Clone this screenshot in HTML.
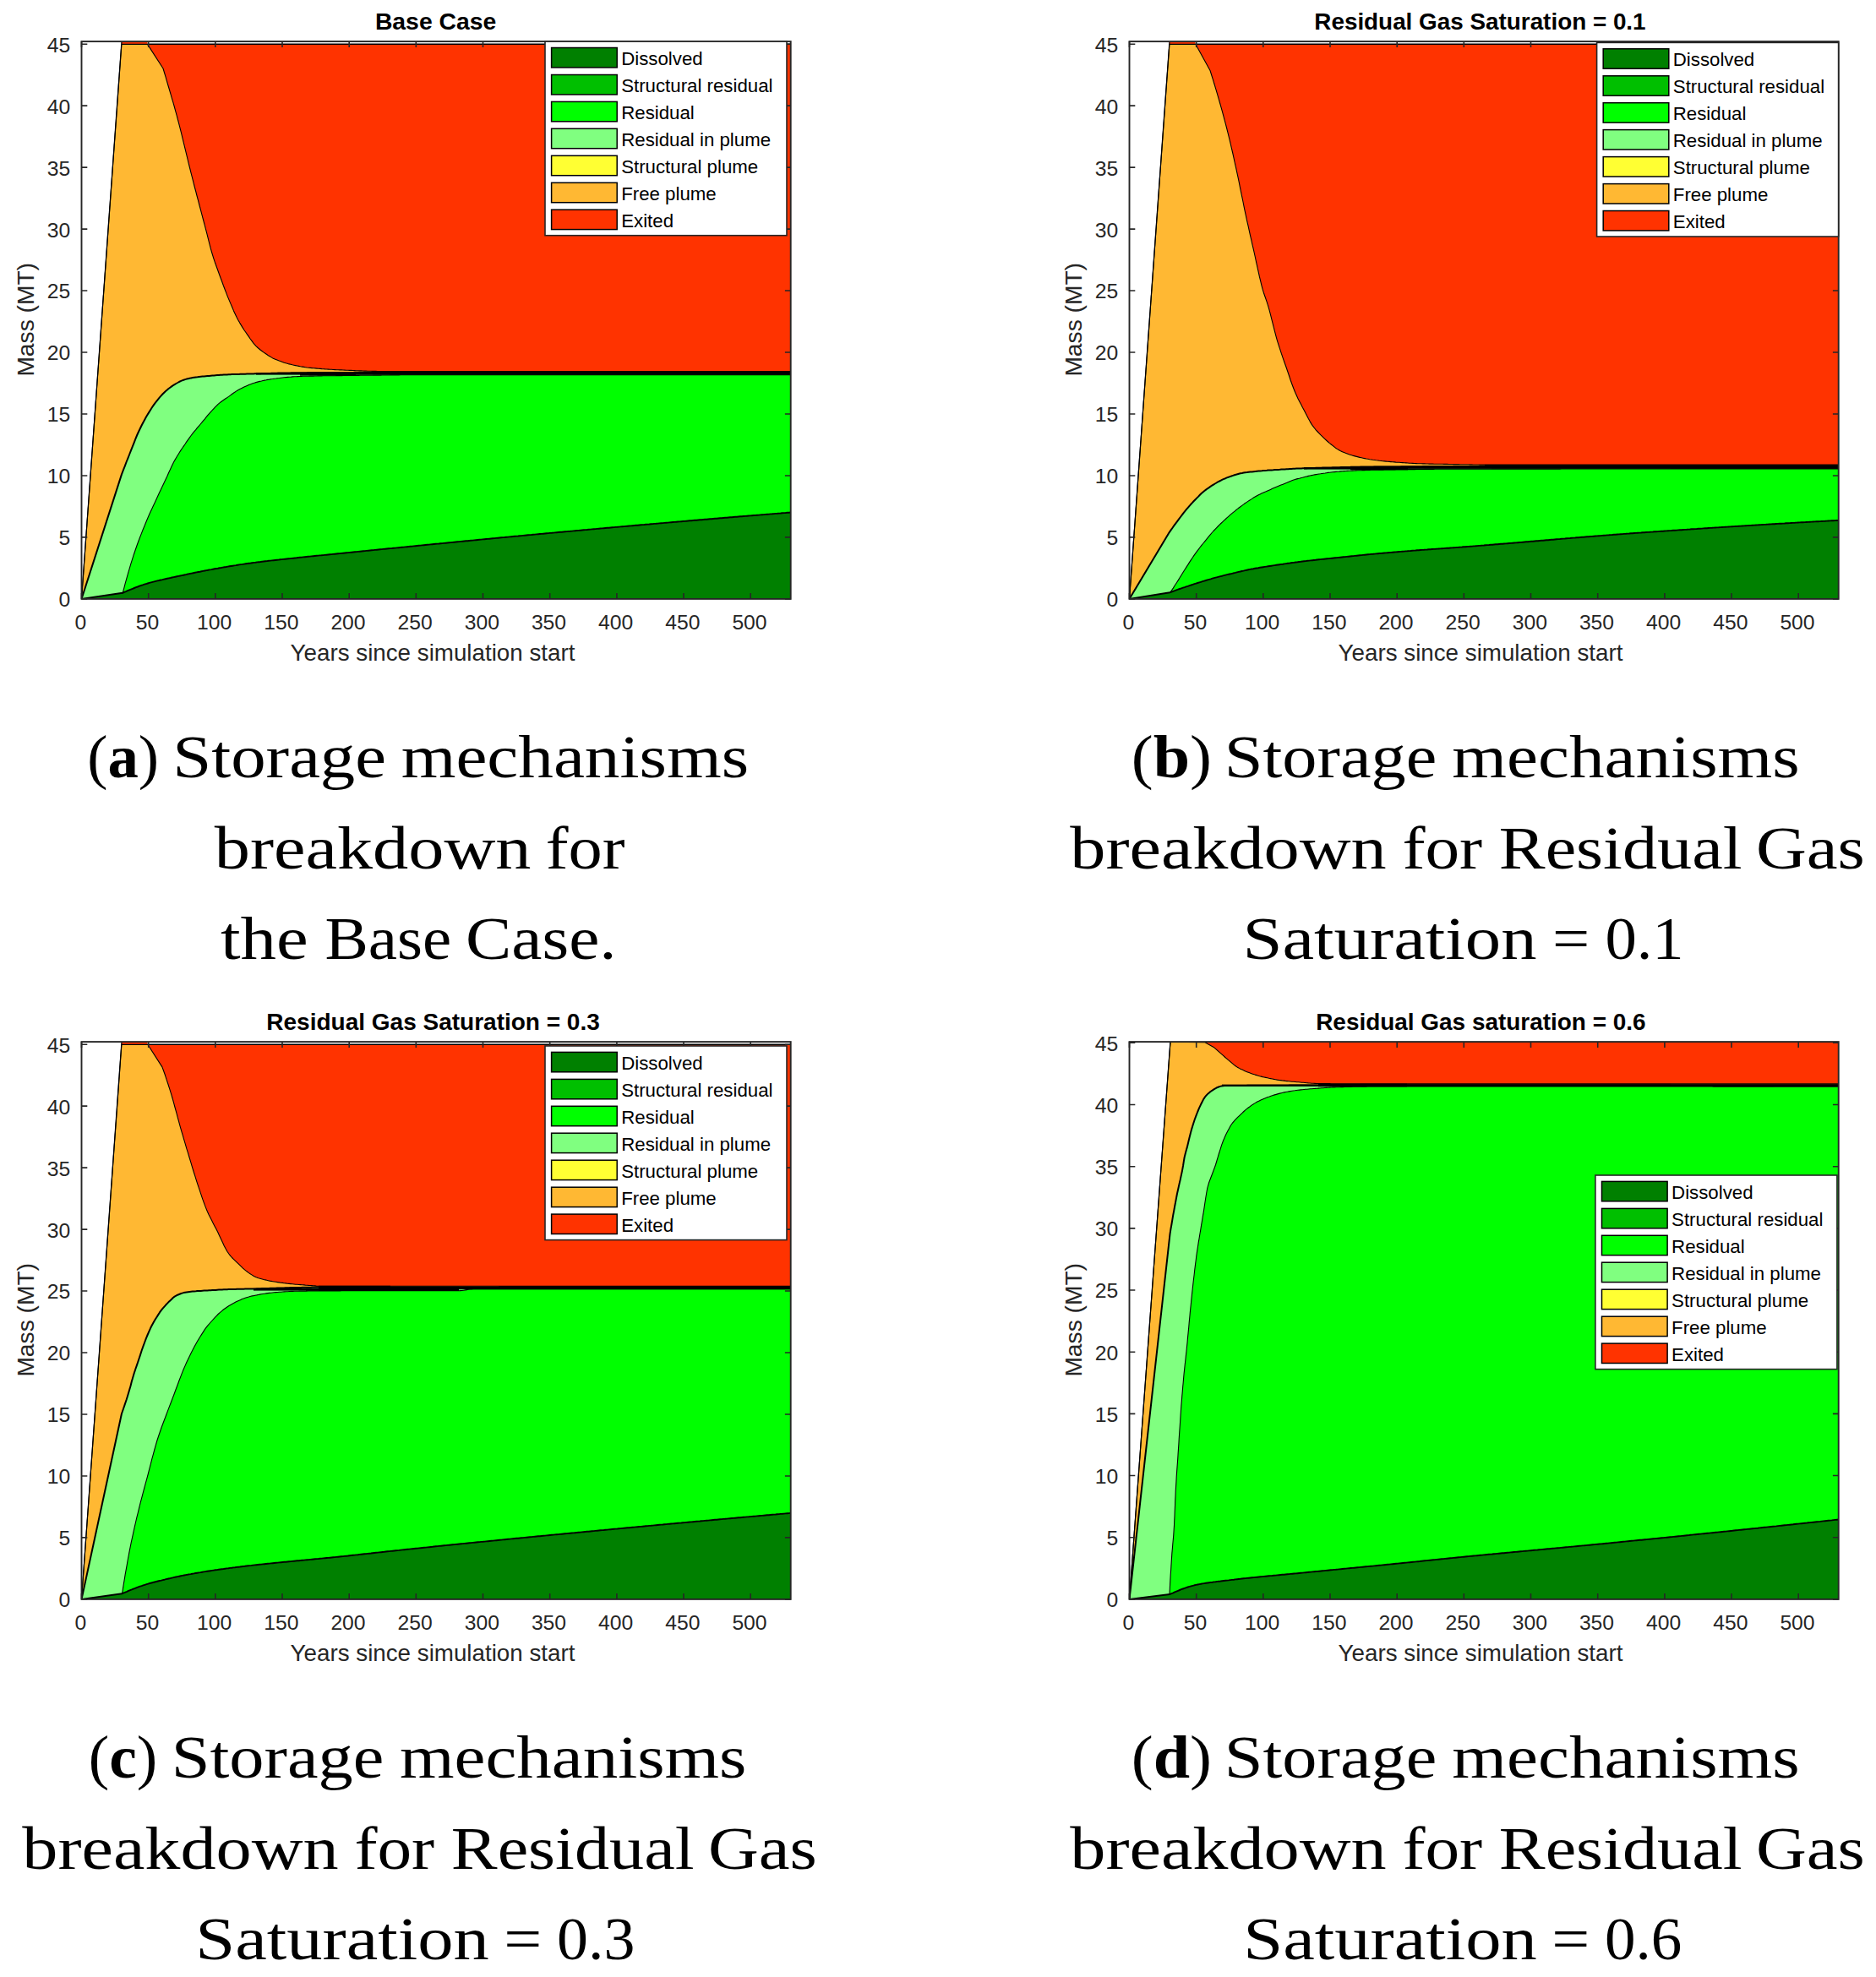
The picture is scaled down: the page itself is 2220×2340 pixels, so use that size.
<!DOCTYPE html>
<html lang="en"><head><meta charset="utf-8"><title>Storage mechanisms breakdown</title>
<style>
html,body{margin:0;padding:0;background:#fff}
body{width:2220px;height:2340px;overflow:hidden}
svg{display:block}
text{font-family:"Liberation Sans",Arial,sans-serif;fill:#262626}
.tk text{font-size:24.7px}
.lb{font-size:27.2px}
.tt{font-size:27.2px;font-weight:bold;fill:#000}
.lg{font-size:22.25px;fill:#000}
.cp{font-family:"Liberation Serif","Times New Roman",serif;font-size:72px;fill:#000}
.cp .b{font-weight:bold}
</style></head><body>
<svg width="2220" height="2340" viewBox="0 0 2220 2340">
<rect width="2220" height="2340" fill="#fff"/>
<g transform="translate(0,0)">
<clipPath id="cpa"><rect x="96.5" y="49.1" width="839.2" height="659.8"/></clipPath>
<g clip-path="url(#cpa)">
<path d="M96.5 708.9 L143.9 50 L174.5 50 L174.5 52.3 L936.7 52.3 L937.7 52.3 L937.7 709.9 L96.5 709.9Z" fill="#ff3300"/>
<path d="M96.5 708.9 L143.9 52.4 L174.5 52.4 L193 81 L194.5 86 L196 90.9 L197.4 95.9 L198.9 101 L200.4 106 L201.9 111.2 L203.4 116.4 L205 121.6 L206.5 127 L207.9 132.1 L209.3 137.2 L210.7 142.5 L212.1 147.9 L213.5 153.3 L214.9 158.8 L216.2 164.4 L217.6 170.1 L219 175.8 L220.4 181.6 L221.8 187.3 L223.1 192.9 L224.5 198.5 L225.9 204.2 L227.4 209.8 L228.8 215.4 L230.2 221 L231.7 226.5 L233.1 232 L234.6 237.5 L236 243 L237.5 248.7 L239 254.3 L240.5 260 L242 265.6 L243.5 271.3 L245 277.1 L246.5 283.1 L248 289.1 L249.5 294.8 L251 300 L252.9 306.1 L254.8 311.8 L256.8 317.2 L258.7 322.5 L260.6 327.7 L262.4 332.5 L264.1 337.3 L265.9 342 L267.7 346.6 L269.4 351.1 L271.2 355.4 L273 359.6 L274.8 363.8 L276.5 367.9 L278.3 371.8 L280.1 375.5 L281.9 378.9 L283.7 382.1 L285.5 385.1 L287.2 387.9 L289 390.7 L290.8 393.3 L292.6 395.9 L294.4 398.4 L296.1 401 L297.9 403.4 L299.7 405.8 L301.4 407.9 L303.2 409.8 L305 411.5 L306.8 413 L308.5 414.5 L310.3 415.8 L312.1 417.1 L313.9 418.3 L315.7 419.5 L317.4 420.7 L319.2 421.8 L321 422.9 L322.7 423.9 L324.5 424.7 L326.4 425.5 L328.4 426.3 L330.3 427.1 L332.3 427.8 L334.2 428.5 L336.2 429.2 L338.1 429.8 L340.1 430.3 L342 430.9 L344 431.3 L345.9 431.8 L347.8 432.2 L349.8 432.6 L351.7 433 L353.6 433.4 L355.6 433.8 L357.5 434.1 L359.5 434.4 L361.4 434.7 L363.3 435 L365.3 435.2 L367.2 435.4 L369.1 435.6 L371.1 435.8 L373 435.9 L374.9 436.1 L376.9 436.3 L378.8 436.4 L380.8 436.6 L382.7 436.7 L384.6 436.9 L386.6 437 L388.5 437.1 L390.4 437.2 L392.4 437.3 L394.3 437.5 L396.2 437.6 L398.2 437.7 L400.1 437.8 L402.1 437.9 L404 437.9 L405.9 438 L407.9 438.1 L409.8 438.2 L411.7 438.3 L413.7 438.4 L415.6 438.4 L417.6 438.5 L419.5 438.6 L421.4 438.7 L423.4 438.8 L425.3 438.9 L427.3 438.9 L429.2 439 L431.1 439.1 L433.1 439.1 L435 439.2 L437 439.3 L438.9 439.3 L440.9 439.4 L442.8 439.4 L444.7 439.4 L446.7 439.5 L448.6 439.5 L450.6 439.5 L452.5 439.5 L454.5 439.5 L456.5 439.5 L458.5 439.5 L460.5 439.5 L462.5 439.5 L464.5 439.5 L466.5 439.5 L468.5 439.5 L470.5 439.5 L472.5 439.5 L474.5 439.5 L476.5 439.5 L478.5 439.5 L480.5 439.5 L482.5 439.5 L484.4 439.5 L486.4 439.5 L488.4 439.5 L490.4 439.5 L492.4 439.5 L494.4 439.5 L496.4 439.5 L498.4 439.5 L500.4 439.5 L502.4 439.5 L504.4 439.5 L506.4 439.5 L508.4 439.5 L510.4 439.5 L512.4 439.5 L514.4 439.5 L516.4 439.5 L518.4 439.5 L520.4 439.5 L522.4 439.5 L524.4 439.5 L526.4 439.5 L528.4 439.5 L530.4 439.5 L532.4 439.5 L534.4 439.5 L536.4 439.5 L538.4 439.5 L540.4 439.5 L542.4 439.5 L544.3 439.5 L546.3 439.5 L548.3 439.5 L550.3 439.5 L552.3 439.5 L554.3 439.5 L556.3 439.5 L558.3 439.5 L560.3 439.5 L562.3 439.5 L564.3 439.5 L566.3 439.5 L568.3 439.5 L570.3 439.5 L572.3 439.5 L574.3 439.5 L576.3 439.5 L578.3 439.5 L580.3 439.5 L582.3 439.5 L584.3 439.5 L586.3 439.5 L588.3 439.5 L590.3 439.5 L592.3 439.5 L594.3 439.5 L596.3 439.5 L598.3 439.5 L600.3 439.5 L602.3 439.5 L604.2 439.5 L606.2 439.5 L608.2 439.5 L610.2 439.5 L612.2 439.5 L614.2 439.5 L616.2 439.5 L618.2 439.5 L620.2 439.5 L622.2 439.5 L624.2 439.5 L626.2 439.5 L628.2 439.5 L630.2 439.5 L632.2 439.5 L634.2 439.5 L636.2 439.5 L638.2 439.5 L640.2 439.5 L642.2 439.5 L644.2 439.5 L646.2 439.5 L648.2 439.5 L650.2 439.5 L652.2 439.5 L654.2 439.5 L656.2 439.5 L658.2 439.5 L660.2 439.5 L662.2 439.5 L664.1 439.5 L666.1 439.5 L668.1 439.5 L670.1 439.5 L672.1 439.5 L674.1 439.5 L676.1 439.5 L678.1 439.5 L680.1 439.5 L682.1 439.5 L684.1 439.5 L686.1 439.5 L688.1 439.5 L690.1 439.5 L692.1 439.5 L694.1 439.5 L696.1 439.5 L698.1 439.5 L700.1 439.5 L702.1 439.5 L704.1 439.5 L706.1 439.5 L708.1 439.5 L710.1 439.5 L712.1 439.5 L714.1 439.5 L716.1 439.5 L718.1 439.5 L720.1 439.5 L722.1 439.5 L724.1 439.5 L726 439.5 L728 439.5 L730 439.5 L732 439.5 L734 439.5 L736 439.5 L738 439.5 L740 439.5 L742 439.5 L744 439.5 L746 439.5 L748 439.5 L750 439.5 L752 439.5 L754 439.5 L756 439.5 L758 439.5 L760 439.5 L762 439.5 L764 439.5 L766 439.5 L768 439.5 L770 439.5 L772 439.5 L774 439.5 L776 439.5 L778 439.5 L780 439.5 L782 439.5 L784 439.5 L785.9 439.5 L787.9 439.5 L789.9 439.5 L791.9 439.5 L793.9 439.5 L795.9 439.5 L797.9 439.5 L799.9 439.5 L801.9 439.5 L803.9 439.5 L805.9 439.5 L807.9 439.5 L809.9 439.5 L811.9 439.5 L813.9 439.5 L815.9 439.5 L817.9 439.5 L819.9 439.5 L821.9 439.5 L823.9 439.5 L825.9 439.5 L827.9 439.5 L829.9 439.5 L831.9 439.5 L833.9 439.5 L835.9 439.5 L837.9 439.5 L839.9 439.5 L841.9 439.5 L843.9 439.5 L845.8 439.5 L847.8 439.5 L849.8 439.5 L851.8 439.5 L853.8 439.5 L855.8 439.5 L857.8 439.5 L859.8 439.5 L861.8 439.5 L863.8 439.5 L865.8 439.5 L867.8 439.5 L869.8 439.5 L871.8 439.5 L873.8 439.5 L875.8 439.5 L877.8 439.5 L879.8 439.5 L881.8 439.5 L883.8 439.5 L885.8 439.5 L887.8 439.5 L889.8 439.5 L891.8 439.5 L893.8 439.5 L895.8 439.5 L897.8 439.5 L899.8 439.5 L901.8 439.5 L903.8 439.5 L905.7 439.5 L907.7 439.5 L909.7 439.5 L911.7 439.5 L913.7 439.5 L915.7 439.5 L917.7 439.5 L919.7 439.5 L921.7 439.5 L923.7 439.5 L925.7 439.5 L927.7 439.5 L929.7 439.5 L931.7 439.5 L933.7 439.5 L935.7 439.5 L936.7 439.5 L936.7 709.9 L96.5 709.9Z" fill="#ffb833"/>
<path d="M96.5 708.9 L143.9 561.6 L145.8 556.7 L147.7 551.9 L149.5 547 L151.4 542.3 L153.3 537.5 L155.1 532.9 L156.9 528.3 L158.7 523.8 L160.4 519.3 L162.2 515 L164 511 L165.8 507.3 L167.5 503.7 L169.3 500.3 L171.1 497 L172.8 493.8 L174.6 490.8 L176.4 487.9 L178.2 485 L179.9 482.3 L181.7 479.6 L183.5 477.1 L185.3 474.8 L187.1 472.6 L188.9 470.4 L190.7 468.4 L192.4 466.5 L194.2 464.7 L196 463 L197.8 461.5 L199.5 460 L201.3 458.7 L203.1 457.4 L204.8 456.2 L206.6 455.1 L208.4 454 L210.2 453 L211.9 452 L213.7 451.1 L215.5 450.4 L217.3 449.7 L219.1 449.1 L220.8 448.6 L222.6 448.2 L224.4 447.8 L226.1 447.4 L227.9 447.1 L229.8 446.8 L231.8 446.5 L233.7 446.3 L235.7 446 L237.6 445.8 L239.6 445.6 L241.5 445.4 L243.5 445.2 L245.4 445 L247.4 444.9 L249.3 444.7 L251.2 444.5 L253.2 444.4 L255.1 444.2 L257 444.1 L259 444 L260.9 443.8 L262.9 443.7 L264.8 443.6 L266.7 443.5 L268.7 443.4 L270.6 443.3 L272.6 443.2 L274.5 443.1 L276.5 443.1 L278.4 443 L280.4 442.9 L282.4 442.9 L284.3 442.8 L286.3 442.8 L288.2 442.7 L290.2 442.7 L292.2 442.6 L294.1 442.5 L296.1 442.5 L298 442.4 L300 442.4 L301.9 442.3 L303.9 442.3 L305.8 442.2 L307.8 442.2 L309.7 442.1 L311.7 442.1 L313.6 442 L315.6 442 L317.5 441.9 L319.5 441.9 L321.4 441.8 L323.4 441.8 L325.3 441.7 L327.3 441.7 L329.2 441.6 L331.2 441.6 L333.1 441.6 L335.1 441.5 L337 441.5 L339 441.4 L340.9 441.4 L342.9 441.4 L344.8 441.3 L346.8 441.3 L348.7 441.3 L350.7 441.3 L352.6 441.2 L354.6 441.2 L356.5 441.2 L358.5 441.2 L360.5 441.2 L362.5 441.2 L364.5 441.1 L366.5 441.1 L368.5 441.1 L370.4 441.1 L372.4 441.1 L374.4 441.1 L376.4 441.1 L378.4 441.1 L380.4 441 L382.4 441 L384.4 441 L386.4 441 L388.4 441 L390.4 441 L392.4 441 L394.4 441 L396.4 441 L398.3 440.9 L400.3 440.9 L402.3 440.9 L404.3 440.9 L406.3 440.9 L408.3 440.9 L410.3 440.9 L412.3 440.9 L414.3 440.9 L416.3 440.9 L418.3 440.9 L420.3 440.8 L422.3 440.8 L424.2 440.8 L426.2 440.8 L428.2 440.8 L430.2 440.8 L432.2 440.8 L434.2 440.8 L436.2 440.8 L438.2 440.8 L440.2 440.8 L442.2 440.8 L444.2 440.8 L446.2 440.8 L448.2 440.8 L450.1 440.7 L452.1 440.7 L454.1 440.7 L456.1 440.7 L458.1 440.7 L460.1 440.7 L462.1 440.7 L464.1 440.7 L466.1 440.7 L468.1 440.7 L470.1 440.7 L472.1 440.7 L474.1 440.7 L476.1 440.7 L478 440.7 L480 440.7 L482 440.7 L484 440.7 L486 440.7 L488 440.7 L490 440.7 L492 440.7 L494 440.7 L496 440.7 L498 440.7 L500 440.7 L502 440.7 L504 440.7 L506 440.7 L508 440.7 L510 440.7 L512 440.7 L514 440.7 L516 440.7 L518 440.7 L520 440.7 L522 440.7 L524 440.7 L526 440.7 L528 440.7 L530 440.7 L532 440.7 L534 440.7 L536 440.7 L538 440.7 L540 440.7 L542 440.7 L544 440.7 L546 440.7 L548 440.7 L550 440.7 L552 440.7 L554 440.7 L556 440.7 L558 440.7 L560 440.7 L562 440.7 L564 440.7 L565.9 440.7 L567.9 440.7 L569.9 440.7 L571.9 440.7 L573.9 440.7 L575.9 440.7 L577.9 440.7 L579.9 440.7 L581.9 440.7 L583.9 440.7 L585.9 440.7 L587.9 440.7 L589.9 440.7 L591.9 440.7 L593.9 440.7 L595.9 440.7 L597.9 440.7 L599.9 440.7 L601.9 440.7 L603.9 440.7 L605.9 440.7 L607.9 440.7 L609.9 440.7 L611.9 440.7 L613.9 440.7 L615.9 440.7 L617.9 440.7 L619.9 440.7 L621.9 440.7 L623.9 440.7 L625.9 440.7 L627.9 440.7 L629.9 440.7 L631.9 440.7 L633.9 440.7 L635.9 440.7 L637.9 440.7 L639.9 440.7 L641.9 440.7 L643.9 440.7 L645.9 440.7 L647.9 440.7 L649.9 440.7 L651.9 440.7 L653.9 440.7 L655.9 440.7 L657.9 440.7 L659.9 440.7 L661.9 440.7 L663.9 440.7 L665.9 440.7 L667.9 440.7 L669.9 440.7 L671.9 440.7 L673.9 440.7 L675.9 440.7 L677.9 440.7 L679.9 440.7 L681.9 440.7 L683.9 440.7 L685.9 440.7 L687.9 440.7 L689.9 440.7 L691.9 440.7 L693.9 440.7 L695.9 440.7 L697.9 440.7 L699.9 440.7 L701.9 440.7 L703.9 440.7 L705.9 440.7 L707.9 440.7 L709.9 440.7 L711.9 440.7 L713.8 440.7 L715.8 440.7 L717.8 440.7 L719.8 440.7 L721.8 440.7 L723.8 440.7 L725.8 440.7 L727.8 440.7 L729.8 440.7 L731.8 440.7 L733.8 440.7 L735.8 440.7 L737.8 440.7 L739.8 440.7 L741.8 440.7 L743.8 440.7 L745.8 440.7 L747.8 440.7 L749.8 440.7 L751.8 440.7 L753.8 440.7 L755.8 440.7 L757.8 440.7 L759.8 440.7 L761.8 440.7 L763.8 440.7 L765.8 440.7 L767.8 440.7 L769.8 440.7 L771.8 440.7 L773.8 440.7 L775.8 440.7 L777.8 440.7 L779.8 440.7 L781.8 440.7 L783.8 440.7 L785.8 440.7 L787.8 440.7 L789.8 440.7 L791.8 440.7 L793.8 440.7 L795.8 440.7 L797.8 440.7 L799.8 440.7 L801.8 440.7 L803.8 440.7 L805.8 440.7 L807.8 440.7 L809.8 440.7 L811.8 440.7 L813.8 440.7 L815.8 440.7 L817.8 440.7 L819.8 440.7 L821.8 440.7 L823.8 440.7 L825.8 440.7 L827.8 440.7 L829.8 440.7 L831.8 440.7 L833.8 440.7 L835.8 440.7 L837.8 440.7 L839.8 440.7 L841.8 440.7 L843.8 440.7 L845.8 440.7 L847.8 440.7 L849.8 440.7 L851.8 440.7 L853.8 440.7 L855.8 440.7 L857.8 440.7 L859.8 440.7 L861.7 440.7 L863.7 440.7 L865.7 440.7 L867.7 440.7 L869.7 440.7 L871.7 440.7 L873.7 440.7 L875.7 440.7 L877.7 440.7 L879.7 440.7 L881.7 440.7 L883.7 440.7 L885.7 440.7 L887.7 440.7 L889.7 440.7 L891.7 440.7 L893.7 440.7 L895.7 440.7 L897.7 440.7 L899.7 440.7 L901.7 440.7 L903.7 440.7 L905.7 440.7 L907.7 440.7 L909.7 440.7 L911.7 440.7 L913.7 440.7 L915.7 440.7 L917.7 440.7 L919.7 440.7 L921.7 440.7 L923.7 440.7 L925.7 440.7 L927.7 440.7 L929.7 440.7 L931.7 440.7 L933.7 440.7 L935.7 440.7 L936.7 440.7 L936.7 709.9 L96.5 709.9Z" fill="#80ff80"/>
<path d="M145 702.6 L146.7 696.3 L148.3 690.2 L150 684.2 L151.6 678.3 L153.3 672.7 L154.9 667.1 L156.6 661.8 L158.2 656.7 L159.9 651.7 L161.8 646.3 L163.6 641.2 L165.5 636.2 L167.4 631.4 L169.2 626.8 L171.1 622.2 L172.9 617.7 L174.8 613.3 L176.5 609.3 L178.2 605.5 L180 601.7 L181.7 598 L183.4 594.4 L185.1 590.7 L186.7 587.2 L188.4 583.6 L190.1 580 L192.1 575.8 L194 571.7 L196 567.5 L197.8 563.7 L199.5 559.8 L201.3 555.9 L203.1 552.1 L204.8 548.5 L206.6 545.1 L208.4 542 L210.2 539 L211.9 536.2 L213.7 533.4 L215.5 530.8 L217.3 528.1 L219.1 525.5 L220.8 522.9 L222.6 520.4 L224.4 517.9 L226.1 515.5 L227.9 513.2 L229.7 510.9 L231.5 508.8 L233.2 506.7 L235 504.6 L236.8 502.5 L238.6 500.4 L240.4 498.2 L242.2 496.1 L243.9 493.9 L245.7 491.7 L247.5 489.6 L249.3 487.6 L251.1 485.7 L252.8 483.8 L254.6 481.9 L256.4 480.1 L258.1 478.4 L259.9 476.9 L261.7 475.5 L263.5 474.2 L265.2 473 L267 471.8 L268.8 470.6 L270.6 469.4 L272.4 468.1 L274.1 466.8 L275.9 465.5 L277.7 464.3 L279.4 463.1 L281.2 462 L283 461 L284.8 460.1 L286.5 459.2 L288.3 458.3 L290.1 457.5 L291.9 456.7 L293.5 456 L295.1 455.3 L296.8 454.7 L298.4 454.1 L300 453.5 L301.9 452.9 L303.8 452.4 L305.6 451.9 L307.5 451.4 L309.4 451 L311.3 450.5 L313.2 450.1 L315.1 449.8 L316.9 449.4 L318.8 449.1 L320.7 448.7 L322.6 448.5 L324.5 448.2 L326.5 448 L328.5 447.7 L330.5 447.5 L332.5 447.2 L334.5 447 L336.5 446.8 L338.5 446.6 L340.5 446.4 L342.5 446.2 L344.5 446.1 L346.5 445.9 L348.5 445.8 L350.5 445.7 L352.5 445.6 L354.5 445.5 L356.5 445.4 L358.5 445.3 L360.5 445.3 L362.5 445.2 L364.5 445.2 L366.5 445.1 L368.5 445.1 L370.5 445.1 L372.5 445 L374.5 445 L376.5 444.9 L378.5 444.9 L380.5 444.9 L382.5 444.8 L384.5 444.8 L386.5 444.8 L388.5 444.8 L390.5 444.7 L392.5 444.7 L394.5 444.7 L396.5 444.7 L398.5 444.6 L400.5 444.6 L402.5 444.6 L404.5 444.6 L406.5 444.5 L408.5 444.5 L410.5 444.5 L412.5 444.5 L414.5 444.5 L416.5 444.4 L418.5 444.4 L420.5 444.4 L422.5 444.4 L424.5 444.4 L426.5 444.3 L428.4 444.3 L430.4 444.3 L432.4 444.3 L434.4 444.2 L436.4 444.2 L438.4 444.2 L440.4 444.2 L442.3 444.1 L444.3 444.1 L446.3 444.1 L448.3 444.1 L450.3 444.1 L452.3 444 L454.3 444 L456.2 444 L458.2 444 L460.2 444 L462.2 443.9 L464.2 443.9 L466.2 443.9 L468.2 443.9 L470.1 443.9 L472.1 443.9 L474.1 443.8 L476.1 443.8 L478.1 443.8 L480.1 443.8 L482.1 443.8 L484 443.8 L486 443.8 L488 443.8 L490 443.8 L492 443.8 L494 443.8 L496 443.8 L498 443.8 L500 443.8 L502 443.8 L504 443.8 L506 443.8 L508 443.8 L510 443.8 L512 443.8 L514 443.8 L516 443.8 L518 443.8 L520 443.8 L522 443.8 L524 443.8 L526 443.8 L528 443.8 L530 443.8 L532 443.8 L534 443.8 L536 443.8 L538 443.8 L540 443.8 L542 443.8 L544 443.8 L546 443.8 L548 443.8 L550 443.8 L552 443.8 L554 443.8 L556 443.8 L558 443.8 L560 443.8 L562 443.8 L564 443.8 L565.9 443.8 L567.9 443.8 L569.9 443.8 L571.9 443.8 L573.9 443.8 L575.9 443.8 L577.9 443.8 L579.9 443.8 L581.9 443.8 L583.9 443.8 L585.9 443.8 L587.9 443.8 L589.9 443.8 L591.9 443.8 L593.9 443.8 L595.9 443.8 L597.9 443.8 L599.9 443.8 L601.9 443.8 L603.9 443.8 L605.9 443.8 L607.9 443.8 L609.9 443.8 L611.9 443.8 L613.9 443.8 L615.9 443.8 L617.9 443.8 L619.9 443.8 L621.9 443.8 L623.9 443.8 L625.9 443.8 L627.9 443.8 L629.9 443.8 L631.9 443.8 L633.9 443.8 L635.9 443.8 L637.9 443.8 L639.9 443.8 L641.9 443.8 L643.9 443.8 L645.9 443.8 L647.9 443.8 L649.9 443.8 L651.9 443.8 L653.9 443.8 L655.9 443.8 L657.9 443.8 L659.9 443.8 L661.9 443.8 L663.9 443.8 L665.9 443.8 L667.9 443.8 L669.9 443.8 L671.9 443.8 L673.9 443.8 L675.9 443.8 L677.9 443.8 L679.9 443.8 L681.9 443.8 L683.9 443.8 L685.9 443.8 L687.9 443.8 L689.9 443.8 L691.9 443.8 L693.9 443.8 L695.9 443.8 L697.9 443.8 L699.9 443.8 L701.9 443.8 L703.9 443.8 L705.9 443.8 L707.9 443.8 L709.9 443.8 L711.9 443.8 L713.8 443.8 L715.8 443.8 L717.8 443.8 L719.8 443.8 L721.8 443.8 L723.8 443.8 L725.8 443.8 L727.8 443.8 L729.8 443.8 L731.8 443.8 L733.8 443.8 L735.8 443.8 L737.8 443.8 L739.8 443.8 L741.8 443.8 L743.8 443.8 L745.8 443.8 L747.8 443.8 L749.8 443.8 L751.8 443.8 L753.8 443.8 L755.8 443.8 L757.8 443.8 L759.8 443.8 L761.8 443.8 L763.8 443.8 L765.8 443.8 L767.8 443.8 L769.8 443.8 L771.8 443.8 L773.8 443.8 L775.8 443.8 L777.8 443.8 L779.8 443.8 L781.8 443.8 L783.8 443.8 L785.8 443.8 L787.8 443.8 L789.8 443.8 L791.8 443.8 L793.8 443.8 L795.8 443.8 L797.8 443.8 L799.8 443.8 L801.8 443.8 L803.8 443.8 L805.8 443.8 L807.8 443.8 L809.8 443.8 L811.8 443.8 L813.8 443.8 L815.8 443.8 L817.8 443.8 L819.8 443.8 L821.8 443.8 L823.8 443.8 L825.8 443.8 L827.8 443.8 L829.8 443.8 L831.8 443.8 L833.8 443.8 L835.8 443.8 L837.8 443.8 L839.8 443.8 L841.8 443.8 L843.8 443.8 L845.8 443.8 L847.8 443.8 L849.8 443.8 L851.8 443.8 L853.8 443.8 L855.8 443.8 L857.8 443.8 L859.8 443.8 L861.7 443.8 L863.7 443.8 L865.7 443.8 L867.7 443.8 L869.7 443.8 L871.7 443.8 L873.7 443.8 L875.7 443.8 L877.7 443.8 L879.7 443.8 L881.7 443.8 L883.7 443.8 L885.7 443.8 L887.7 443.8 L889.7 443.8 L891.7 443.8 L893.7 443.8 L895.7 443.8 L897.7 443.8 L899.7 443.8 L901.7 443.8 L903.7 443.8 L905.7 443.8 L907.7 443.8 L909.7 443.8 L911.7 443.8 L913.7 443.8 L915.7 443.8 L917.7 443.8 L919.7 443.8 L921.7 443.8 L923.7 443.8 L925.7 443.8 L927.7 443.8 L929.7 443.8 L931.7 443.8 L933.7 443.8 L935.7 443.8 L936.7 443.8 L936.7 709.9 L145 709.9Z" fill="#00ff00"/>
<path d="M96.5 708.9 L145 701.8 L147 700.9 L149 700.1 L151 699.2 L152.9 698.4 L154.9 697.6 L156.9 696.8 L158.9 696 L160.9 695.2 L162.9 694.5 L164.9 693.7 L166.9 693 L168.8 692.4 L170.8 691.7 L172.8 691.1 L174.8 690.5 L176.7 689.9 L178.6 689.4 L180.6 688.9 L182.5 688.4 L184.4 687.9 L186.3 687.4 L188.2 687 L190.2 686.5 L192.1 686.1 L194 685.6 L195.9 685.2 L197.8 684.8 L199.8 684.4 L201.7 684 L203.6 683.5 L205.5 683.1 L207.4 682.7 L209.4 682.3 L211.3 681.9 L213.2 681.5 L215.1 681.1 L217.1 680.7 L219 680.3 L221 679.8 L222.9 679.4 L224.8 679 L226.8 678.6 L228.7 678.2 L230.7 677.8 L232.6 677.4 L234.6 677 L236.5 676.7 L238.4 676.3 L240.4 675.9 L242.3 675.5 L244.3 675.1 L246.2 674.8 L248.1 674.4 L250.1 674.1 L252 673.7 L254 673.3 L255.9 673 L257.8 672.7 L259.8 672.3 L261.7 672 L263.6 671.6 L265.6 671.3 L267.5 671 L269.5 670.6 L271.4 670.3 L273.3 670 L275.3 669.7 L277.2 669.4 L279.1 669.1 L281.1 668.7 L283 668.4 L284.9 668.1 L286.9 667.9 L288.8 667.6 L290.8 667.3 L292.7 667 L294.6 666.7 L296.6 666.5 L298.5 666.2 L300.4 665.9 L302.4 665.7 L304.3 665.4 L306.3 665.2 L308.2 665 L310.1 664.7 L312.1 664.5 L314 664.3 L316 664.1 L317.9 663.8 L319.9 663.6 L321.8 663.4 L323.7 663.2 L325.7 663 L327.6 662.8 L329.6 662.6 L331.5 662.3 L333.4 662.1 L335.4 661.9 L337.3 661.7 L339.3 661.5 L341.2 661.3 L343.2 661.1 L345.1 660.9 L347.1 660.7 L349 660.5 L351 660.3 L353 660 L354.9 659.8 L356.9 659.6 L358.8 659.4 L360.8 659.2 L362.8 659 L364.7 658.8 L366.7 658.6 L368.6 658.4 L370.6 658.2 L372.6 658 L374.5 657.8 L376.5 657.6 L378.4 657.4 L380.4 657.3 L382.4 657.1 L384.3 656.9 L386.3 656.7 L388.2 656.5 L390.2 656.3 L392.2 656.1 L394.1 655.9 L396.1 655.7 L398 655.5 L400 655.3 L402 655.1 L404 654.9 L406 654.7 L408 654.5 L410 654.3 L411.9 654.1 L413.9 653.9 L415.9 653.7 L417.9 653.5 L419.9 653.3 L421.9 653.1 L423.9 652.9 L425.9 652.7 L427.9 652.5 L429.9 652.3 L431.8 652.1 L433.8 651.9 L435.8 651.7 L437.8 651.5 L439.8 651.3 L441.8 651.1 L443.8 650.9 L445.8 650.7 L447.8 650.5 L449.8 650.3 L451.7 650.1 L453.7 649.9 L455.7 649.7 L457.7 649.5 L459.7 649.3 L461.7 649.1 L463.7 649 L465.7 648.8 L467.7 648.6 L469.7 648.4 L471.7 648.2 L473.6 648 L475.6 647.8 L477.6 647.6 L479.6 647.4 L481.6 647.2 L483.6 647 L485.6 646.8 L487.6 646.6 L489.6 646.4 L491.6 646.2 L493.5 646 L495.5 645.8 L497.5 645.6 L499.5 645.4 L501.5 645.2 L503.5 645 L505.5 644.8 L507.5 644.6 L509.5 644.4 L511.5 644.2 L513.5 644 L515.4 643.8 L517.4 643.6 L519.4 643.5 L521.4 643.3 L523.4 643.1 L525.4 642.9 L527.4 642.7 L529.4 642.5 L531.4 642.3 L533.4 642.1 L535.3 641.9 L537.3 641.7 L539.3 641.5 L541.3 641.3 L543.3 641.1 L545.3 640.9 L547.3 640.7 L549.3 640.5 L551.3 640.3 L553.3 640.2 L555.2 640 L557.2 639.8 L559.2 639.6 L561.2 639.4 L563.2 639.2 L565.2 639 L567.2 638.8 L569.2 638.6 L571.2 638.4 L573.2 638.2 L575.2 638 L577.1 637.9 L579.1 637.7 L581.1 637.5 L583.1 637.3 L585.1 637.1 L587.1 636.9 L589.1 636.7 L591.1 636.5 L593.1 636.3 L595.1 636.1 L597 636 L599 635.8 L601 635.6 L603 635.4 L605 635.2 L607 635 L609 634.8 L611 634.6 L613 634.5 L615 634.3 L617 634.1 L618.9 633.9 L620.9 633.7 L622.9 633.5 L624.9 633.3 L626.9 633.1 L628.9 633 L630.9 632.8 L632.9 632.6 L634.9 632.4 L636.9 632.2 L638.8 632 L640.8 631.9 L642.8 631.7 L644.8 631.5 L646.8 631.3 L648.8 631.1 L650.8 630.9 L652.8 630.8 L654.8 630.6 L656.8 630.4 L658.7 630.2 L660.7 630 L662.7 629.8 L664.7 629.7 L666.7 629.5 L668.7 629.3 L670.7 629.1 L672.7 628.9 L674.7 628.8 L676.7 628.6 L678.7 628.4 L680.7 628.2 L682.6 628 L684.6 627.9 L686.6 627.7 L688.6 627.5 L690.6 627.3 L692.6 627.1 L694.6 627 L696.6 626.8 L698.6 626.6 L700.6 626.4 L702.6 626.2 L704.6 626.1 L706.6 625.9 L708.6 625.7 L710.5 625.5 L712.5 625.4 L714.5 625.2 L716.5 625 L718.5 624.8 L720.5 624.7 L722.5 624.5 L724.5 624.3 L726.5 624.1 L728.5 623.9 L730.5 623.8 L732.5 623.6 L734.5 623.4 L736.4 623.2 L738.4 623.1 L740.4 622.9 L742.4 622.7 L744.4 622.5 L746.4 622.4 L748.4 622.2 L750.4 622 L752.4 621.8 L754.4 621.7 L756.4 621.5 L758.4 621.3 L760.4 621.1 L762.3 621 L764.3 620.8 L766.3 620.6 L768.3 620.5 L770.3 620.3 L772.3 620.1 L774.3 619.9 L776.3 619.8 L778.3 619.6 L780.3 619.4 L782.3 619.2 L784.3 619.1 L786.3 618.9 L788.3 618.7 L790.2 618.6 L792.2 618.4 L794.2 618.2 L796.2 618 L798.2 617.9 L800.2 617.7 L802.2 617.5 L804.2 617.4 L806.2 617.2 L808.2 617 L810.2 616.9 L812.2 616.7 L814.2 616.5 L816.1 616.3 L818.1 616.2 L820.1 616 L822.1 615.8 L824.1 615.7 L826.1 615.5 L828.1 615.3 L830.1 615.2 L832.1 615 L834.1 614.8 L836.1 614.7 L838.1 614.5 L840.1 614.3 L842.1 614.2 L844 614 L846 613.8 L848 613.7 L850 613.5 L852 613.3 L854 613.2 L856 613 L858 612.8 L860 612.7 L862 612.5 L864 612.3 L866 612.2 L868 612 L869.9 611.8 L871.9 611.7 L873.9 611.5 L875.9 611.3 L877.9 611.2 L879.9 611 L881.9 610.9 L883.9 610.7 L885.9 610.5 L887.9 610.4 L889.9 610.2 L891.9 610 L893.9 609.9 L895.8 609.7 L897.8 609.6 L899.8 609.4 L901.8 609.2 L903.8 609.1 L905.8 608.9 L907.8 608.7 L909.8 608.6 L911.8 608.4 L913.8 608.3 L915.8 608.1 L917.8 607.9 L919.8 607.8 L921.8 607.6 L923.7 607.5 L925.7 607.3 L927.7 607.1 L929.7 607 L931.7 606.8 L933.7 606.7 L935.7 606.5 L936.7 606.5 L936.7 709.9 L96.5 709.9Z" fill="#008000"/>
<path d="M96.5 708.9 L143.9 50" fill="none" stroke="#000" stroke-width="1.2" stroke-linejoin="round"/>
<path d="M174.5 52.3 L936.7 52.3" fill="none" stroke="#000" stroke-width="1.5" stroke-linejoin="round"/>
<path d="M96.5 708.9 L143.9 52.4 L174.5 52.4 L193 81 L194.5 86 L196 90.9 L197.4 95.9 L198.9 101 L200.4 106 L201.9 111.2 L203.4 116.4 L205 121.6 L206.5 127 L207.9 132.1 L209.3 137.2 L210.7 142.5 L212.1 147.9 L213.5 153.3 L214.9 158.8 L216.2 164.4 L217.6 170.1 L219 175.8 L220.4 181.6 L221.8 187.3 L223.1 192.9 L224.5 198.5 L225.9 204.2 L227.4 209.8 L228.8 215.4 L230.2 221 L231.7 226.5 L233.1 232 L234.6 237.5 L236 243 L237.5 248.7 L239 254.3 L240.5 260 L242 265.6 L243.5 271.3 L245 277.1 L246.5 283.1 L248 289.1 L249.5 294.8 L251 300 L252.9 306.1 L254.8 311.8 L256.8 317.2 L258.7 322.5 L260.6 327.7 L262.4 332.5 L264.1 337.3 L265.9 342 L267.7 346.6 L269.4 351.1 L271.2 355.4 L273 359.6 L274.8 363.8 L276.5 367.9 L278.3 371.8 L280.1 375.5 L281.9 378.9 L283.7 382.1 L285.5 385.1 L287.2 387.9 L289 390.7 L290.8 393.3 L292.6 395.9 L294.4 398.4 L296.1 401 L297.9 403.4 L299.7 405.8 L301.4 407.9 L303.2 409.8 L305 411.5 L306.8 413 L308.5 414.5 L310.3 415.8 L312.1 417.1 L313.9 418.3 L315.7 419.5 L317.4 420.7 L319.2 421.8 L321 422.9 L322.7 423.9 L324.5 424.7 L326.4 425.5 L328.4 426.3 L330.3 427.1 L332.3 427.8 L334.2 428.5 L336.2 429.2 L338.1 429.8 L340.1 430.3 L342 430.9 L344 431.3 L345.9 431.8 L347.8 432.2 L349.8 432.6 L351.7 433 L353.6 433.4 L355.6 433.8 L357.5 434.1 L359.5 434.4 L361.4 434.7 L363.3 435 L365.3 435.2 L367.2 435.4 L369.1 435.6 L371.1 435.8 L373 435.9 L374.9 436.1 L376.9 436.3 L378.8 436.4 L380.8 436.6 L382.7 436.7 L384.6 436.9 L386.6 437 L388.5 437.1 L390.4 437.2 L392.4 437.3 L394.3 437.5 L396.2 437.6 L398.2 437.7 L400.1 437.8 L402.1 437.9 L404 437.9 L405.9 438 L407.9 438.1 L409.8 438.2 L411.7 438.3 L413.7 438.4 L415.6 438.4 L417.6 438.5 L419.5 438.6 L421.4 438.7 L423.4 438.8 L425.3 438.9 L427.3 438.9 L429.2 439 L431.1 439.1 L433.1 439.1 L435 439.2 L437 439.3 L438.9 439.3 L440.9 439.4 L442.8 439.4 L444.7 439.4 L446.7 439.5 L448.6 439.5 L450.6 439.5 L452.5 439.5 L454.5 439.5 L456.5 439.5 L458.5 439.5 L460.5 439.5 L462.5 439.5 L464.5 439.5 L466.5 439.5 L468.5 439.5 L470.5 439.5 L472.5 439.5 L474.5 439.5 L476.5 439.5 L478.5 439.5 L480.5 439.5 L482.5 439.5 L484.4 439.5 L486.4 439.5 L488.4 439.5 L490.4 439.5 L492.4 439.5 L494.4 439.5 L496.4 439.5 L498.4 439.5 L500.4 439.5 L502.4 439.5 L504.4 439.5 L506.4 439.5 L508.4 439.5 L510.4 439.5 L512.4 439.5 L514.4 439.5 L516.4 439.5 L518.4 439.5 L520.4 439.5 L522.4 439.5 L524.4 439.5 L526.4 439.5 L528.4 439.5 L530.4 439.5 L532.4 439.5 L534.4 439.5 L536.4 439.5 L538.4 439.5 L540.4 439.5 L542.4 439.5 L544.3 439.5 L546.3 439.5 L548.3 439.5 L550.3 439.5 L552.3 439.5 L554.3 439.5 L556.3 439.5 L558.3 439.5 L560.3 439.5 L562.3 439.5 L564.3 439.5 L566.3 439.5 L568.3 439.5 L570.3 439.5 L572.3 439.5 L574.3 439.5 L576.3 439.5 L578.3 439.5 L580.3 439.5 L582.3 439.5 L584.3 439.5 L586.3 439.5 L588.3 439.5 L590.3 439.5 L592.3 439.5 L594.3 439.5 L596.3 439.5 L598.3 439.5 L600.3 439.5 L602.3 439.5 L604.2 439.5 L606.2 439.5 L608.2 439.5 L610.2 439.5 L612.2 439.5 L614.2 439.5 L616.2 439.5 L618.2 439.5 L620.2 439.5 L622.2 439.5 L624.2 439.5 L626.2 439.5 L628.2 439.5 L630.2 439.5 L632.2 439.5 L634.2 439.5 L636.2 439.5 L638.2 439.5 L640.2 439.5 L642.2 439.5 L644.2 439.5 L646.2 439.5 L648.2 439.5 L650.2 439.5 L652.2 439.5 L654.2 439.5 L656.2 439.5 L658.2 439.5 L660.2 439.5 L662.2 439.5 L664.1 439.5 L666.1 439.5 L668.1 439.5 L670.1 439.5 L672.1 439.5 L674.1 439.5 L676.1 439.5 L678.1 439.5 L680.1 439.5 L682.1 439.5 L684.1 439.5 L686.1 439.5 L688.1 439.5 L690.1 439.5 L692.1 439.5 L694.1 439.5 L696.1 439.5 L698.1 439.5 L700.1 439.5 L702.1 439.5 L704.1 439.5 L706.1 439.5 L708.1 439.5 L710.1 439.5 L712.1 439.5 L714.1 439.5 L716.1 439.5 L718.1 439.5 L720.1 439.5 L722.1 439.5 L724.1 439.5 L726 439.5 L728 439.5 L730 439.5 L732 439.5 L734 439.5 L736 439.5 L738 439.5 L740 439.5 L742 439.5 L744 439.5 L746 439.5 L748 439.5 L750 439.5 L752 439.5 L754 439.5 L756 439.5 L758 439.5 L760 439.5 L762 439.5 L764 439.5 L766 439.5 L768 439.5 L770 439.5 L772 439.5 L774 439.5 L776 439.5 L778 439.5 L780 439.5 L782 439.5 L784 439.5 L785.9 439.5 L787.9 439.5 L789.9 439.5 L791.9 439.5 L793.9 439.5 L795.9 439.5 L797.9 439.5 L799.9 439.5 L801.9 439.5 L803.9 439.5 L805.9 439.5 L807.9 439.5 L809.9 439.5 L811.9 439.5 L813.9 439.5 L815.9 439.5 L817.9 439.5 L819.9 439.5 L821.9 439.5 L823.9 439.5 L825.9 439.5 L827.9 439.5 L829.9 439.5 L831.9 439.5 L833.9 439.5 L835.9 439.5 L837.9 439.5 L839.9 439.5 L841.9 439.5 L843.9 439.5 L845.8 439.5 L847.8 439.5 L849.8 439.5 L851.8 439.5 L853.8 439.5 L855.8 439.5 L857.8 439.5 L859.8 439.5 L861.8 439.5 L863.8 439.5 L865.8 439.5 L867.8 439.5 L869.8 439.5 L871.8 439.5 L873.8 439.5 L875.8 439.5 L877.8 439.5 L879.8 439.5 L881.8 439.5 L883.8 439.5 L885.8 439.5 L887.8 439.5 L889.8 439.5 L891.8 439.5 L893.8 439.5 L895.8 439.5 L897.8 439.5 L899.8 439.5 L901.8 439.5 L903.8 439.5 L905.7 439.5 L907.7 439.5 L909.7 439.5 L911.7 439.5 L913.7 439.5 L915.7 439.5 L917.7 439.5 L919.7 439.5 L921.7 439.5 L923.7 439.5 L925.7 439.5 L927.7 439.5 L929.7 439.5 L931.7 439.5 L933.7 439.5 L935.7 439.5" fill="none" stroke="#000" stroke-width="1.1" stroke-linejoin="round"/>
<path d="M145 702.6 L146.7 696.3 L148.3 690.2 L150 684.2 L151.6 678.3 L153.3 672.7 L154.9 667.1 L156.6 661.8 L158.2 656.7 L159.9 651.7 L161.8 646.3 L163.6 641.2 L165.5 636.2 L167.4 631.4 L169.2 626.8 L171.1 622.2 L172.9 617.7 L174.8 613.3 L176.5 609.3 L178.2 605.5 L180 601.7 L181.7 598 L183.4 594.4 L185.1 590.7 L186.7 587.2 L188.4 583.6 L190.1 580 L192.1 575.8 L194 571.7 L196 567.5 L197.8 563.7 L199.5 559.8 L201.3 555.9 L203.1 552.1 L204.8 548.5 L206.6 545.1 L208.4 542 L210.2 539 L211.9 536.2 L213.7 533.4 L215.5 530.8 L217.3 528.1 L219.1 525.5 L220.8 522.9 L222.6 520.4 L224.4 517.9 L226.1 515.5 L227.9 513.2 L229.7 510.9 L231.5 508.8 L233.2 506.7 L235 504.6 L236.8 502.5 L238.6 500.4 L240.4 498.2 L242.2 496.1 L243.9 493.9 L245.7 491.7 L247.5 489.6 L249.3 487.6 L251.1 485.7 L252.8 483.8 L254.6 481.9 L256.4 480.1 L258.1 478.4 L259.9 476.9 L261.7 475.5 L263.5 474.2 L265.2 473 L267 471.8 L268.8 470.6 L270.6 469.4 L272.4 468.1 L274.1 466.8 L275.9 465.5 L277.7 464.3 L279.4 463.1 L281.2 462 L283 461 L284.8 460.1 L286.5 459.2 L288.3 458.3 L290.1 457.5 L291.9 456.7 L293.5 456 L295.1 455.3 L296.8 454.7 L298.4 454.1 L300 453.5 L301.9 452.9 L303.8 452.4 L305.6 451.9 L307.5 451.4 L309.4 451 L311.3 450.5 L313.2 450.1 L315.1 449.8 L316.9 449.4 L318.8 449.1 L320.7 448.7 L322.6 448.5 L324.5 448.2 L326.5 448 L328.5 447.7 L330.5 447.5 L332.5 447.2 L334.5 447 L336.5 446.8 L338.5 446.6 L340.5 446.4 L342.5 446.2 L344.5 446.1 L346.5 445.9 L348.5 445.8 L350.5 445.7 L352.5 445.6 L354.5 445.5 L356.5 445.4 L358.5 445.3 L360.5 445.3 L362.5 445.2 L364.5 445.2 L366.5 445.1 L368.5 445.1 L370.5 445.1 L372.5 445 L374.5 445 L376.5 444.9 L378.5 444.9 L380.5 444.9 L382.5 444.8 L384.5 444.8 L386.5 444.8 L388.5 444.8 L390.5 444.7 L392.5 444.7 L394.5 444.7 L396.5 444.7 L398.5 444.6 L400.5 444.6 L402.5 444.6 L404.5 444.6 L406.5 444.5 L408.5 444.5 L410.5 444.5 L412.5 444.5 L414.5 444.5 L416.5 444.4 L418.5 444.4 L420.5 444.4 L422.5 444.4 L424.5 444.4 L426.5 444.3 L428.4 444.3 L430.4 444.3 L432.4 444.3 L434.4 444.2 L436.4 444.2 L438.4 444.2 L440.4 444.2 L442.3 444.1 L444.3 444.1 L446.3 444.1 L448.3 444.1 L450.3 444.1 L452.3 444 L454.3 444 L456.2 444 L458.2 444 L460.2 444 L462.2 443.9 L464.2 443.9 L466.2 443.9 L468.2 443.9 L470.1 443.9 L472.1 443.9 L474.1 443.8 L476.1 443.8 L478.1 443.8 L480.1 443.8 L482.1 443.8 L484 443.8 L486 443.8 L488 443.8 L490 443.8 L492 443.8 L494 443.8 L496 443.8 L498 443.8 L500 443.8 L502 443.8 L504 443.8 L506 443.8 L508 443.8 L510 443.8 L512 443.8 L514 443.8 L516 443.8 L518 443.8 L520 443.8 L522 443.8 L524 443.8 L526 443.8 L528 443.8 L530 443.8 L532 443.8 L534 443.8 L536 443.8 L538 443.8 L540 443.8 L542 443.8 L544 443.8 L546 443.8 L548 443.8 L550 443.8 L552 443.8 L554 443.8 L556 443.8 L558 443.8 L560 443.8 L562 443.8 L564 443.8 L565.9 443.8 L567.9 443.8 L569.9 443.8 L571.9 443.8 L573.9 443.8 L575.9 443.8 L577.9 443.8 L579.9 443.8 L581.9 443.8 L583.9 443.8 L585.9 443.8 L587.9 443.8 L589.9 443.8 L591.9 443.8 L593.9 443.8 L595.9 443.8 L597.9 443.8 L599.9 443.8 L601.9 443.8 L603.9 443.8 L605.9 443.8 L607.9 443.8 L609.9 443.8 L611.9 443.8 L613.9 443.8 L615.9 443.8 L617.9 443.8 L619.9 443.8 L621.9 443.8 L623.9 443.8 L625.9 443.8 L627.9 443.8 L629.9 443.8 L631.9 443.8 L633.9 443.8 L635.9 443.8 L637.9 443.8 L639.9 443.8 L641.9 443.8 L643.9 443.8 L645.9 443.8 L647.9 443.8 L649.9 443.8 L651.9 443.8 L653.9 443.8 L655.9 443.8 L657.9 443.8 L659.9 443.8 L661.9 443.8 L663.9 443.8 L665.9 443.8 L667.9 443.8 L669.9 443.8 L671.9 443.8 L673.9 443.8 L675.9 443.8 L677.9 443.8 L679.9 443.8 L681.9 443.8 L683.9 443.8 L685.9 443.8 L687.9 443.8 L689.9 443.8 L691.9 443.8 L693.9 443.8 L695.9 443.8 L697.9 443.8 L699.9 443.8 L701.9 443.8 L703.9 443.8 L705.9 443.8 L707.9 443.8 L709.9 443.8 L711.9 443.8 L713.8 443.8 L715.8 443.8 L717.8 443.8 L719.8 443.8 L721.8 443.8 L723.8 443.8 L725.8 443.8 L727.8 443.8 L729.8 443.8 L731.8 443.8 L733.8 443.8 L735.8 443.8 L737.8 443.8 L739.8 443.8 L741.8 443.8 L743.8 443.8 L745.8 443.8 L747.8 443.8 L749.8 443.8 L751.8 443.8 L753.8 443.8 L755.8 443.8 L757.8 443.8 L759.8 443.8 L761.8 443.8 L763.8 443.8 L765.8 443.8 L767.8 443.8 L769.8 443.8 L771.8 443.8 L773.8 443.8 L775.8 443.8 L777.8 443.8 L779.8 443.8 L781.8 443.8 L783.8 443.8 L785.8 443.8 L787.8 443.8 L789.8 443.8 L791.8 443.8 L793.8 443.8 L795.8 443.8 L797.8 443.8 L799.8 443.8 L801.8 443.8 L803.8 443.8 L805.8 443.8 L807.8 443.8 L809.8 443.8 L811.8 443.8 L813.8 443.8 L815.8 443.8 L817.8 443.8 L819.8 443.8 L821.8 443.8 L823.8 443.8 L825.8 443.8 L827.8 443.8 L829.8 443.8 L831.8 443.8 L833.8 443.8 L835.8 443.8 L837.8 443.8 L839.8 443.8 L841.8 443.8 L843.8 443.8 L845.8 443.8 L847.8 443.8 L849.8 443.8 L851.8 443.8 L853.8 443.8 L855.8 443.8 L857.8 443.8 L859.8 443.8 L861.7 443.8 L863.7 443.8 L865.7 443.8 L867.7 443.8 L869.7 443.8 L871.7 443.8 L873.7 443.8 L875.7 443.8 L877.7 443.8 L879.7 443.8 L881.7 443.8 L883.7 443.8 L885.7 443.8 L887.7 443.8 L889.7 443.8 L891.7 443.8 L893.7 443.8 L895.7 443.8 L897.7 443.8 L899.7 443.8 L901.7 443.8 L903.7 443.8 L905.7 443.8 L907.7 443.8 L909.7 443.8 L911.7 443.8 L913.7 443.8 L915.7 443.8 L917.7 443.8 L919.7 443.8 L921.7 443.8 L923.7 443.8 L925.7 443.8 L927.7 443.8 L929.7 443.8 L931.7 443.8 L933.7 443.8 L935.7 443.8" fill="none" stroke="#000" stroke-width="1.1" stroke-linejoin="round"/>
<path d="M96.5 708.9 L143.9 561.6 L145.8 556.7 L147.7 551.9 L149.5 547 L151.4 542.3 L153.3 537.5 L155.1 532.9 L156.9 528.3 L158.7 523.8 L160.4 519.3 L162.2 515 L164 511 L165.8 507.3 L167.5 503.7 L169.3 500.3 L171.1 497 L172.8 493.8 L174.6 490.8 L176.4 487.9 L178.2 485 L179.9 482.3 L181.7 479.6 L183.5 477.1 L185.3 474.8 L187.1 472.6 L188.9 470.4 L190.7 468.4 L192.4 466.5 L194.2 464.7 L196 463 L197.8 461.5 L199.5 460 L201.3 458.7 L203.1 457.4 L204.8 456.2 L206.6 455.1 L208.4 454 L210.2 453 L211.9 452 L213.7 451.1 L215.5 450.4 L217.3 449.7 L219.1 449.1 L220.8 448.6 L222.6 448.2 L224.4 447.8 L226.1 447.4 L227.9 447.1 L229.8 446.8 L231.8 446.5 L233.7 446.3 L235.7 446 L237.6 445.8 L239.6 445.6 L241.5 445.4 L243.5 445.2 L245.4 445 L247.4 444.9 L249.3 444.7 L251.2 444.5 L253.2 444.4 L255.1 444.2 L257 444.1 L259 444 L260.9 443.8 L262.9 443.7 L264.8 443.6 L266.7 443.5 L268.7 443.4 L270.6 443.3 L272.6 443.2 L274.5 443.1 L276.5 443.1 L278.4 443 L280.4 442.9 L282.4 442.9 L284.3 442.8 L286.3 442.8 L288.2 442.7 L290.2 442.7 L292.2 442.6 L294.1 442.5 L296.1 442.5 L298 442.4 L300 442.4 L301.9 442.3 L303.9 442.3 L305.8 442.2 L307.8 442.2 L309.7 442.1 L311.7 442.1 L313.6 442 L315.6 442 L317.5 441.9 L319.5 441.9 L321.4 441.8 L323.4 441.8 L325.3 441.7 L327.3 441.7 L329.2 441.6 L331.2 441.6 L333.1 441.6 L335.1 441.5 L337 441.5 L339 441.4 L340.9 441.4 L342.9 441.4 L344.8 441.3 L346.8 441.3 L348.7 441.3 L350.7 441.3 L352.6 441.2 L354.6 441.2 L356.5 441.2 L358.5 441.2 L360.5 441.2 L362.5 441.2 L364.5 441.1 L366.5 441.1 L368.5 441.1 L370.4 441.1 L372.4 441.1 L374.4 441.1 L376.4 441.1 L378.4 441.1 L380.4 441 L382.4 441 L384.4 441 L386.4 441 L388.4 441 L390.4 441 L392.4 441 L394.4 441 L396.4 441 L398.3 440.9 L400.3 440.9 L402.3 440.9 L404.3 440.9 L406.3 440.9 L408.3 440.9 L410.3 440.9 L412.3 440.9 L414.3 440.9 L416.3 440.9 L418.3 440.9 L420.3 440.8 L422.3 440.8 L424.2 440.8 L426.2 440.8 L428.2 440.8 L430.2 440.8 L432.2 440.8 L434.2 440.8 L436.2 440.8 L438.2 440.8 L440.2 440.8 L442.2 440.8 L444.2 440.8 L446.2 440.8 L448.2 440.8 L450.1 440.7 L452.1 440.7 L454.1 440.7 L456.1 440.7 L458.1 440.7 L460.1 440.7 L462.1 440.7 L464.1 440.7 L466.1 440.7 L468.1 440.7 L470.1 440.7 L472.1 440.7 L474.1 440.7 L476.1 440.7 L478 440.7 L480 440.7 L482 440.7 L484 440.7 L486 440.7 L488 440.7 L490 440.7 L492 440.7 L494 440.7 L496 440.7 L498 440.7 L500 440.7 L502 440.7 L504 440.7 L506 440.7 L508 440.7 L510 440.7 L512 440.7 L514 440.7 L516 440.7 L518 440.7 L520 440.7 L522 440.7 L524 440.7 L526 440.7 L528 440.7 L530 440.7 L532 440.7 L534 440.7 L536 440.7 L538 440.7 L540 440.7 L542 440.7 L544 440.7 L546 440.7 L548 440.7 L550 440.7 L552 440.7 L554 440.7 L556 440.7 L558 440.7 L560 440.7 L562 440.7 L564 440.7 L565.9 440.7 L567.9 440.7 L569.9 440.7 L571.9 440.7 L573.9 440.7 L575.9 440.7 L577.9 440.7 L579.9 440.7 L581.9 440.7 L583.9 440.7 L585.9 440.7 L587.9 440.7 L589.9 440.7 L591.9 440.7 L593.9 440.7 L595.9 440.7 L597.9 440.7 L599.9 440.7 L601.9 440.7 L603.9 440.7 L605.9 440.7 L607.9 440.7 L609.9 440.7 L611.9 440.7 L613.9 440.7 L615.9 440.7 L617.9 440.7 L619.9 440.7 L621.9 440.7 L623.9 440.7 L625.9 440.7 L627.9 440.7 L629.9 440.7 L631.9 440.7 L633.9 440.7 L635.9 440.7 L637.9 440.7 L639.9 440.7 L641.9 440.7 L643.9 440.7 L645.9 440.7 L647.9 440.7 L649.9 440.7 L651.9 440.7 L653.9 440.7 L655.9 440.7 L657.9 440.7 L659.9 440.7 L661.9 440.7 L663.9 440.7 L665.9 440.7 L667.9 440.7 L669.9 440.7 L671.9 440.7 L673.9 440.7 L675.9 440.7 L677.9 440.7 L679.9 440.7 L681.9 440.7 L683.9 440.7 L685.9 440.7 L687.9 440.7 L689.9 440.7 L691.9 440.7 L693.9 440.7 L695.9 440.7 L697.9 440.7 L699.9 440.7 L701.9 440.7 L703.9 440.7 L705.9 440.7 L707.9 440.7 L709.9 440.7 L711.9 440.7 L713.8 440.7 L715.8 440.7 L717.8 440.7 L719.8 440.7 L721.8 440.7 L723.8 440.7 L725.8 440.7 L727.8 440.7 L729.8 440.7 L731.8 440.7 L733.8 440.7 L735.8 440.7 L737.8 440.7 L739.8 440.7 L741.8 440.7 L743.8 440.7 L745.8 440.7 L747.8 440.7 L749.8 440.7 L751.8 440.7 L753.8 440.7 L755.8 440.7 L757.8 440.7 L759.8 440.7 L761.8 440.7 L763.8 440.7 L765.8 440.7 L767.8 440.7 L769.8 440.7 L771.8 440.7 L773.8 440.7 L775.8 440.7 L777.8 440.7 L779.8 440.7 L781.8 440.7 L783.8 440.7 L785.8 440.7 L787.8 440.7 L789.8 440.7 L791.8 440.7 L793.8 440.7 L795.8 440.7 L797.8 440.7 L799.8 440.7 L801.8 440.7 L803.8 440.7 L805.8 440.7 L807.8 440.7 L809.8 440.7 L811.8 440.7 L813.8 440.7 L815.8 440.7 L817.8 440.7 L819.8 440.7 L821.8 440.7 L823.8 440.7 L825.8 440.7 L827.8 440.7 L829.8 440.7 L831.8 440.7 L833.8 440.7 L835.8 440.7 L837.8 440.7 L839.8 440.7 L841.8 440.7 L843.8 440.7 L845.8 440.7 L847.8 440.7 L849.8 440.7 L851.8 440.7 L853.8 440.7 L855.8 440.7 L857.8 440.7 L859.8 440.7 L861.7 440.7 L863.7 440.7 L865.7 440.7 L867.7 440.7 L869.7 440.7 L871.7 440.7 L873.7 440.7 L875.7 440.7 L877.7 440.7 L879.7 440.7 L881.7 440.7 L883.7 440.7 L885.7 440.7 L887.7 440.7 L889.7 440.7 L891.7 440.7 L893.7 440.7 L895.7 440.7 L897.7 440.7 L899.7 440.7 L901.7 440.7 L903.7 440.7 L905.7 440.7 L907.7 440.7 L909.7 440.7 L911.7 440.7 L913.7 440.7 L915.7 440.7 L917.7 440.7 L919.7 440.7 L921.7 440.7 L923.7 440.7 L925.7 440.7 L927.7 440.7 L929.7 440.7 L931.7 440.7 L933.7 440.7 L935.7 440.7" fill="none" stroke="#000" stroke-width="2.0" stroke-linejoin="round"/>
<path d="M96.5 708.9 L145 701.8 L147 700.9 L149 700.1 L151 699.2 L152.9 698.4 L154.9 697.6 L156.9 696.8 L158.9 696 L160.9 695.2 L162.9 694.5 L164.9 693.7 L166.9 693 L168.8 692.4 L170.8 691.7 L172.8 691.1 L174.8 690.5 L176.7 689.9 L178.6 689.4 L180.6 688.9 L182.5 688.4 L184.4 687.9 L186.3 687.4 L188.2 687 L190.2 686.5 L192.1 686.1 L194 685.6 L195.9 685.2 L197.8 684.8 L199.8 684.4 L201.7 684 L203.6 683.5 L205.5 683.1 L207.4 682.7 L209.4 682.3 L211.3 681.9 L213.2 681.5 L215.1 681.1 L217.1 680.7 L219 680.3 L221 679.8 L222.9 679.4 L224.8 679 L226.8 678.6 L228.7 678.2 L230.7 677.8 L232.6 677.4 L234.6 677 L236.5 676.7 L238.4 676.3 L240.4 675.9 L242.3 675.5 L244.3 675.1 L246.2 674.8 L248.1 674.4 L250.1 674.1 L252 673.7 L254 673.3 L255.9 673 L257.8 672.7 L259.8 672.3 L261.7 672 L263.6 671.6 L265.6 671.3 L267.5 671 L269.5 670.6 L271.4 670.3 L273.3 670 L275.3 669.7 L277.2 669.4 L279.1 669.1 L281.1 668.7 L283 668.4 L284.9 668.1 L286.9 667.9 L288.8 667.6 L290.8 667.3 L292.7 667 L294.6 666.7 L296.6 666.5 L298.5 666.2 L300.4 665.9 L302.4 665.7 L304.3 665.4 L306.3 665.2 L308.2 665 L310.1 664.7 L312.1 664.5 L314 664.3 L316 664.1 L317.9 663.8 L319.9 663.6 L321.8 663.4 L323.7 663.2 L325.7 663 L327.6 662.8 L329.6 662.6 L331.5 662.3 L333.4 662.1 L335.4 661.9 L337.3 661.7 L339.3 661.5 L341.2 661.3 L343.2 661.1 L345.1 660.9 L347.1 660.7 L349 660.5 L351 660.3 L353 660 L354.9 659.8 L356.9 659.6 L358.8 659.4 L360.8 659.2 L362.8 659 L364.7 658.8 L366.7 658.6 L368.6 658.4 L370.6 658.2 L372.6 658 L374.5 657.8 L376.5 657.6 L378.4 657.4 L380.4 657.3 L382.4 657.1 L384.3 656.9 L386.3 656.7 L388.2 656.5 L390.2 656.3 L392.2 656.1 L394.1 655.9 L396.1 655.7 L398 655.5 L400 655.3 L402 655.1 L404 654.9 L406 654.7 L408 654.5 L410 654.3 L411.9 654.1 L413.9 653.9 L415.9 653.7 L417.9 653.5 L419.9 653.3 L421.9 653.1 L423.9 652.9 L425.9 652.7 L427.9 652.5 L429.9 652.3 L431.8 652.1 L433.8 651.9 L435.8 651.7 L437.8 651.5 L439.8 651.3 L441.8 651.1 L443.8 650.9 L445.8 650.7 L447.8 650.5 L449.8 650.3 L451.7 650.1 L453.7 649.9 L455.7 649.7 L457.7 649.5 L459.7 649.3 L461.7 649.1 L463.7 649 L465.7 648.8 L467.7 648.6 L469.7 648.4 L471.7 648.2 L473.6 648 L475.6 647.8 L477.6 647.6 L479.6 647.4 L481.6 647.2 L483.6 647 L485.6 646.8 L487.6 646.6 L489.6 646.4 L491.6 646.2 L493.5 646 L495.5 645.8 L497.5 645.6 L499.5 645.4 L501.5 645.2 L503.5 645 L505.5 644.8 L507.5 644.6 L509.5 644.4 L511.5 644.2 L513.5 644 L515.4 643.8 L517.4 643.6 L519.4 643.5 L521.4 643.3 L523.4 643.1 L525.4 642.9 L527.4 642.7 L529.4 642.5 L531.4 642.3 L533.4 642.1 L535.3 641.9 L537.3 641.7 L539.3 641.5 L541.3 641.3 L543.3 641.1 L545.3 640.9 L547.3 640.7 L549.3 640.5 L551.3 640.3 L553.3 640.2 L555.2 640 L557.2 639.8 L559.2 639.6 L561.2 639.4 L563.2 639.2 L565.2 639 L567.2 638.8 L569.2 638.6 L571.2 638.4 L573.2 638.2 L575.2 638 L577.1 637.9 L579.1 637.7 L581.1 637.5 L583.1 637.3 L585.1 637.1 L587.1 636.9 L589.1 636.7 L591.1 636.5 L593.1 636.3 L595.1 636.1 L597 636 L599 635.8 L601 635.6 L603 635.4 L605 635.2 L607 635 L609 634.8 L611 634.6 L613 634.5 L615 634.3 L617 634.1 L618.9 633.9 L620.9 633.7 L622.9 633.5 L624.9 633.3 L626.9 633.1 L628.9 633 L630.9 632.8 L632.9 632.6 L634.9 632.4 L636.9 632.2 L638.8 632 L640.8 631.9 L642.8 631.7 L644.8 631.5 L646.8 631.3 L648.8 631.1 L650.8 630.9 L652.8 630.8 L654.8 630.6 L656.8 630.4 L658.7 630.2 L660.7 630 L662.7 629.8 L664.7 629.7 L666.7 629.5 L668.7 629.3 L670.7 629.1 L672.7 628.9 L674.7 628.8 L676.7 628.6 L678.7 628.4 L680.7 628.2 L682.6 628 L684.6 627.9 L686.6 627.7 L688.6 627.5 L690.6 627.3 L692.6 627.1 L694.6 627 L696.6 626.8 L698.6 626.6 L700.6 626.4 L702.6 626.2 L704.6 626.1 L706.6 625.9 L708.6 625.7 L710.5 625.5 L712.5 625.4 L714.5 625.2 L716.5 625 L718.5 624.8 L720.5 624.7 L722.5 624.5 L724.5 624.3 L726.5 624.1 L728.5 623.9 L730.5 623.8 L732.5 623.6 L734.5 623.4 L736.4 623.2 L738.4 623.1 L740.4 622.9 L742.4 622.7 L744.4 622.5 L746.4 622.4 L748.4 622.2 L750.4 622 L752.4 621.8 L754.4 621.7 L756.4 621.5 L758.4 621.3 L760.4 621.1 L762.3 621 L764.3 620.8 L766.3 620.6 L768.3 620.5 L770.3 620.3 L772.3 620.1 L774.3 619.9 L776.3 619.8 L778.3 619.6 L780.3 619.4 L782.3 619.2 L784.3 619.1 L786.3 618.9 L788.3 618.7 L790.2 618.6 L792.2 618.4 L794.2 618.2 L796.2 618 L798.2 617.9 L800.2 617.7 L802.2 617.5 L804.2 617.4 L806.2 617.2 L808.2 617 L810.2 616.9 L812.2 616.7 L814.2 616.5 L816.1 616.3 L818.1 616.2 L820.1 616 L822.1 615.8 L824.1 615.7 L826.1 615.5 L828.1 615.3 L830.1 615.2 L832.1 615 L834.1 614.8 L836.1 614.7 L838.1 614.5 L840.1 614.3 L842.1 614.2 L844 614 L846 613.8 L848 613.7 L850 613.5 L852 613.3 L854 613.2 L856 613 L858 612.8 L860 612.7 L862 612.5 L864 612.3 L866 612.2 L868 612 L869.9 611.8 L871.9 611.7 L873.9 611.5 L875.9 611.3 L877.9 611.2 L879.9 611 L881.9 610.9 L883.9 610.7 L885.9 610.5 L887.9 610.4 L889.9 610.2 L891.9 610 L893.9 609.9 L895.8 609.7 L897.8 609.6 L899.8 609.4 L901.8 609.2 L903.8 609.1 L905.8 608.9 L907.8 608.7 L909.8 608.6 L911.8 608.4 L913.8 608.3 L915.8 608.1 L917.8 607.9 L919.8 607.8 L921.8 607.6 L923.7 607.5 L925.7 607.3 L927.7 607.1 L929.7 607 L931.7 606.8 L933.7 606.7 L935.7 606.5" fill="none" stroke="#000" stroke-width="1.9" stroke-linejoin="round"/>
<rect x="303" y="441.2" width="52" height="2.4" fill="#000"/>
<rect x="355" y="440.8" width="66" height="3.8" fill="#000"/>
<rect x="421" y="440.6" width="36" height="3.2" fill="#000"/>
<rect x="457" y="439.1" width="479.7" height="4.7" fill="#000"/>
</g>
<path d="M96.5 708.9 v-6.8 M96.5 49.1 v6.8 M175.7 708.9 v-6.8 M175.7 49.1 v6.8 M254.8 708.9 v-6.8 M254.8 49.1 v6.8 M334 708.9 v-6.8 M334 49.1 v6.8 M413.2 708.9 v-6.8 M413.2 49.1 v6.8 M492.3 708.9 v-6.8 M492.3 49.1 v6.8 M571.5 708.9 v-6.8 M571.5 49.1 v6.8 M650.7 708.9 v-6.8 M650.7 49.1 v6.8 M729.9 708.9 v-6.8 M729.9 49.1 v6.8 M809 708.9 v-6.8 M809 49.1 v6.8 M888.2 708.9 v-6.8 M888.2 49.1 v6.8 M96.5 708.9 h6.8 M935.7 708.9 h-6.8 M96.5 635.9 h6.8 M935.7 635.9 h-6.8 M96.5 563 h6.8 M935.7 563 h-6.8 M96.5 490 h6.8 M935.7 490 h-6.8 M96.5 417 h6.8 M935.7 417 h-6.8 M96.5 344 h6.8 M935.7 344 h-6.8 M96.5 271.1 h6.8 M935.7 271.1 h-6.8 M96.5 198.1 h6.8 M935.7 198.1 h-6.8 M96.5 125.1 h6.8 M935.7 125.1 h-6.8 M96.5 52.2 h6.8 M935.7 52.2 h-6.8" stroke="#262626" stroke-width="1.6" fill="none"/>
<rect x="96.5" y="49.1" width="839.2" height="659.8" fill="none" stroke="#262626" stroke-width="1.9"/>
<g class="tk">
<text x="95.3" y="744.9" text-anchor="middle">0</text>
<text x="174.5" y="744.9" text-anchor="middle">50</text>
<text x="253.6" y="744.9" text-anchor="middle">100</text>
<text x="332.8" y="744.9" text-anchor="middle">150</text>
<text x="412" y="744.9" text-anchor="middle">200</text>
<text x="491.1" y="744.9" text-anchor="middle">250</text>
<text x="570.3" y="744.9" text-anchor="middle">300</text>
<text x="649.5" y="744.9" text-anchor="middle">350</text>
<text x="728.7" y="744.9" text-anchor="middle">400</text>
<text x="807.8" y="744.9" text-anchor="middle">450</text>
<text x="887" y="744.9" text-anchor="middle">500</text>
<text x="83.2" y="718.3" text-anchor="end">0</text>
<text x="83.2" y="645.3" text-anchor="end">5</text>
<text x="83.2" y="572.4" text-anchor="end">10</text>
<text x="83.2" y="499.4" text-anchor="end">15</text>
<text x="83.2" y="426.4" text-anchor="end">20</text>
<text x="83.2" y="353.4" text-anchor="end">25</text>
<text x="83.2" y="280.5" text-anchor="end">30</text>
<text x="83.2" y="207.5" text-anchor="end">35</text>
<text x="83.2" y="134.5" text-anchor="end">40</text>
<text x="83.2" y="61.6" text-anchor="end">45</text>
</g>
<text class="lb" x="343.6" y="782" textLength="336.8" lengthAdjust="spacingAndGlyphs">Years since simulation start</text>
<text class="lb" transform="translate(40,445.6) rotate(-90)" textLength="134.6" lengthAdjust="spacingAndGlyphs">Mass (MT)</text>
<text class="tt" x="443.9" y="35.3" textLength="143.4" lengthAdjust="spacingAndGlyphs">Base Case</text>
<g transform="translate(645,49.1)">
<rect x="0" y="0" width="286" height="229.6" fill="#fff" stroke="#262626" stroke-width="1.6"/>
<rect x="7.6" y="7.4" width="77.6" height="23.4" fill="#008000" stroke="#000" stroke-width="1.5"/>
<text class="lg" x="90.2" y="28">Dissolved</text>
<rect x="7.6" y="39.4" width="77.6" height="23.4" fill="#00bf00" stroke="#000" stroke-width="1.5"/>
<text class="lg" x="90.2" y="60">Structural residual</text>
<rect x="7.6" y="71.3" width="77.6" height="23.4" fill="#00ff00" stroke="#000" stroke-width="1.5"/>
<text class="lg" x="90.2" y="91.9">Residual</text>
<rect x="7.6" y="103.2" width="77.6" height="23.4" fill="#80ff80" stroke="#000" stroke-width="1.5"/>
<text class="lg" x="90.2" y="123.8">Residual in plume</text>
<rect x="7.6" y="135.2" width="77.6" height="23.4" fill="#ffff33" stroke="#000" stroke-width="1.5"/>
<text class="lg" x="90.2" y="155.8">Structural plume</text>
<rect x="7.6" y="167.2" width="77.6" height="23.4" fill="#ffb833" stroke="#000" stroke-width="1.5"/>
<text class="lg" x="90.2" y="187.8">Free plume</text>
<rect x="7.6" y="199.1" width="77.6" height="23.4" fill="#ff3300" stroke="#000" stroke-width="1.5"/>
<text class="lg" x="90.2" y="219.7">Exited</text>
</g>
</g>
<text class="cp" y="919.5"><tspan x="103.2" textLength="84.9" lengthAdjust="spacingAndGlyphs">(<tspan class='b'>a</tspan>)</tspan> <tspan x="204.2" textLength="252.8" lengthAdjust="spacingAndGlyphs">Storage</tspan> <tspan x="474.7" textLength="411.4" lengthAdjust="spacingAndGlyphs">mechanisms</tspan></text>
<text class="cp" y="1027.6"><tspan x="253.8" textLength="374.7" lengthAdjust="spacingAndGlyphs">breakdown</tspan> <tspan x="645.8" textLength="93.7" lengthAdjust="spacingAndGlyphs">for</tspan></text>
<text class="cp" y="1134.6"><tspan x="260.9" textLength="103.8" lengthAdjust="spacingAndGlyphs">the</tspan> <tspan x="384.4" textLength="149.7" lengthAdjust="spacingAndGlyphs">Base</tspan> <tspan x="551" textLength="178.7" lengthAdjust="spacingAndGlyphs">Case.</tspan></text>
<g transform="translate(1240,0)">
<clipPath id="cpb"><rect x="96.5" y="49.1" width="839.2" height="659.8"/></clipPath>
<g clip-path="url(#cpb)">
<path d="M96.5 708.9 L143.9 50 L174.5 50 L174.5 52.3 L936.7 52.3 L937.7 52.3 L937.7 709.9 L96.5 709.9Z" fill="#ff3300"/>
<path d="M96.5 708.9 L143.9 52.4 L174.8 52.2 L191.9 83.2 L193.6 88.5 L195.3 93.9 L197 99.5 L198.7 105.1 L200.4 110.9 L202 116.4 L203.6 122 L205.2 127.7 L206.8 133.4 L208.4 139.3 L210 145.3 L211.6 151.5 L213.2 157.8 L214.5 163.2 L215.9 168.8 L217.2 174.6 L218.6 180.5 L219.9 186.4 L221.2 192.5 L222.6 198.6 L223.9 204.7 L225.1 210.2 L226.3 215.8 L227.4 221.6 L228.6 227.3 L229.8 233.2 L231 239 L232.1 244.7 L233.3 250.4 L234.5 255.9 L235.7 261.6 L237 267.2 L238.2 272.7 L239.4 278.2 L240.7 283.7 L241.9 289.1 L243.2 294.6 L244.4 300 L245.6 305.5 L246.8 311.1 L248.1 316.8 L249.3 322.4 L250.5 327.9 L251.8 333.1 L253 338.1 L254.2 342.6 L255.8 347.8 L257.4 352.3 L259 356.9 L260.6 361.8 L262.1 367.1 L263.6 372.9 L265.1 378.9 L266.7 385.1 L268.2 391.1 L269.7 396.9 L271.2 402.3 L273 408.1 L274.8 413.6 L276.5 418.9 L278.3 424.1 L280.1 429.2 L281.9 434.3 L283.7 439.5 L285.5 444.8 L287.2 450 L289 455 L290.8 459.8 L292.6 464.2 L294.4 468.2 L296.1 471.9 L297.9 475.4 L299.7 478.8 L301.4 482.2 L303.2 485.5 L305 488.9 L306.8 492.4 L308.5 495.8 L310.3 499.1 L312.1 502.1 L313.9 504.7 L315.7 507 L317.4 509.1 L319.2 511 L321 512.9 L322.7 514.7 L324.5 516.4 L326.3 518.1 L328.1 519.8 L329.9 521.5 L331.6 523 L333.4 524.6 L335.2 526 L337 527.4 L338.8 528.8 L340.5 530.2 L342.3 531.4 L344.1 532.5 L345.9 533.5 L347.8 534.4 L349.8 535.3 L351.7 536.1 L353.6 536.8 L355.6 537.5 L357.5 538.2 L359.5 538.8 L361.4 539.4 L363.3 539.9 L365.3 540.4 L367.2 540.9 L369.1 541.4 L371.1 541.8 L373 542.2 L374.9 542.6 L376.9 543 L378.8 543.3 L380.8 543.7 L382.7 544 L384.6 544.3 L386.6 544.5 L388.5 544.8 L390.4 545 L392.4 545.3 L394.3 545.5 L396.2 545.7 L398.2 545.9 L400.1 546.1 L402.1 546.3 L404 546.4 L405.9 546.6 L407.9 546.8 L409.8 546.9 L411.8 547.1 L413.8 547.2 L415.8 547.3 L417.8 547.5 L419.8 547.6 L421.8 547.8 L423.8 547.9 L425.8 548 L427.8 548.2 L429.8 548.3 L431.8 548.4 L433.8 548.5 L435.8 548.6 L437.8 548.7 L439.8 548.7 L441.8 548.8 L443.7 548.9 L445.7 548.9 L447.6 549 L449.5 549 L451.4 549.1 L453.4 549.1 L455.3 549.1 L457.2 549.2 L459.2 549.2 L461.1 549.2 L463 549.3 L464.9 549.3 L466.9 549.3 L468.8 549.4 L470.7 549.4 L472.6 549.4 L474.6 549.5 L476.5 549.5 L478.4 549.5 L480.4 549.6 L482.3 549.6 L484.2 549.6 L486.1 549.6 L488.1 549.7 L490 549.7 L491.9 549.7 L493.9 549.8 L495.8 549.8 L497.7 549.8 L499.6 549.9 L501.6 549.9 L503.5 550 L505.4 550 L507.4 550 L509.3 550 L511.2 550.1 L513.1 550.1 L515.1 550.1 L517 550.1 L519 550.1 L521 550.1 L523 550.1 L525 550.1 L527 550.1 L529 550.1 L531 550.1 L533 550.1 L534.9 550.1 L536.9 550.1 L538.9 550.1 L540.9 550.1 L542.9 550.1 L544.9 550.1 L546.9 550.1 L548.9 550.1 L550.9 550.1 L552.9 550.1 L554.9 550.1 L556.9 550.1 L558.9 550.1 L560.9 550.1 L562.9 550.1 L564.9 550.1 L566.8 550.1 L568.8 550.1 L570.8 550.1 L572.8 550.1 L574.8 550.1 L576.8 550.1 L578.8 550.1 L580.8 550.1 L582.8 550.1 L584.8 550.1 L586.8 550.1 L588.8 550.1 L590.8 550.1 L592.8 550.1 L594.8 550.1 L596.8 550.1 L598.7 550.1 L600.7 550.1 L602.7 550.1 L604.7 550.1 L606.7 550.1 L608.7 550.1 L610.7 550.1 L612.7 550.1 L614.7 550.1 L616.7 550.1 L618.7 550.1 L620.7 550.1 L622.7 550.1 L624.7 550.1 L626.7 550.1 L628.7 550.1 L630.6 550.1 L632.6 550.1 L634.6 550.1 L636.6 550.1 L638.6 550.1 L640.6 550.1 L642.6 550.1 L644.6 550.1 L646.6 550.1 L648.6 550.1 L650.6 550.1 L652.6 550.1 L654.6 550.1 L656.6 550.1 L658.6 550.1 L660.6 550.1 L662.5 550.1 L664.5 550.1 L666.5 550.1 L668.5 550.1 L670.5 550.1 L672.5 550.1 L674.5 550.1 L676.5 550.1 L678.5 550.1 L680.5 550.1 L682.5 550.1 L684.5 550.1 L686.5 550.1 L688.5 550.1 L690.5 550.1 L692.5 550.1 L694.4 550.1 L696.4 550.1 L698.4 550.1 L700.4 550.1 L702.4 550.1 L704.4 550.1 L706.4 550.1 L708.4 550.1 L710.4 550.1 L712.4 550.1 L714.4 550.1 L716.4 550.1 L718.4 550.1 L720.4 550.1 L722.4 550.1 L724.4 550.1 L726.4 550.1 L728.3 550.1 L730.3 550.1 L732.3 550.1 L734.3 550.1 L736.3 550.1 L738.3 550.1 L740.3 550.1 L742.3 550.1 L744.3 550.1 L746.3 550.1 L748.3 550.1 L750.3 550.1 L752.3 550.1 L754.3 550.1 L756.3 550.1 L758.3 550.1 L760.2 550.1 L762.2 550.1 L764.2 550.1 L766.2 550.1 L768.2 550.1 L770.2 550.1 L772.2 550.1 L774.2 550.1 L776.2 550.1 L778.2 550.1 L780.2 550.1 L782.2 550.1 L784.2 550.1 L786.2 550.1 L788.2 550.1 L790.2 550.1 L792.1 550.1 L794.1 550.1 L796.1 550.1 L798.1 550.1 L800.1 550.1 L802.1 550.1 L804.1 550.1 L806.1 550.1 L808.1 550.1 L810.1 550.1 L812.1 550.1 L814.1 550.1 L816.1 550.1 L818.1 550.1 L820.1 550.1 L822.1 550.1 L824 550.1 L826 550.1 L828 550.1 L830 550.1 L832 550.1 L834 550.1 L836 550.1 L838 550.1 L840 550.1 L842 550.1 L844 550.1 L846 550.1 L848 550.1 L850 550.1 L852 550.1 L854 550.1 L855.9 550.1 L857.9 550.1 L859.9 550.1 L861.9 550.1 L863.9 550.1 L865.9 550.1 L867.9 550.1 L869.9 550.1 L871.9 550.1 L873.9 550.1 L875.9 550.1 L877.9 550.1 L879.9 550.1 L881.9 550.1 L883.9 550.1 L885.9 550.1 L887.8 550.1 L889.8 550.1 L891.8 550.1 L893.8 550.1 L895.8 550.1 L897.8 550.1 L899.8 550.1 L901.8 550.1 L903.8 550.1 L905.8 550.1 L907.8 550.1 L909.8 550.1 L911.8 550.1 L913.8 550.1 L915.8 550.1 L917.8 550.1 L919.7 550.1 L921.7 550.1 L923.7 550.1 L925.7 550.1 L927.7 550.1 L929.7 550.1 L931.7 550.1 L933.7 550.1 L935.7 550.1 L936.7 550.1 L936.7 709.9 L96.5 709.9Z" fill="#ffb833"/>
<path d="M96.5 708.9 L143.9 629.8 L145.8 627.1 L147.7 624.5 L149.5 621.9 L151.4 619.3 L153.3 616.8 L155.1 614.4 L156.9 612 L158.7 609.7 L160.4 607.3 L162.2 605.1 L164 602.9 L165.8 600.8 L167.5 598.8 L169.3 596.8 L171.1 594.9 L172.8 593 L174.6 591.2 L176.4 589.4 L178.2 587.6 L179.9 585.8 L181.7 584.1 L183.5 582.5 L185.3 581 L187.1 579.6 L188.9 578.3 L190.7 577.1 L192.4 575.9 L194.2 574.7 L196 573.6 L197.8 572.5 L199.5 571.5 L201.3 570.4 L203.1 569.5 L204.8 568.6 L206.6 567.7 L208.4 566.9 L210.2 566.2 L211.9 565.4 L213.7 564.8 L215.5 564.1 L217.3 563.5 L219.1 562.9 L220.8 562.3 L222.6 561.7 L224.4 561.2 L226.1 560.7 L227.9 560.3 L229.8 560 L231.8 559.6 L233.7 559.3 L235.7 559.1 L237.6 558.8 L239.6 558.6 L241.5 558.4 L243.5 558.2 L245.4 558 L247.4 557.8 L249.3 557.6 L251.2 557.4 L253.2 557.3 L255.1 557.1 L257 556.9 L259 556.8 L260.9 556.6 L262.9 556.5 L264.8 556.4 L266.7 556.3 L268.7 556.1 L270.6 556 L272.6 555.9 L274.5 555.8 L276.5 555.6 L278.4 555.5 L280.4 555.4 L282.4 555.3 L284.3 555.2 L286.3 555 L288.2 554.9 L290.2 554.8 L292.2 554.7 L294.1 554.6 L296.1 554.6 L298 554.5 L300 554.4 L301.9 554.3 L303.9 554.3 L305.8 554.2 L307.8 554.1 L309.7 554.1 L311.7 554 L313.6 553.9 L315.6 553.9 L317.5 553.8 L319.5 553.8 L321.4 553.7 L323.4 553.7 L325.3 553.6 L327.3 553.6 L329.2 553.5 L331.2 553.5 L333.1 553.4 L335.1 553.4 L337 553.3 L339 553.3 L340.9 553.3 L342.9 553.2 L344.8 553.2 L346.8 553.1 L348.7 553.1 L350.7 553.1 L352.6 553.1 L354.6 553 L356.5 553 L358.5 553 L360.5 553 L362.5 552.9 L364.5 552.9 L366.5 552.9 L368.5 552.9 L370.4 552.8 L372.4 552.8 L374.4 552.8 L376.4 552.8 L378.4 552.7 L380.4 552.7 L382.4 552.7 L384.4 552.7 L386.4 552.6 L388.4 552.6 L390.4 552.6 L392.4 552.6 L394.4 552.6 L396.4 552.5 L398.3 552.5 L400.3 552.5 L402.3 552.5 L404.3 552.5 L406.3 552.4 L408.3 552.4 L410.3 552.4 L412.3 552.4 L414.3 552.4 L416.3 552.4 L418.3 552.3 L420.3 552.3 L422.3 552.3 L424.2 552.3 L426.2 552.3 L428.2 552.3 L430.2 552.2 L432.2 552.2 L434.2 552.2 L436.2 552.2 L438.2 552.2 L440.2 552.2 L442.2 552.2 L444.2 552.1 L446.2 552.1 L448.2 552.1 L450.1 552.1 L452.1 552.1 L454.1 552.1 L456.1 552.1 L458.1 552.1 L460.1 552.1 L462.1 552.1 L464.1 552 L466.1 552 L468.1 552 L470.1 552 L472.1 552 L474.1 552 L476.1 552 L478 552 L480 552 L482 552 L484 552 L486 552 L488 552 L490 552 L492 552 L494 552 L496 552 L498 552 L500 552 L502 552 L504 552 L506 552 L508 552 L510 552 L512 552 L514 552 L516 552 L518 552 L520 552 L522 552 L524 552 L526 552 L528 552 L530 552 L532 552 L534 552 L536 552 L538 552 L540 552 L542 552 L544 552 L546 552 L548 552 L550 552 L552 552 L554 552 L556 552 L558 552 L560 552 L562 552 L564 552 L565.9 552 L567.9 552 L569.9 552 L571.9 552 L573.9 552 L575.9 552 L577.9 552 L579.9 552 L581.9 552 L583.9 552 L585.9 552 L587.9 552 L589.9 552 L591.9 552 L593.9 552 L595.9 552 L597.9 552 L599.9 552 L601.9 552 L603.9 552 L605.9 552 L607.9 552 L609.9 552 L611.9 552 L613.9 552 L615.9 552 L617.9 552 L619.9 552 L621.9 552 L623.9 552 L625.9 552 L627.9 552 L629.9 552 L631.9 552 L633.9 552 L635.9 552 L637.9 552 L639.9 552 L641.9 552 L643.9 552 L645.9 552 L647.9 552 L649.9 552 L651.9 552 L653.9 552 L655.9 552 L657.9 552 L659.9 552 L661.9 552 L663.9 552 L665.9 552 L667.9 552 L669.9 552 L671.9 552 L673.9 552 L675.9 552 L677.9 552 L679.9 552 L681.9 552 L683.9 552 L685.9 552 L687.9 552 L689.9 552 L691.9 552 L693.9 552 L695.9 552 L697.9 552 L699.9 552 L701.9 552 L703.9 552 L705.9 552 L707.9 552 L709.9 552 L711.9 552 L713.8 552 L715.8 552 L717.8 552 L719.8 552 L721.8 552 L723.8 552 L725.8 552 L727.8 552 L729.8 552 L731.8 552 L733.8 552 L735.8 552 L737.8 552 L739.8 552 L741.8 552 L743.8 552 L745.8 552 L747.8 552 L749.8 552 L751.8 552 L753.8 552 L755.8 552 L757.8 552 L759.8 552 L761.8 552 L763.8 552 L765.8 552 L767.8 552 L769.8 552 L771.8 552 L773.8 552 L775.8 552 L777.8 552 L779.8 552 L781.8 552 L783.8 552 L785.8 552 L787.8 552 L789.8 552 L791.8 552 L793.8 552 L795.8 552 L797.8 552 L799.8 552 L801.8 552 L803.8 552 L805.8 552 L807.8 552 L809.8 552 L811.8 552 L813.8 552 L815.8 552 L817.8 552 L819.8 552 L821.8 552 L823.8 552 L825.8 552 L827.8 552 L829.8 552 L831.8 552 L833.8 552 L835.8 552 L837.8 552 L839.8 552 L841.8 552 L843.8 552 L845.8 552 L847.8 552 L849.8 552 L851.8 552 L853.8 552 L855.8 552 L857.8 552 L859.8 552 L861.7 552 L863.7 552 L865.7 552 L867.7 552 L869.7 552 L871.7 552 L873.7 552 L875.7 552 L877.7 552 L879.7 552 L881.7 552 L883.7 552 L885.7 552 L887.7 552 L889.7 552 L891.7 552 L893.7 552 L895.7 552 L897.7 552 L899.7 552 L901.7 552 L903.7 552 L905.7 552 L907.7 552 L909.7 552 L911.7 552 L913.7 552 L915.7 552 L917.7 552 L919.7 552 L921.7 552 L923.7 552 L925.7 552 L927.7 552 L929.7 552 L931.7 552 L933.7 552 L935.7 552 L936.7 552 L936.7 709.9 L96.5 709.9Z" fill="#80ff80"/>
<path d="M144.4 702 L146.3 699 L148.3 696.1 L150.2 693 L152.2 690 L154.2 686.9 L156.1 683.7 L158.1 680.5 L160.1 677.3 L162 674.2 L164 671.1 L165.8 668.4 L167.5 665.6 L169.3 662.9 L171.1 660.2 L172.8 657.6 L174.6 655.1 L176.4 652.7 L178.2 650.3 L179.9 648 L181.7 645.7 L183.5 643.5 L185.3 641.3 L187.1 639.1 L188.9 636.9 L190.7 634.7 L192.4 632.6 L194.2 630.5 L196 628.5 L197.8 626.6 L199.5 624.8 L201.3 623 L203.1 621.2 L204.8 619.5 L206.6 617.8 L208.4 616.1 L210.2 614.5 L211.9 612.9 L213.7 611.3 L215.5 609.7 L217.3 608.2 L219.1 606.7 L220.8 605.3 L222.6 603.8 L224.4 602.4 L226.1 601 L227.9 599.7 L229.7 598.4 L231.5 597.1 L233.2 595.8 L235 594.6 L236.8 593.4 L238.6 592.2 L240.4 591.1 L242.2 589.9 L243.9 588.8 L245.7 587.8 L247.5 586.8 L249.3 585.8 L251.1 584.9 L252.8 584.1 L254.6 583.3 L256.4 582.5 L258.1 581.8 L259.9 581 L261.7 580.2 L263.5 579.4 L265.2 578.6 L267 577.8 L268.8 577 L270.6 576.2 L272.4 575.5 L274.1 574.8 L275.9 574.1 L277.7 573.4 L279.4 572.7 L281.2 572 L283 571.3 L284.8 570.5 L286.5 569.7 L288.3 569 L290.1 568.3 L291.9 567.7 L293.8 567.1 L295.7 566.6 L297.5 566.2 L299.4 565.7 L301.3 565.3 L303.2 564.8 L305 564.3 L306.8 563.9 L308.5 563.4 L310.3 563 L312.1 562.6 L313.9 562.2 L315.7 561.9 L317.4 561.6 L319.2 561.3 L321 561 L322.7 560.8 L324.5 560.5 L326.3 560.2 L328.1 560 L329.9 559.7 L331.6 559.4 L333.4 559.2 L335.2 559 L337.1 558.8 L339.1 558.6 L341 558.4 L342.9 558.2 L344.9 558.1 L346.8 557.9 L348.8 557.8 L350.7 557.6 L352.6 557.5 L354.6 557.4 L356.5 557.3 L358.5 557.2 L360.5 557.1 L362.5 557 L364.5 556.9 L366.5 556.8 L368.5 556.8 L370.5 556.7 L372.5 556.6 L374.5 556.6 L376.5 556.5 L378.5 556.4 L380.5 556.4 L382.5 556.3 L384.5 556.3 L386.5 556.2 L388.5 556.2 L390.5 556.2 L392.5 556.1 L394.5 556.1 L396.5 556.1 L398.5 556 L400.4 556 L402.4 556 L404.4 555.9 L406.4 555.9 L408.4 555.9 L410.4 555.9 L412.4 555.8 L414.4 555.8 L416.4 555.8 L418.4 555.7 L420.3 555.7 L422.3 555.7 L424.3 555.7 L426.3 555.6 L428.3 555.6 L430.3 555.6 L432.3 555.6 L434.3 555.6 L436.3 555.5 L438.3 555.5 L440.2 555.5 L442.2 555.5 L444.2 555.5 L446.2 555.4 L448.2 555.4 L450.2 555.4 L452.2 555.4 L454.2 555.4 L456.2 555.4 L458.2 555.3 L460.1 555.3 L462.1 555.3 L464.1 555.3 L466.1 555.3 L468.1 555.3 L470.1 555.3 L472.1 555.3 L474.1 555.2 L476.1 555.2 L478.1 555.2 L480 555.2 L482 555.2 L484 555.2 L486 555.2 L488 555.2 L490 555.2 L492 555.2 L494 555.2 L496 555.2 L498 555.2 L500 555.2 L502 555.2 L504 555.2 L506 555.2 L508 555.2 L510 555.2 L512 555.2 L514 555.2 L516 555.2 L518 555.2 L520 555.2 L522 555.2 L524 555.2 L526 555.1 L528 555.1 L530 555.1 L532 555.1 L534 555.1 L536 555.1 L538 555.1 L540 555.1 L542 555.1 L544 555.1 L546 555.1 L548 555.1 L550 555.1 L552 555.1 L554 555.1 L556 555.1 L558 555.1 L560 555.1 L562 555.1 L564 555.1 L565.9 555.1 L567.9 555.1 L569.9 555.1 L571.9 555.1 L573.9 555.1 L575.9 555.1 L577.9 555.1 L579.9 555.1 L581.9 555.1 L583.9 555.1 L585.9 555.1 L587.9 555.1 L589.9 555.1 L591.9 555.1 L593.9 555.1 L595.9 555.1 L597.9 555.1 L599.9 555.1 L601.9 555.1 L603.9 555.1 L605.9 555.1 L607.9 555 L609.9 555 L611.9 555 L613.9 555 L615.9 555 L617.9 555 L619.9 555 L621.9 555 L623.9 555 L625.9 555 L627.9 555 L629.9 555 L631.9 555 L633.9 555 L635.9 555 L637.9 555 L639.9 555 L641.9 555 L643.9 555 L645.9 555 L647.9 555 L649.9 555 L651.9 555 L653.9 555 L655.9 555 L657.9 555 L659.9 555 L661.9 555 L663.9 555 L665.9 555 L667.9 555 L669.9 555 L671.9 555 L673.9 555 L675.9 555 L677.9 555 L679.9 555 L681.9 555 L683.9 555 L685.9 555 L687.9 555 L689.9 555 L691.9 555 L693.9 555 L695.9 555 L697.9 555 L699.9 555 L701.9 555 L703.9 555 L705.9 555 L707.9 555 L709.9 555 L711.9 555 L713.8 555 L715.8 555 L717.8 555 L719.8 555 L721.8 555 L723.8 555 L725.8 555 L727.8 555 L729.8 555 L731.8 555 L733.8 555 L735.8 555 L737.8 554.9 L739.8 554.9 L741.8 554.9 L743.8 554.9 L745.8 554.9 L747.8 554.9 L749.8 554.9 L751.8 554.9 L753.8 554.9 L755.8 554.9 L757.8 554.9 L759.8 554.9 L761.8 554.9 L763.8 554.9 L765.8 554.9 L767.8 554.9 L769.8 554.9 L771.8 554.9 L773.8 554.9 L775.8 554.9 L777.8 554.9 L779.8 554.9 L781.8 554.9 L783.8 554.9 L785.8 554.9 L787.8 554.9 L789.8 554.9 L791.8 554.9 L793.8 554.9 L795.8 554.9 L797.8 554.9 L799.8 554.9 L801.8 554.9 L803.8 554.9 L805.8 554.9 L807.8 554.9 L809.8 554.9 L811.8 554.9 L813.8 554.9 L815.8 554.9 L817.8 554.9 L819.8 554.9 L821.8 554.9 L823.8 554.9 L825.8 554.9 L827.8 554.9 L829.8 554.9 L831.8 554.9 L833.8 554.9 L835.8 554.9 L837.8 554.9 L839.8 554.9 L841.8 554.9 L843.8 554.9 L845.8 554.9 L847.8 554.9 L849.8 554.9 L851.8 554.9 L853.8 554.9 L855.8 554.9 L857.8 554.9 L859.8 554.9 L861.7 554.9 L863.7 554.9 L865.7 554.9 L867.7 554.9 L869.7 554.9 L871.7 554.9 L873.7 554.9 L875.7 554.9 L877.7 554.9 L879.7 554.9 L881.7 554.9 L883.7 554.9 L885.7 554.9 L887.7 554.9 L889.7 554.9 L891.7 554.9 L893.7 554.9 L895.7 554.9 L897.7 554.9 L899.7 554.9 L901.7 554.9 L903.7 554.9 L905.7 554.9 L907.7 554.9 L909.7 554.9 L911.7 554.9 L913.7 554.9 L915.7 554.9 L917.7 554.9 L919.7 554.9 L921.7 554.9 L923.7 554.9 L925.7 554.9 L927.7 554.9 L929.7 554.9 L931.7 554.9 L933.7 554.9 L935.7 554.9 L936.7 554.9 L936.7 709.9 L144.4 709.9Z" fill="#00ff00"/>
<path d="M96.5 708.9 L144.4 701.2 L146.3 700.5 L148.3 699.8 L150.2 699.1 L152.1 698.4 L154.1 697.7 L156 697 L157.9 696.4 L159.9 695.7 L161.8 695.1 L163.7 694.4 L165.6 693.8 L167.6 693.1 L169.5 692.5 L171.4 691.8 L173.4 691.2 L175.3 690.6 L177.2 690 L179.2 689.4 L181.1 688.8 L183 688.2 L185 687.6 L186.9 687 L188.9 686.4 L190.8 685.8 L192.7 685.3 L194.7 684.7 L196.6 684.2 L198.5 683.7 L200.5 683.2 L202.4 682.6 L204.3 682.1 L206.3 681.7 L208.2 681.2 L210.2 680.7 L212.1 680.2 L214 679.7 L216 679.3 L217.9 678.8 L219.8 678.3 L221.8 677.9 L223.7 677.4 L225.7 676.9 L227.6 676.5 L229.6 676 L231.5 675.6 L233.5 675.1 L235.4 674.7 L237.4 674.3 L239.3 673.9 L241.2 673.5 L243.2 673.2 L245.1 672.8 L247 672.5 L249 672.2 L250.9 671.8 L252.9 671.5 L254.8 671.2 L256.7 670.9 L258.7 670.6 L260.6 670.3 L262.5 670 L264.5 669.7 L266.4 669.4 L268.3 669.1 L270.3 668.8 L272.2 668.5 L274.2 668.2 L276.1 667.9 L278 667.7 L280 667.4 L281.9 667.1 L283.8 666.8 L285.8 666.6 L287.7 666.3 L289.6 666 L291.6 665.8 L293.5 665.5 L295.5 665.3 L297.4 665 L299.3 664.8 L301.3 664.5 L303.2 664.3 L305.1 664.1 L307.1 663.8 L309 663.6 L311 663.4 L312.9 663.2 L314.8 663 L316.8 662.8 L318.7 662.5 L320.7 662.3 L322.6 662.1 L324.5 661.9 L326.5 661.7 L328.4 661.5 L330.4 661.3 L332.3 661.1 L334.3 660.9 L336.2 660.7 L338.1 660.5 L340.1 660.3 L342 660.1 L344 659.9 L345.9 659.7 L347.8 659.5 L349.8 659.3 L351.7 659.1 L353.6 658.9 L355.6 658.7 L357.5 658.5 L359.5 658.3 L361.4 658.1 L363.3 657.9 L365.3 657.7 L367.2 657.5 L369.1 657.3 L371.1 657.1 L373 656.9 L374.9 656.7 L376.9 656.5 L378.8 656.3 L380.8 656.1 L382.7 655.9 L384.6 655.8 L386.6 655.6 L388.5 655.4 L390.4 655.2 L392.4 655 L394.3 654.9 L396.3 654.7 L398.2 654.5 L400.1 654.4 L402.1 654.2 L404 654 L406 653.9 L407.9 653.7 L409.9 653.5 L411.8 653.4 L413.7 653.2 L415.7 653 L417.6 652.9 L419.6 652.7 L421.5 652.6 L423.4 652.4 L425.4 652.3 L427.3 652.1 L429.3 652 L431.2 651.8 L433.2 651.6 L435.1 651.5 L437.1 651.3 L439 651.2 L441 651 L443 650.9 L444.9 650.8 L446.9 650.6 L448.8 650.5 L450.8 650.3 L452.8 650.2 L454.7 650 L456.7 649.9 L458.6 649.8 L460.6 649.6 L462.6 649.5 L464.5 649.4 L466.5 649.2 L468.4 649.1 L470.4 648.9 L472.4 648.8 L474.3 648.7 L476.3 648.5 L478.2 648.4 L480.2 648.2 L482.2 648.1 L484.1 647.9 L486.1 647.8 L488 647.6 L490 647.5 L492 647.3 L494 647.2 L496 647 L498 646.9 L500 646.7 L502 646.6 L504 646.4 L506 646.3 L508 646.1 L510 645.9 L512 645.8 L514 645.6 L516 645.5 L518 645.3 L520 645.1 L522 645 L524 644.8 L526 644.7 L528 644.5 L530 644.3 L532 644.2 L534 644 L536 643.8 L538 643.7 L540 643.5 L542 643.4 L544 643.2 L546 643 L548 642.9 L550 642.7 L552 642.5 L554 642.4 L556 642.2 L558 642 L560 641.9 L562 641.7 L564 641.5 L566 641.3 L568 641.2 L570 641 L572 640.8 L574 640.7 L576 640.5 L578 640.3 L580 640.2 L582 640 L584 639.8 L586 639.7 L588 639.5 L590 639.3 L592 639.2 L594 639 L595.9 638.8 L597.9 638.7 L599.9 638.5 L601.9 638.3 L603.9 638.1 L605.9 638 L607.9 637.8 L609.9 637.6 L611.9 637.5 L613.9 637.3 L615.9 637.1 L617.9 637 L619.9 636.8 L621.9 636.6 L623.9 636.5 L625.9 636.3 L627.9 636.2 L629.9 636 L631.9 635.8 L633.9 635.7 L635.9 635.5 L637.9 635.3 L639.9 635.2 L641.9 635 L643.9 634.9 L645.9 634.7 L647.9 634.5 L649.9 634.4 L651.9 634.2 L653.9 634.1 L655.9 633.9 L657.9 633.7 L659.9 633.6 L661.9 633.4 L663.9 633.3 L665.9 633.1 L667.9 633 L669.9 632.8 L671.9 632.7 L673.9 632.5 L675.9 632.4 L677.9 632.2 L679.9 632.1 L681.9 631.9 L683.9 631.8 L685.9 631.6 L687.9 631.5 L689.9 631.3 L691.9 631.2 L693.9 631 L695.9 630.9 L697.9 630.7 L699.9 630.6 L701.9 630.5 L703.9 630.3 L705.9 630.2 L707.9 630 L709.9 629.9 L711.9 629.8 L713.9 629.6 L715.9 629.5 L717.9 629.3 L719.9 629.2 L721.9 629.1 L723.9 628.9 L725.9 628.8 L727.9 628.7 L729.9 628.5 L731.9 628.4 L733.9 628.2 L735.9 628.1 L737.9 628 L739.9 627.8 L741.9 627.7 L743.9 627.6 L745.9 627.4 L747.9 627.3 L749.9 627.2 L751.9 627 L753.9 626.9 L755.9 626.8 L757.9 626.6 L759.8 626.5 L761.8 626.3 L763.8 626.2 L765.8 626.1 L767.8 626 L769.8 625.8 L771.8 625.7 L773.8 625.6 L775.8 625.4 L777.8 625.3 L779.8 625.2 L781.8 625 L783.8 624.9 L785.8 624.8 L787.8 624.6 L789.8 624.5 L791.8 624.4 L793.8 624.3 L795.8 624.1 L797.8 624 L799.8 623.9 L801.8 623.7 L803.8 623.6 L805.8 623.5 L807.8 623.4 L809.8 623.2 L811.8 623.1 L813.8 623 L815.8 622.9 L817.8 622.7 L819.8 622.6 L821.8 622.5 L823.8 622.4 L825.8 622.2 L827.8 622.1 L829.8 622 L831.8 621.9 L833.8 621.7 L835.8 621.6 L837.8 621.5 L839.8 621.4 L841.8 621.2 L843.8 621.1 L845.8 621 L847.8 620.9 L849.8 620.8 L851.8 620.6 L853.8 620.5 L855.8 620.4 L857.8 620.3 L859.8 620.2 L861.8 620 L863.8 619.9 L865.8 619.8 L867.8 619.7 L869.8 619.6 L871.8 619.5 L873.8 619.3 L875.8 619.2 L877.7 619.1 L879.7 619 L881.7 618.9 L883.7 618.8 L885.7 618.6 L887.7 618.5 L889.7 618.4 L891.7 618.3 L893.7 618.2 L895.7 618.1 L897.7 618 L899.7 617.9 L901.7 617.7 L903.7 617.6 L905.7 617.5 L907.7 617.4 L909.7 617.3 L911.7 617.2 L913.7 617.1 L915.7 617 L917.7 616.9 L919.7 616.8 L921.7 616.6 L923.7 616.5 L925.7 616.4 L927.7 616.3 L929.7 616.2 L931.7 616.1 L933.7 616 L935.7 615.9 L936.7 615.9 L936.7 709.9 L96.5 709.9Z" fill="#008000"/>
<path d="M96.5 708.9 L143.9 50" fill="none" stroke="#000" stroke-width="1.2" stroke-linejoin="round"/>
<path d="M174.5 52.3 L936.7 52.3" fill="none" stroke="#000" stroke-width="1.5" stroke-linejoin="round"/>
<path d="M96.5 708.9 L143.9 52.4 L174.8 52.2 L191.9 83.2 L193.6 88.5 L195.3 93.9 L197 99.5 L198.7 105.1 L200.4 110.9 L202 116.4 L203.6 122 L205.2 127.7 L206.8 133.4 L208.4 139.3 L210 145.3 L211.6 151.5 L213.2 157.8 L214.5 163.2 L215.9 168.8 L217.2 174.6 L218.6 180.5 L219.9 186.4 L221.2 192.5 L222.6 198.6 L223.9 204.7 L225.1 210.2 L226.3 215.8 L227.4 221.6 L228.6 227.3 L229.8 233.2 L231 239 L232.1 244.7 L233.3 250.4 L234.5 255.9 L235.7 261.6 L237 267.2 L238.2 272.7 L239.4 278.2 L240.7 283.7 L241.9 289.1 L243.2 294.6 L244.4 300 L245.6 305.5 L246.8 311.1 L248.1 316.8 L249.3 322.4 L250.5 327.9 L251.8 333.1 L253 338.1 L254.2 342.6 L255.8 347.8 L257.4 352.3 L259 356.9 L260.6 361.8 L262.1 367.1 L263.6 372.9 L265.1 378.9 L266.7 385.1 L268.2 391.1 L269.7 396.9 L271.2 402.3 L273 408.1 L274.8 413.6 L276.5 418.9 L278.3 424.1 L280.1 429.2 L281.9 434.3 L283.7 439.5 L285.5 444.8 L287.2 450 L289 455 L290.8 459.8 L292.6 464.2 L294.4 468.2 L296.1 471.9 L297.9 475.4 L299.7 478.8 L301.4 482.2 L303.2 485.5 L305 488.9 L306.8 492.4 L308.5 495.8 L310.3 499.1 L312.1 502.1 L313.9 504.7 L315.7 507 L317.4 509.1 L319.2 511 L321 512.9 L322.7 514.7 L324.5 516.4 L326.3 518.1 L328.1 519.8 L329.9 521.5 L331.6 523 L333.4 524.6 L335.2 526 L337 527.4 L338.8 528.8 L340.5 530.2 L342.3 531.4 L344.1 532.5 L345.9 533.5 L347.8 534.4 L349.8 535.3 L351.7 536.1 L353.6 536.8 L355.6 537.5 L357.5 538.2 L359.5 538.8 L361.4 539.4 L363.3 539.9 L365.3 540.4 L367.2 540.9 L369.1 541.4 L371.1 541.8 L373 542.2 L374.9 542.6 L376.9 543 L378.8 543.3 L380.8 543.7 L382.7 544 L384.6 544.3 L386.6 544.5 L388.5 544.8 L390.4 545 L392.4 545.3 L394.3 545.5 L396.2 545.7 L398.2 545.9 L400.1 546.1 L402.1 546.3 L404 546.4 L405.9 546.6 L407.9 546.8 L409.8 546.9 L411.8 547.1 L413.8 547.2 L415.8 547.3 L417.8 547.5 L419.8 547.6 L421.8 547.8 L423.8 547.9 L425.8 548 L427.8 548.2 L429.8 548.3 L431.8 548.4 L433.8 548.5 L435.8 548.6 L437.8 548.7 L439.8 548.7 L441.8 548.8 L443.7 548.9 L445.7 548.9 L447.6 549 L449.5 549 L451.4 549.1 L453.4 549.1 L455.3 549.1 L457.2 549.2 L459.2 549.2 L461.1 549.2 L463 549.3 L464.9 549.3 L466.9 549.3 L468.8 549.4 L470.7 549.4 L472.6 549.4 L474.6 549.5 L476.5 549.5 L478.4 549.5 L480.4 549.6 L482.3 549.6 L484.2 549.6 L486.1 549.6 L488.1 549.7 L490 549.7 L491.9 549.7 L493.9 549.8 L495.8 549.8 L497.7 549.8 L499.6 549.9 L501.6 549.9 L503.5 550 L505.4 550 L507.4 550 L509.3 550 L511.2 550.1 L513.1 550.1 L515.1 550.1 L517 550.1 L519 550.1 L521 550.1 L523 550.1 L525 550.1 L527 550.1 L529 550.1 L531 550.1 L533 550.1 L534.9 550.1 L536.9 550.1 L538.9 550.1 L540.9 550.1 L542.9 550.1 L544.9 550.1 L546.9 550.1 L548.9 550.1 L550.9 550.1 L552.9 550.1 L554.9 550.1 L556.9 550.1 L558.9 550.1 L560.9 550.1 L562.9 550.1 L564.9 550.1 L566.8 550.1 L568.8 550.1 L570.8 550.1 L572.8 550.1 L574.8 550.1 L576.8 550.1 L578.8 550.1 L580.8 550.1 L582.8 550.1 L584.8 550.1 L586.8 550.1 L588.8 550.1 L590.8 550.1 L592.8 550.1 L594.8 550.1 L596.8 550.1 L598.7 550.1 L600.7 550.1 L602.7 550.1 L604.7 550.1 L606.7 550.1 L608.7 550.1 L610.7 550.1 L612.7 550.1 L614.7 550.1 L616.7 550.1 L618.7 550.1 L620.7 550.1 L622.7 550.1 L624.7 550.1 L626.7 550.1 L628.7 550.1 L630.6 550.1 L632.6 550.1 L634.6 550.1 L636.6 550.1 L638.6 550.1 L640.6 550.1 L642.6 550.1 L644.6 550.1 L646.6 550.1 L648.6 550.1 L650.6 550.1 L652.6 550.1 L654.6 550.1 L656.6 550.1 L658.6 550.1 L660.6 550.1 L662.5 550.1 L664.5 550.1 L666.5 550.1 L668.5 550.1 L670.5 550.1 L672.5 550.1 L674.5 550.1 L676.5 550.1 L678.5 550.1 L680.5 550.1 L682.5 550.1 L684.5 550.1 L686.5 550.1 L688.5 550.1 L690.5 550.1 L692.5 550.1 L694.4 550.1 L696.4 550.1 L698.4 550.1 L700.4 550.1 L702.4 550.1 L704.4 550.1 L706.4 550.1 L708.4 550.1 L710.4 550.1 L712.4 550.1 L714.4 550.1 L716.4 550.1 L718.4 550.1 L720.4 550.1 L722.4 550.1 L724.4 550.1 L726.4 550.1 L728.3 550.1 L730.3 550.1 L732.3 550.1 L734.3 550.1 L736.3 550.1 L738.3 550.1 L740.3 550.1 L742.3 550.1 L744.3 550.1 L746.3 550.1 L748.3 550.1 L750.3 550.1 L752.3 550.1 L754.3 550.1 L756.3 550.1 L758.3 550.1 L760.2 550.1 L762.2 550.1 L764.2 550.1 L766.2 550.1 L768.2 550.1 L770.2 550.1 L772.2 550.1 L774.2 550.1 L776.2 550.1 L778.2 550.1 L780.2 550.1 L782.2 550.1 L784.2 550.1 L786.2 550.1 L788.2 550.1 L790.2 550.1 L792.1 550.1 L794.1 550.1 L796.1 550.1 L798.1 550.1 L800.1 550.1 L802.1 550.1 L804.1 550.1 L806.1 550.1 L808.1 550.1 L810.1 550.1 L812.1 550.1 L814.1 550.1 L816.1 550.1 L818.1 550.1 L820.1 550.1 L822.1 550.1 L824 550.1 L826 550.1 L828 550.1 L830 550.1 L832 550.1 L834 550.1 L836 550.1 L838 550.1 L840 550.1 L842 550.1 L844 550.1 L846 550.1 L848 550.1 L850 550.1 L852 550.1 L854 550.1 L855.9 550.1 L857.9 550.1 L859.9 550.1 L861.9 550.1 L863.9 550.1 L865.9 550.1 L867.9 550.1 L869.9 550.1 L871.9 550.1 L873.9 550.1 L875.9 550.1 L877.9 550.1 L879.9 550.1 L881.9 550.1 L883.9 550.1 L885.9 550.1 L887.8 550.1 L889.8 550.1 L891.8 550.1 L893.8 550.1 L895.8 550.1 L897.8 550.1 L899.8 550.1 L901.8 550.1 L903.8 550.1 L905.8 550.1 L907.8 550.1 L909.8 550.1 L911.8 550.1 L913.8 550.1 L915.8 550.1 L917.8 550.1 L919.7 550.1 L921.7 550.1 L923.7 550.1 L925.7 550.1 L927.7 550.1 L929.7 550.1 L931.7 550.1 L933.7 550.1 L935.7 550.1" fill="none" stroke="#000" stroke-width="1.1" stroke-linejoin="round"/>
<path d="M144.4 702 L146.3 699 L148.3 696.1 L150.2 693 L152.2 690 L154.2 686.9 L156.1 683.7 L158.1 680.5 L160.1 677.3 L162 674.2 L164 671.1 L165.8 668.4 L167.5 665.6 L169.3 662.9 L171.1 660.2 L172.8 657.6 L174.6 655.1 L176.4 652.7 L178.2 650.3 L179.9 648 L181.7 645.7 L183.5 643.5 L185.3 641.3 L187.1 639.1 L188.9 636.9 L190.7 634.7 L192.4 632.6 L194.2 630.5 L196 628.5 L197.8 626.6 L199.5 624.8 L201.3 623 L203.1 621.2 L204.8 619.5 L206.6 617.8 L208.4 616.1 L210.2 614.5 L211.9 612.9 L213.7 611.3 L215.5 609.7 L217.3 608.2 L219.1 606.7 L220.8 605.3 L222.6 603.8 L224.4 602.4 L226.1 601 L227.9 599.7 L229.7 598.4 L231.5 597.1 L233.2 595.8 L235 594.6 L236.8 593.4 L238.6 592.2 L240.4 591.1 L242.2 589.9 L243.9 588.8 L245.7 587.8 L247.5 586.8 L249.3 585.8 L251.1 584.9 L252.8 584.1 L254.6 583.3 L256.4 582.5 L258.1 581.8 L259.9 581 L261.7 580.2 L263.5 579.4 L265.2 578.6 L267 577.8 L268.8 577 L270.6 576.2 L272.4 575.5 L274.1 574.8 L275.9 574.1 L277.7 573.4 L279.4 572.7 L281.2 572 L283 571.3 L284.8 570.5 L286.5 569.7 L288.3 569 L290.1 568.3 L291.9 567.7 L293.8 567.1 L295.7 566.6 L297.5 566.2 L299.4 565.7 L301.3 565.3 L303.2 564.8 L305 564.3 L306.8 563.9 L308.5 563.4 L310.3 563 L312.1 562.6 L313.9 562.2 L315.7 561.9 L317.4 561.6 L319.2 561.3 L321 561 L322.7 560.8 L324.5 560.5 L326.3 560.2 L328.1 560 L329.9 559.7 L331.6 559.4 L333.4 559.2 L335.2 559 L337.1 558.8 L339.1 558.6 L341 558.4 L342.9 558.2 L344.9 558.1 L346.8 557.9 L348.8 557.8 L350.7 557.6 L352.6 557.5 L354.6 557.4 L356.5 557.3 L358.5 557.2 L360.5 557.1 L362.5 557 L364.5 556.9 L366.5 556.8 L368.5 556.8 L370.5 556.7 L372.5 556.6 L374.5 556.6 L376.5 556.5 L378.5 556.4 L380.5 556.4 L382.5 556.3 L384.5 556.3 L386.5 556.2 L388.5 556.2 L390.5 556.2 L392.5 556.1 L394.5 556.1 L396.5 556.1 L398.5 556 L400.4 556 L402.4 556 L404.4 555.9 L406.4 555.9 L408.4 555.9 L410.4 555.9 L412.4 555.8 L414.4 555.8 L416.4 555.8 L418.4 555.7 L420.3 555.7 L422.3 555.7 L424.3 555.7 L426.3 555.6 L428.3 555.6 L430.3 555.6 L432.3 555.6 L434.3 555.6 L436.3 555.5 L438.3 555.5 L440.2 555.5 L442.2 555.5 L444.2 555.5 L446.2 555.4 L448.2 555.4 L450.2 555.4 L452.2 555.4 L454.2 555.4 L456.2 555.4 L458.2 555.3 L460.1 555.3 L462.1 555.3 L464.1 555.3 L466.1 555.3 L468.1 555.3 L470.1 555.3 L472.1 555.3 L474.1 555.2 L476.1 555.2 L478.1 555.2 L480 555.2 L482 555.2 L484 555.2 L486 555.2 L488 555.2 L490 555.2 L492 555.2 L494 555.2 L496 555.2 L498 555.2 L500 555.2 L502 555.2 L504 555.2 L506 555.2 L508 555.2 L510 555.2 L512 555.2 L514 555.2 L516 555.2 L518 555.2 L520 555.2 L522 555.2 L524 555.2 L526 555.1 L528 555.1 L530 555.1 L532 555.1 L534 555.1 L536 555.1 L538 555.1 L540 555.1 L542 555.1 L544 555.1 L546 555.1 L548 555.1 L550 555.1 L552 555.1 L554 555.1 L556 555.1 L558 555.1 L560 555.1 L562 555.1 L564 555.1 L565.9 555.1 L567.9 555.1 L569.9 555.1 L571.9 555.1 L573.9 555.1 L575.9 555.1 L577.9 555.1 L579.9 555.1 L581.9 555.1 L583.9 555.1 L585.9 555.1 L587.9 555.1 L589.9 555.1 L591.9 555.1 L593.9 555.1 L595.9 555.1 L597.9 555.1 L599.9 555.1 L601.9 555.1 L603.9 555.1 L605.9 555.1 L607.9 555 L609.9 555 L611.9 555 L613.9 555 L615.9 555 L617.9 555 L619.9 555 L621.9 555 L623.9 555 L625.9 555 L627.9 555 L629.9 555 L631.9 555 L633.9 555 L635.9 555 L637.9 555 L639.9 555 L641.9 555 L643.9 555 L645.9 555 L647.9 555 L649.9 555 L651.9 555 L653.9 555 L655.9 555 L657.9 555 L659.9 555 L661.9 555 L663.9 555 L665.9 555 L667.9 555 L669.9 555 L671.9 555 L673.9 555 L675.9 555 L677.9 555 L679.9 555 L681.9 555 L683.9 555 L685.9 555 L687.9 555 L689.9 555 L691.9 555 L693.9 555 L695.9 555 L697.9 555 L699.9 555 L701.9 555 L703.9 555 L705.9 555 L707.9 555 L709.9 555 L711.9 555 L713.8 555 L715.8 555 L717.8 555 L719.8 555 L721.8 555 L723.8 555 L725.8 555 L727.8 555 L729.8 555 L731.8 555 L733.8 555 L735.8 555 L737.8 554.9 L739.8 554.9 L741.8 554.9 L743.8 554.9 L745.8 554.9 L747.8 554.9 L749.8 554.9 L751.8 554.9 L753.8 554.9 L755.8 554.9 L757.8 554.9 L759.8 554.9 L761.8 554.9 L763.8 554.9 L765.8 554.9 L767.8 554.9 L769.8 554.9 L771.8 554.9 L773.8 554.9 L775.8 554.9 L777.8 554.9 L779.8 554.9 L781.8 554.9 L783.8 554.9 L785.8 554.9 L787.8 554.9 L789.8 554.9 L791.8 554.9 L793.8 554.9 L795.8 554.9 L797.8 554.9 L799.8 554.9 L801.8 554.9 L803.8 554.9 L805.8 554.9 L807.8 554.9 L809.8 554.9 L811.8 554.9 L813.8 554.9 L815.8 554.9 L817.8 554.9 L819.8 554.9 L821.8 554.9 L823.8 554.9 L825.8 554.9 L827.8 554.9 L829.8 554.9 L831.8 554.9 L833.8 554.9 L835.8 554.9 L837.8 554.9 L839.8 554.9 L841.8 554.9 L843.8 554.9 L845.8 554.9 L847.8 554.9 L849.8 554.9 L851.8 554.9 L853.8 554.9 L855.8 554.9 L857.8 554.9 L859.8 554.9 L861.7 554.9 L863.7 554.9 L865.7 554.9 L867.7 554.9 L869.7 554.9 L871.7 554.9 L873.7 554.9 L875.7 554.9 L877.7 554.9 L879.7 554.9 L881.7 554.9 L883.7 554.9 L885.7 554.9 L887.7 554.9 L889.7 554.9 L891.7 554.9 L893.7 554.9 L895.7 554.9 L897.7 554.9 L899.7 554.9 L901.7 554.9 L903.7 554.9 L905.7 554.9 L907.7 554.9 L909.7 554.9 L911.7 554.9 L913.7 554.9 L915.7 554.9 L917.7 554.9 L919.7 554.9 L921.7 554.9 L923.7 554.9 L925.7 554.9 L927.7 554.9 L929.7 554.9 L931.7 554.9 L933.7 554.9 L935.7 554.9" fill="none" stroke="#000" stroke-width="1.1" stroke-linejoin="round"/>
<path d="M96.5 708.9 L143.9 629.8 L145.8 627.1 L147.7 624.5 L149.5 621.9 L151.4 619.3 L153.3 616.8 L155.1 614.4 L156.9 612 L158.7 609.7 L160.4 607.3 L162.2 605.1 L164 602.9 L165.8 600.8 L167.5 598.8 L169.3 596.8 L171.1 594.9 L172.8 593 L174.6 591.2 L176.4 589.4 L178.2 587.6 L179.9 585.8 L181.7 584.1 L183.5 582.5 L185.3 581 L187.1 579.6 L188.9 578.3 L190.7 577.1 L192.4 575.9 L194.2 574.7 L196 573.6 L197.8 572.5 L199.5 571.5 L201.3 570.4 L203.1 569.5 L204.8 568.6 L206.6 567.7 L208.4 566.9 L210.2 566.2 L211.9 565.4 L213.7 564.8 L215.5 564.1 L217.3 563.5 L219.1 562.9 L220.8 562.3 L222.6 561.7 L224.4 561.2 L226.1 560.7 L227.9 560.3 L229.8 560 L231.8 559.6 L233.7 559.3 L235.7 559.1 L237.6 558.8 L239.6 558.6 L241.5 558.4 L243.5 558.2 L245.4 558 L247.4 557.8 L249.3 557.6 L251.2 557.4 L253.2 557.3 L255.1 557.1 L257 556.9 L259 556.8 L260.9 556.6 L262.9 556.5 L264.8 556.4 L266.7 556.3 L268.7 556.1 L270.6 556 L272.6 555.9 L274.5 555.8 L276.5 555.6 L278.4 555.5 L280.4 555.4 L282.4 555.3 L284.3 555.2 L286.3 555 L288.2 554.9 L290.2 554.8 L292.2 554.7 L294.1 554.6 L296.1 554.6 L298 554.5 L300 554.4 L301.9 554.3 L303.9 554.3 L305.8 554.2 L307.8 554.1 L309.7 554.1 L311.7 554 L313.6 553.9 L315.6 553.9 L317.5 553.8 L319.5 553.8 L321.4 553.7 L323.4 553.7 L325.3 553.6 L327.3 553.6 L329.2 553.5 L331.2 553.5 L333.1 553.4 L335.1 553.4 L337 553.3 L339 553.3 L340.9 553.3 L342.9 553.2 L344.8 553.2 L346.8 553.1 L348.7 553.1 L350.7 553.1 L352.6 553.1 L354.6 553 L356.5 553 L358.5 553 L360.5 553 L362.5 552.9 L364.5 552.9 L366.5 552.9 L368.5 552.9 L370.4 552.8 L372.4 552.8 L374.4 552.8 L376.4 552.8 L378.4 552.7 L380.4 552.7 L382.4 552.7 L384.4 552.7 L386.4 552.6 L388.4 552.6 L390.4 552.6 L392.4 552.6 L394.4 552.6 L396.4 552.5 L398.3 552.5 L400.3 552.5 L402.3 552.5 L404.3 552.5 L406.3 552.4 L408.3 552.4 L410.3 552.4 L412.3 552.4 L414.3 552.4 L416.3 552.4 L418.3 552.3 L420.3 552.3 L422.3 552.3 L424.2 552.3 L426.2 552.3 L428.2 552.3 L430.2 552.2 L432.2 552.2 L434.2 552.2 L436.2 552.2 L438.2 552.2 L440.2 552.2 L442.2 552.2 L444.2 552.1 L446.2 552.1 L448.2 552.1 L450.1 552.1 L452.1 552.1 L454.1 552.1 L456.1 552.1 L458.1 552.1 L460.1 552.1 L462.1 552.1 L464.1 552 L466.1 552 L468.1 552 L470.1 552 L472.1 552 L474.1 552 L476.1 552 L478 552 L480 552 L482 552 L484 552 L486 552 L488 552 L490 552 L492 552 L494 552 L496 552 L498 552 L500 552 L502 552 L504 552 L506 552 L508 552 L510 552 L512 552 L514 552 L516 552 L518 552 L520 552 L522 552 L524 552 L526 552 L528 552 L530 552 L532 552 L534 552 L536 552 L538 552 L540 552 L542 552 L544 552 L546 552 L548 552 L550 552 L552 552 L554 552 L556 552 L558 552 L560 552 L562 552 L564 552 L565.9 552 L567.9 552 L569.9 552 L571.9 552 L573.9 552 L575.9 552 L577.9 552 L579.9 552 L581.9 552 L583.9 552 L585.9 552 L587.9 552 L589.9 552 L591.9 552 L593.9 552 L595.9 552 L597.9 552 L599.9 552 L601.9 552 L603.9 552 L605.9 552 L607.9 552 L609.9 552 L611.9 552 L613.9 552 L615.9 552 L617.9 552 L619.9 552 L621.9 552 L623.9 552 L625.9 552 L627.9 552 L629.9 552 L631.9 552 L633.9 552 L635.9 552 L637.9 552 L639.9 552 L641.9 552 L643.9 552 L645.9 552 L647.9 552 L649.9 552 L651.9 552 L653.9 552 L655.9 552 L657.9 552 L659.9 552 L661.9 552 L663.9 552 L665.9 552 L667.9 552 L669.9 552 L671.9 552 L673.9 552 L675.9 552 L677.9 552 L679.9 552 L681.9 552 L683.9 552 L685.9 552 L687.9 552 L689.9 552 L691.9 552 L693.9 552 L695.9 552 L697.9 552 L699.9 552 L701.9 552 L703.9 552 L705.9 552 L707.9 552 L709.9 552 L711.9 552 L713.8 552 L715.8 552 L717.8 552 L719.8 552 L721.8 552 L723.8 552 L725.8 552 L727.8 552 L729.8 552 L731.8 552 L733.8 552 L735.8 552 L737.8 552 L739.8 552 L741.8 552 L743.8 552 L745.8 552 L747.8 552 L749.8 552 L751.8 552 L753.8 552 L755.8 552 L757.8 552 L759.8 552 L761.8 552 L763.8 552 L765.8 552 L767.8 552 L769.8 552 L771.8 552 L773.8 552 L775.8 552 L777.8 552 L779.8 552 L781.8 552 L783.8 552 L785.8 552 L787.8 552 L789.8 552 L791.8 552 L793.8 552 L795.8 552 L797.8 552 L799.8 552 L801.8 552 L803.8 552 L805.8 552 L807.8 552 L809.8 552 L811.8 552 L813.8 552 L815.8 552 L817.8 552 L819.8 552 L821.8 552 L823.8 552 L825.8 552 L827.8 552 L829.8 552 L831.8 552 L833.8 552 L835.8 552 L837.8 552 L839.8 552 L841.8 552 L843.8 552 L845.8 552 L847.8 552 L849.8 552 L851.8 552 L853.8 552 L855.8 552 L857.8 552 L859.8 552 L861.7 552 L863.7 552 L865.7 552 L867.7 552 L869.7 552 L871.7 552 L873.7 552 L875.7 552 L877.7 552 L879.7 552 L881.7 552 L883.7 552 L885.7 552 L887.7 552 L889.7 552 L891.7 552 L893.7 552 L895.7 552 L897.7 552 L899.7 552 L901.7 552 L903.7 552 L905.7 552 L907.7 552 L909.7 552 L911.7 552 L913.7 552 L915.7 552 L917.7 552 L919.7 552 L921.7 552 L923.7 552 L925.7 552 L927.7 552 L929.7 552 L931.7 552 L933.7 552 L935.7 552" fill="none" stroke="#000" stroke-width="2.0" stroke-linejoin="round"/>
<path d="M96.5 708.9 L144.4 701.2 L146.3 700.5 L148.3 699.8 L150.2 699.1 L152.1 698.4 L154.1 697.7 L156 697 L157.9 696.4 L159.9 695.7 L161.8 695.1 L163.7 694.4 L165.6 693.8 L167.6 693.1 L169.5 692.5 L171.4 691.8 L173.4 691.2 L175.3 690.6 L177.2 690 L179.2 689.4 L181.1 688.8 L183 688.2 L185 687.6 L186.9 687 L188.9 686.4 L190.8 685.8 L192.7 685.3 L194.7 684.7 L196.6 684.2 L198.5 683.7 L200.5 683.2 L202.4 682.6 L204.3 682.1 L206.3 681.7 L208.2 681.2 L210.2 680.7 L212.1 680.2 L214 679.7 L216 679.3 L217.9 678.8 L219.8 678.3 L221.8 677.9 L223.7 677.4 L225.7 676.9 L227.6 676.5 L229.6 676 L231.5 675.6 L233.5 675.1 L235.4 674.7 L237.4 674.3 L239.3 673.9 L241.2 673.5 L243.2 673.2 L245.1 672.8 L247 672.5 L249 672.2 L250.9 671.8 L252.9 671.5 L254.8 671.2 L256.7 670.9 L258.7 670.6 L260.6 670.3 L262.5 670 L264.5 669.7 L266.4 669.4 L268.3 669.1 L270.3 668.8 L272.2 668.5 L274.2 668.2 L276.1 667.9 L278 667.7 L280 667.4 L281.9 667.1 L283.8 666.8 L285.8 666.6 L287.7 666.3 L289.6 666 L291.6 665.8 L293.5 665.5 L295.5 665.3 L297.4 665 L299.3 664.8 L301.3 664.5 L303.2 664.3 L305.1 664.1 L307.1 663.8 L309 663.6 L311 663.4 L312.9 663.2 L314.8 663 L316.8 662.8 L318.7 662.5 L320.7 662.3 L322.6 662.1 L324.5 661.9 L326.5 661.7 L328.4 661.5 L330.4 661.3 L332.3 661.1 L334.3 660.9 L336.2 660.7 L338.1 660.5 L340.1 660.3 L342 660.1 L344 659.9 L345.9 659.7 L347.8 659.5 L349.8 659.3 L351.7 659.1 L353.6 658.9 L355.6 658.7 L357.5 658.5 L359.5 658.3 L361.4 658.1 L363.3 657.9 L365.3 657.7 L367.2 657.5 L369.1 657.3 L371.1 657.1 L373 656.9 L374.9 656.7 L376.9 656.5 L378.8 656.3 L380.8 656.1 L382.7 655.9 L384.6 655.8 L386.6 655.6 L388.5 655.4 L390.4 655.2 L392.4 655 L394.3 654.9 L396.3 654.7 L398.2 654.5 L400.1 654.4 L402.1 654.2 L404 654 L406 653.9 L407.9 653.7 L409.9 653.5 L411.8 653.4 L413.7 653.2 L415.7 653 L417.6 652.9 L419.6 652.7 L421.5 652.6 L423.4 652.4 L425.4 652.3 L427.3 652.1 L429.3 652 L431.2 651.8 L433.2 651.6 L435.1 651.5 L437.1 651.3 L439 651.2 L441 651 L443 650.9 L444.9 650.8 L446.9 650.6 L448.8 650.5 L450.8 650.3 L452.8 650.2 L454.7 650 L456.7 649.9 L458.6 649.8 L460.6 649.6 L462.6 649.5 L464.5 649.4 L466.5 649.2 L468.4 649.1 L470.4 648.9 L472.4 648.8 L474.3 648.7 L476.3 648.5 L478.2 648.4 L480.2 648.2 L482.2 648.1 L484.1 647.9 L486.1 647.8 L488 647.6 L490 647.5 L492 647.3 L494 647.2 L496 647 L498 646.9 L500 646.7 L502 646.6 L504 646.4 L506 646.3 L508 646.1 L510 645.9 L512 645.8 L514 645.6 L516 645.5 L518 645.3 L520 645.1 L522 645 L524 644.8 L526 644.7 L528 644.5 L530 644.3 L532 644.2 L534 644 L536 643.8 L538 643.7 L540 643.5 L542 643.4 L544 643.2 L546 643 L548 642.9 L550 642.7 L552 642.5 L554 642.4 L556 642.2 L558 642 L560 641.9 L562 641.7 L564 641.5 L566 641.3 L568 641.2 L570 641 L572 640.8 L574 640.7 L576 640.5 L578 640.3 L580 640.2 L582 640 L584 639.8 L586 639.7 L588 639.5 L590 639.3 L592 639.2 L594 639 L595.9 638.8 L597.9 638.7 L599.9 638.5 L601.9 638.3 L603.9 638.1 L605.9 638 L607.9 637.8 L609.9 637.6 L611.9 637.5 L613.9 637.3 L615.9 637.1 L617.9 637 L619.9 636.8 L621.9 636.6 L623.9 636.5 L625.9 636.3 L627.9 636.2 L629.9 636 L631.9 635.8 L633.9 635.7 L635.9 635.5 L637.9 635.3 L639.9 635.2 L641.9 635 L643.9 634.9 L645.9 634.7 L647.9 634.5 L649.9 634.4 L651.9 634.2 L653.9 634.1 L655.9 633.9 L657.9 633.7 L659.9 633.6 L661.9 633.4 L663.9 633.3 L665.9 633.1 L667.9 633 L669.9 632.8 L671.9 632.7 L673.9 632.5 L675.9 632.4 L677.9 632.2 L679.9 632.1 L681.9 631.9 L683.9 631.8 L685.9 631.6 L687.9 631.5 L689.9 631.3 L691.9 631.2 L693.9 631 L695.9 630.9 L697.9 630.7 L699.9 630.6 L701.9 630.5 L703.9 630.3 L705.9 630.2 L707.9 630 L709.9 629.9 L711.9 629.8 L713.9 629.6 L715.9 629.5 L717.9 629.3 L719.9 629.2 L721.9 629.1 L723.9 628.9 L725.9 628.8 L727.9 628.7 L729.9 628.5 L731.9 628.4 L733.9 628.2 L735.9 628.1 L737.9 628 L739.9 627.8 L741.9 627.7 L743.9 627.6 L745.9 627.4 L747.9 627.3 L749.9 627.2 L751.9 627 L753.9 626.9 L755.9 626.8 L757.9 626.6 L759.8 626.5 L761.8 626.3 L763.8 626.2 L765.8 626.1 L767.8 626 L769.8 625.8 L771.8 625.7 L773.8 625.6 L775.8 625.4 L777.8 625.3 L779.8 625.2 L781.8 625 L783.8 624.9 L785.8 624.8 L787.8 624.6 L789.8 624.5 L791.8 624.4 L793.8 624.3 L795.8 624.1 L797.8 624 L799.8 623.9 L801.8 623.7 L803.8 623.6 L805.8 623.5 L807.8 623.4 L809.8 623.2 L811.8 623.1 L813.8 623 L815.8 622.9 L817.8 622.7 L819.8 622.6 L821.8 622.5 L823.8 622.4 L825.8 622.2 L827.8 622.1 L829.8 622 L831.8 621.9 L833.8 621.7 L835.8 621.6 L837.8 621.5 L839.8 621.4 L841.8 621.2 L843.8 621.1 L845.8 621 L847.8 620.9 L849.8 620.8 L851.8 620.6 L853.8 620.5 L855.8 620.4 L857.8 620.3 L859.8 620.2 L861.8 620 L863.8 619.9 L865.8 619.8 L867.8 619.7 L869.8 619.6 L871.8 619.5 L873.8 619.3 L875.8 619.2 L877.7 619.1 L879.7 619 L881.7 618.9 L883.7 618.8 L885.7 618.6 L887.7 618.5 L889.7 618.4 L891.7 618.3 L893.7 618.2 L895.7 618.1 L897.7 618 L899.7 617.9 L901.7 617.7 L903.7 617.6 L905.7 617.5 L907.7 617.4 L909.7 617.3 L911.7 617.2 L913.7 617.1 L915.7 617 L917.7 616.9 L919.7 616.8 L921.7 616.6 L923.7 616.5 L925.7 616.4 L927.7 616.3 L929.7 616.2 L931.7 616.1 L933.7 616 L935.7 615.9" fill="none" stroke="#000" stroke-width="1.9" stroke-linejoin="round"/>
<rect x="303" y="553" width="55" height="2.6" fill="#000"/>
<rect x="358" y="551.7" width="68" height="4.6" fill="#000"/>
<rect x="426" y="551.7" width="91" height="3.2" fill="#000"/>
<rect x="517" y="550.2" width="419.7" height="4.7" fill="#000"/>
</g>
<path d="M96.5 708.9 v-6.8 M96.5 49.1 v6.8 M175.7 708.9 v-6.8 M175.7 49.1 v6.8 M254.8 708.9 v-6.8 M254.8 49.1 v6.8 M334 708.9 v-6.8 M334 49.1 v6.8 M413.2 708.9 v-6.8 M413.2 49.1 v6.8 M492.3 708.9 v-6.8 M492.3 49.1 v6.8 M571.5 708.9 v-6.8 M571.5 49.1 v6.8 M650.7 708.9 v-6.8 M650.7 49.1 v6.8 M729.9 708.9 v-6.8 M729.9 49.1 v6.8 M809 708.9 v-6.8 M809 49.1 v6.8 M888.2 708.9 v-6.8 M888.2 49.1 v6.8 M96.5 708.9 h6.8 M935.7 708.9 h-6.8 M96.5 635.9 h6.8 M935.7 635.9 h-6.8 M96.5 563 h6.8 M935.7 563 h-6.8 M96.5 490 h6.8 M935.7 490 h-6.8 M96.5 417 h6.8 M935.7 417 h-6.8 M96.5 344 h6.8 M935.7 344 h-6.8 M96.5 271.1 h6.8 M935.7 271.1 h-6.8 M96.5 198.1 h6.8 M935.7 198.1 h-6.8 M96.5 125.1 h6.8 M935.7 125.1 h-6.8 M96.5 52.2 h6.8 M935.7 52.2 h-6.8" stroke="#262626" stroke-width="1.6" fill="none"/>
<rect x="96.5" y="49.1" width="839.2" height="659.8" fill="none" stroke="#262626" stroke-width="1.9"/>
<g class="tk">
<text x="95.3" y="744.9" text-anchor="middle">0</text>
<text x="174.5" y="744.9" text-anchor="middle">50</text>
<text x="253.6" y="744.9" text-anchor="middle">100</text>
<text x="332.8" y="744.9" text-anchor="middle">150</text>
<text x="412" y="744.9" text-anchor="middle">200</text>
<text x="491.1" y="744.9" text-anchor="middle">250</text>
<text x="570.3" y="744.9" text-anchor="middle">300</text>
<text x="649.5" y="744.9" text-anchor="middle">350</text>
<text x="728.7" y="744.9" text-anchor="middle">400</text>
<text x="807.8" y="744.9" text-anchor="middle">450</text>
<text x="887" y="744.9" text-anchor="middle">500</text>
<text x="83.2" y="718.3" text-anchor="end">0</text>
<text x="83.2" y="645.3" text-anchor="end">5</text>
<text x="83.2" y="572.4" text-anchor="end">10</text>
<text x="83.2" y="499.4" text-anchor="end">15</text>
<text x="83.2" y="426.4" text-anchor="end">20</text>
<text x="83.2" y="353.4" text-anchor="end">25</text>
<text x="83.2" y="280.5" text-anchor="end">30</text>
<text x="83.2" y="207.5" text-anchor="end">35</text>
<text x="83.2" y="134.5" text-anchor="end">40</text>
<text x="83.2" y="61.6" text-anchor="end">45</text>
</g>
<text class="lb" x="343.6" y="782" textLength="336.8" lengthAdjust="spacingAndGlyphs">Years since simulation start</text>
<text class="lb" transform="translate(40,445.6) rotate(-90)" textLength="134.6" lengthAdjust="spacingAndGlyphs">Mass (MT)</text>
<text class="tt" x="315.3" y="35.3" textLength="392.3" lengthAdjust="spacingAndGlyphs">Residual Gas Saturation = 0.1</text>
<g transform="translate(649.6,50.4)">
<rect x="0" y="0" width="286" height="229.6" fill="#fff" stroke="#262626" stroke-width="1.6"/>
<rect x="7.6" y="7.4" width="77.6" height="23.4" fill="#008000" stroke="#000" stroke-width="1.5"/>
<text class="lg" x="90.2" y="28">Dissolved</text>
<rect x="7.6" y="39.4" width="77.6" height="23.4" fill="#00bf00" stroke="#000" stroke-width="1.5"/>
<text class="lg" x="90.2" y="60">Structural residual</text>
<rect x="7.6" y="71.3" width="77.6" height="23.4" fill="#00ff00" stroke="#000" stroke-width="1.5"/>
<text class="lg" x="90.2" y="91.9">Residual</text>
<rect x="7.6" y="103.2" width="77.6" height="23.4" fill="#80ff80" stroke="#000" stroke-width="1.5"/>
<text class="lg" x="90.2" y="123.8">Residual in plume</text>
<rect x="7.6" y="135.2" width="77.6" height="23.4" fill="#ffff33" stroke="#000" stroke-width="1.5"/>
<text class="lg" x="90.2" y="155.8">Structural plume</text>
<rect x="7.6" y="167.2" width="77.6" height="23.4" fill="#ffb833" stroke="#000" stroke-width="1.5"/>
<text class="lg" x="90.2" y="187.8">Free plume</text>
<rect x="7.6" y="199.1" width="77.6" height="23.4" fill="#ff3300" stroke="#000" stroke-width="1.5"/>
<text class="lg" x="90.2" y="219.7">Exited</text>
</g>
</g>
<text class="cp" y="919.5"><tspan x="1338.7" textLength="95.2" lengthAdjust="spacingAndGlyphs">(<tspan class='b'>b</tspan>)</tspan> <tspan x="1448.7" textLength="251.5" lengthAdjust="spacingAndGlyphs">Storage</tspan> <tspan x="1718.3" textLength="411.4" lengthAdjust="spacingAndGlyphs">mechanisms</tspan></text>
<text class="cp" y="1027.6"><tspan x="1266.3" textLength="374.4" lengthAdjust="spacingAndGlyphs">breakdown</tspan> <tspan x="1659.4" textLength="94.7" lengthAdjust="spacingAndGlyphs">for</tspan> <tspan x="1773.8" textLength="287.7" lengthAdjust="spacingAndGlyphs">Residual</tspan> <tspan x="2077.9" textLength="128.8" lengthAdjust="spacingAndGlyphs">Gas</tspan></text>
<text class="cp" y="1134.6"><tspan x="1470.4" textLength="348.1" lengthAdjust="spacingAndGlyphs">Saturation</tspan> <tspan x="1837.1" textLength="44.2" lengthAdjust="spacingAndGlyphs">=</tspan> <tspan x="1899.4" textLength="93.3" lengthAdjust="spacingAndGlyphs">0.1</tspan></text>
<g transform="translate(0,1184)">
<clipPath id="cpc"><rect x="96.5" y="49.1" width="839.2" height="659.8"/></clipPath>
<g clip-path="url(#cpc)">
<path d="M96.5 708.9 L143.9 50 L174.5 50 L174.5 52.3 L936.7 52.3 L937.7 52.3 L937.7 709.9 L96.5 709.9Z" fill="#ff3300"/>
<path d="M96.5 708.9 L143.9 52.4 L174.8 52.2 L191.9 78.9 L193.7 83.8 L195.5 88.8 L197.2 94.1 L199 99.5 L200.8 105.1 L202.6 110.9 L204.1 116 L205.6 121.4 L207.1 127 L208.7 132.6 L210.2 138.3 L211.7 143.9 L213.2 149.3 L214.7 154.6 L216.3 159.9 L217.8 165.1 L219.3 170.2 L220.8 175.4 L222.4 180.4 L223.9 185.5 L225.7 191.3 L227.4 197.2 L229.2 203 L231 208.7 L232.7 214.2 L234.5 219.6 L236.3 224.9 L238.1 230.3 L239.8 235.4 L241.6 240.4 L243.4 245.1 L245.2 249.5 L247 253.5 L248.8 257.1 L250.6 260.6 L252.3 264 L254.1 267.4 L255.9 270.8 L257.8 274.6 L259.6 278.6 L261.5 282.6 L263.4 286.6 L265.2 290.4 L267.1 294 L268.9 297.2 L270.8 300 L272.6 302.4 L274.5 304.5 L276.4 306.4 L278.2 308.2 L280 309.9 L281.9 311.7 L283.7 313.4 L285.5 315.2 L287.2 316.8 L289 318.4 L290.8 319.9 L292.6 321.3 L294.4 322.6 L296.1 323.8 L297.9 324.9 L299.7 326 L301.4 326.9 L303.2 327.7 L305 328.4 L306.8 329 L308.5 329.5 L310.3 330 L312.1 330.5 L313.9 330.9 L315.7 331.3 L317.4 331.7 L319.2 332.1 L321 332.4 L322.7 332.7 L324.5 333 L326.4 333.3 L328.4 333.6 L330.3 333.9 L332.3 334.2 L334.2 334.4 L336.2 334.7 L338.1 334.9 L340.1 335.2 L342 335.4 L344 335.6 L345.9 335.8 L347.8 336 L349.8 336.2 L351.7 336.3 L353.6 336.5 L355.6 336.6 L357.5 336.8 L359.5 336.9 L361.4 337.1 L363.3 337.2 L365.3 337.4 L367.2 337.5 L369 337.6 L370.7 337.8 L372.5 337.9 L374.3 338.1 L376 338.2 L377.8 338.2 L379.8 338.2 L381.8 338.2 L383.8 338.2 L385.8 338.2 L387.8 338.2 L389.8 338.2 L391.8 338.2 L393.8 338.2 L395.8 338.2 L397.8 338.2 L399.8 338.2 L401.8 338.2 L403.8 338.2 L405.8 338.2 L407.8 338.2 L409.8 338.2 L411.8 338.2 L413.8 338.2 L415.8 338.2 L417.8 338.2 L419.8 338.2 L421.8 338.2 L423.8 338.2 L425.8 338.2 L427.8 338.2 L429.8 338.2 L431.8 338.3 L433.8 338.3 L435.8 338.3 L437.8 338.3 L439.8 338.3 L441.8 338.3 L443.8 338.3 L445.8 338.3 L447.8 338.3 L449.8 338.3 L451.8 338.3 L453.8 338.3 L455.8 338.3 L457.8 338.3 L459.8 338.3 L461.8 338.3 L463.8 338.3 L465.8 338.3 L467.8 338.3 L469.8 338.3 L471.8 338.3 L473.8 338.3 L475.8 338.3 L477.8 338.3 L479.8 338.3 L481.8 338.3 L483.8 338.3 L485.8 338.3 L487.8 338.3 L489.8 338.3 L491.8 338.3 L493.8 338.3 L495.8 338.3 L497.8 338.3 L499.8 338.3 L501.8 338.3 L503.8 338.3 L505.8 338.3 L507.8 338.3 L509.8 338.3 L511.8 338.3 L513.8 338.3 L515.8 338.3 L517.8 338.3 L519.8 338.3 L521.8 338.3 L523.8 338.3 L525.8 338.3 L527.8 338.3 L529.8 338.3 L531.8 338.3 L533.8 338.3 L535.8 338.3 L537.8 338.3 L539.8 338.3 L541.8 338.3 L543.8 338.3 L545.8 338.3 L547.8 338.3 L549.8 338.3 L551.8 338.3 L553.8 338.3 L555.8 338.3 L557.8 338.3 L559.8 338.3 L561.8 338.3 L563.8 338.3 L565.8 338.3 L567.8 338.3 L569.8 338.3 L571.8 338.3 L573.8 338.3 L575.8 338.3 L577.8 338.3 L579.8 338.3 L581.8 338.3 L583.8 338.3 L585.8 338.3 L587.8 338.3 L589.8 338.3 L591.8 338.4 L593.8 338.4 L595.8 338.4 L597.8 338.4 L599.8 338.4 L601.8 338.4 L603.8 338.4 L605.8 338.4 L607.8 338.4 L609.8 338.4 L611.8 338.4 L613.8 338.4 L615.8 338.4 L617.8 338.4 L619.8 338.4 L621.8 338.4 L623.8 338.4 L625.8 338.4 L627.8 338.4 L629.8 338.4 L631.8 338.4 L633.8 338.4 L635.8 338.4 L637.8 338.4 L639.8 338.4 L641.8 338.4 L643.8 338.4 L645.8 338.4 L647.8 338.4 L649.8 338.4 L651.8 338.4 L653.8 338.4 L655.8 338.4 L657.7 338.4 L659.7 338.4 L661.7 338.4 L663.7 338.4 L665.7 338.4 L667.7 338.4 L669.7 338.4 L671.7 338.4 L673.7 338.4 L675.7 338.4 L677.7 338.4 L679.7 338.4 L681.7 338.4 L683.7 338.4 L685.7 338.4 L687.7 338.4 L689.7 338.4 L691.7 338.4 L693.7 338.4 L695.7 338.4 L697.7 338.4 L699.7 338.4 L701.7 338.4 L703.7 338.4 L705.7 338.4 L707.7 338.4 L709.7 338.4 L711.7 338.4 L713.7 338.4 L715.7 338.4 L717.7 338.4 L719.7 338.4 L721.7 338.4 L723.7 338.4 L725.7 338.4 L727.7 338.4 L729.7 338.4 L731.7 338.4 L733.7 338.4 L735.7 338.4 L737.7 338.4 L739.7 338.4 L741.7 338.4 L743.7 338.4 L745.7 338.4 L747.7 338.4 L749.7 338.4 L751.7 338.4 L753.7 338.4 L755.7 338.4 L757.7 338.4 L759.7 338.4 L761.7 338.4 L763.7 338.4 L765.7 338.4 L767.7 338.4 L769.7 338.4 L771.7 338.4 L773.7 338.4 L775.7 338.4 L777.7 338.4 L779.7 338.4 L781.7 338.4 L783.7 338.4 L785.7 338.4 L787.7 338.4 L789.7 338.4 L791.7 338.4 L793.7 338.4 L795.7 338.4 L797.7 338.4 L799.7 338.4 L801.7 338.4 L803.7 338.4 L805.7 338.4 L807.7 338.4 L809.7 338.4 L811.7 338.4 L813.7 338.4 L815.7 338.4 L817.7 338.4 L819.7 338.4 L821.7 338.4 L823.7 338.4 L825.7 338.4 L827.7 338.4 L829.7 338.4 L831.7 338.4 L833.7 338.4 L835.7 338.4 L837.7 338.4 L839.7 338.4 L841.7 338.4 L843.7 338.4 L845.7 338.4 L847.7 338.4 L849.7 338.4 L851.7 338.4 L853.7 338.4 L855.7 338.4 L857.7 338.4 L859.7 338.4 L861.7 338.4 L863.7 338.4 L865.7 338.4 L867.7 338.4 L869.7 338.4 L871.7 338.4 L873.7 338.4 L875.7 338.4 L877.7 338.4 L879.7 338.4 L881.7 338.4 L883.7 338.4 L885.7 338.4 L887.7 338.4 L889.7 338.4 L891.7 338.4 L893.7 338.4 L895.7 338.4 L897.7 338.4 L899.7 338.4 L901.7 338.4 L903.7 338.4 L905.7 338.4 L907.7 338.4 L909.7 338.4 L911.7 338.4 L913.7 338.4 L915.7 338.4 L917.7 338.4 L919.7 338.4 L921.7 338.4 L923.7 338.4 L925.7 338.4 L927.7 338.4 L929.7 338.4 L931.7 338.4 L933.7 338.4 L935.7 338.4 L936.7 338.4 L936.7 709.9 L96.5 709.9Z" fill="#ffb833"/>
<path d="M96.5 708.9 L143.9 489.5 L145.8 484 L147.8 478.2 L149.8 472.2 L151.7 466 L153.1 461.3 L154.5 456.4 L155.8 451.3 L157.2 446.4 L158.6 441.8 L160.4 436.3 L162.2 431.1 L164 425.8 L165.8 420.4 L167.5 415 L169.3 409.8 L171.1 405 L172.8 400.3 L174.6 396 L176.4 391.8 L178.2 387.8 L180 384.2 L181.8 381 L183.5 378 L185.3 375.2 L187.1 372.4 L188.8 369.7 L190.6 367.2 L192.4 364.9 L194.2 362.8 L196 360.8 L197.8 358.9 L199.5 357.1 L201.3 355.4 L203.1 353.7 L204.8 352 L206.6 350.6 L208.4 349.6 L210.1 348.7 L211.9 348 L213.7 347.3 L215.5 346.6 L217.3 346.1 L219.1 345.8 L220.8 345.5 L222.6 345.2 L224.4 345 L226.1 344.8 L227.9 344.6 L229.8 344.4 L231.8 344.3 L233.7 344.1 L235.7 344 L237.6 343.9 L239.6 343.7 L241.5 343.6 L243.5 343.5 L245.4 343.4 L247.4 343.3 L249.3 343.2 L251.2 343.1 L253.2 343 L255.1 342.9 L257 342.7 L259 342.6 L260.9 342.5 L262.9 342.4 L264.8 342.3 L266.7 342.2 L268.7 342.2 L270.6 342.1 L272.6 342 L274.5 342 L276.5 341.9 L278.4 341.9 L280.4 341.8 L282.4 341.8 L284.3 341.7 L286.3 341.7 L288.2 341.7 L290.2 341.6 L292.2 341.6 L294.1 341.5 L296.1 341.5 L298 341.4 L300 341.4 L302 341.4 L304 341.3 L306 341.3 L308 341.2 L310 341.1 L312 341.1 L314 341 L316 341 L318 340.9 L319.9 340.8 L321.9 340.8 L323.9 340.7 L325.9 340.7 L327.9 340.6 L329.9 340.5 L331.9 340.5 L333.9 340.4 L335.9 340.4 L337.9 340.3 L339.9 340.3 L341.9 340.2 L343.9 340.1 L345.9 340.1 L347.9 340 L349.9 340 L351.9 339.9 L353.9 339.9 L355.9 339.9 L357.9 339.8 L359.8 339.8 L361.8 339.7 L363.8 339.7 L365.8 339.7 L367.8 339.7 L369.8 339.6 L371.8 339.6 L373.8 339.6 L375.8 339.6 L377.8 339.6 L379.8 339.6 L381.8 339.6 L383.8 339.6 L385.8 339.6 L387.8 339.6 L389.8 339.6 L391.8 339.6 L393.8 339.6 L395.8 339.6 L397.8 339.6 L399.8 339.6 L401.8 339.6 L403.8 339.6 L405.8 339.6 L407.8 339.6 L409.8 339.6 L411.8 339.6 L413.8 339.6 L415.8 339.6 L417.8 339.6 L419.8 339.6 L421.8 339.6 L423.8 339.6 L425.8 339.6 L427.8 339.6 L429.8 339.6 L431.8 339.6 L433.8 339.6 L435.8 339.6 L437.8 339.5 L439.8 339.5 L441.8 339.5 L443.8 339.5 L445.8 339.5 L447.8 339.5 L449.8 339.5 L451.8 339.5 L453.8 339.5 L455.8 339.5 L457.8 339.5 L459.8 339.5 L461.8 339.5 L463.8 339.5 L465.8 339.5 L467.8 339.5 L469.8 339.5 L471.8 339.5 L473.8 339.5 L475.8 339.5 L477.8 339.5 L479.8 339.5 L481.8 339.5 L483.8 339.5 L485.8 339.5 L487.8 339.5 L489.8 339.5 L491.8 339.5 L493.8 339.5 L495.8 339.5 L497.8 339.5 L499.8 339.5 L501.8 339.5 L503.8 339.5 L505.8 339.5 L507.8 339.5 L509.8 339.5 L511.8 339.5 L513.8 339.5 L515.8 339.5 L517.8 339.5 L519.8 339.5 L521.8 339.5 L523.8 339.5 L525.8 339.5 L527.8 339.5 L529.8 339.5 L531.8 339.5 L533.8 339.5 L535.8 339.5 L537.8 339.5 L539.8 339.5 L541.8 339.5 L543.8 339.5 L545.8 339.5 L547.8 339.5 L549.8 339.5 L551.8 339.5 L553.8 339.5 L555.8 339.5 L557.8 339.5 L559.8 339.5 L561.8 339.5 L563.8 339.5 L565.8 339.5 L567.8 339.5 L569.8 339.5 L571.8 339.5 L573.8 339.5 L575.8 339.5 L577.8 339.5 L579.8 339.5 L581.8 339.5 L583.8 339.5 L585.8 339.5 L587.8 339.5 L589.8 339.5 L591.8 339.5 L593.8 339.5 L595.8 339.5 L597.8 339.5 L599.8 339.5 L601.8 339.5 L603.8 339.5 L605.8 339.5 L607.8 339.5 L609.8 339.5 L611.8 339.5 L613.8 339.4 L615.8 339.4 L617.8 339.4 L619.8 339.4 L621.8 339.4 L623.8 339.4 L625.8 339.4 L627.8 339.4 L629.8 339.4 L631.8 339.4 L633.8 339.4 L635.8 339.4 L637.8 339.4 L639.8 339.4 L641.8 339.4 L643.8 339.4 L645.8 339.4 L647.8 339.4 L649.8 339.4 L651.8 339.4 L653.8 339.4 L655.8 339.4 L657.7 339.4 L659.7 339.4 L661.7 339.4 L663.7 339.4 L665.7 339.4 L667.7 339.4 L669.7 339.4 L671.7 339.4 L673.7 339.4 L675.7 339.4 L677.7 339.4 L679.7 339.4 L681.7 339.4 L683.7 339.4 L685.7 339.4 L687.7 339.4 L689.7 339.4 L691.7 339.4 L693.7 339.4 L695.7 339.4 L697.7 339.4 L699.7 339.4 L701.7 339.4 L703.7 339.4 L705.7 339.4 L707.7 339.4 L709.7 339.4 L711.7 339.4 L713.7 339.4 L715.7 339.4 L717.7 339.4 L719.7 339.4 L721.7 339.4 L723.7 339.4 L725.7 339.4 L727.7 339.4 L729.7 339.4 L731.7 339.4 L733.7 339.4 L735.7 339.4 L737.7 339.4 L739.7 339.4 L741.7 339.4 L743.7 339.4 L745.7 339.4 L747.7 339.4 L749.7 339.4 L751.7 339.4 L753.7 339.4 L755.7 339.4 L757.7 339.4 L759.7 339.4 L761.7 339.4 L763.7 339.4 L765.7 339.4 L767.7 339.4 L769.7 339.4 L771.7 339.4 L773.7 339.4 L775.7 339.4 L777.7 339.4 L779.7 339.4 L781.7 339.4 L783.7 339.4 L785.7 339.4 L787.7 339.4 L789.7 339.4 L791.7 339.4 L793.7 339.4 L795.7 339.4 L797.7 339.4 L799.7 339.4 L801.7 339.4 L803.7 339.4 L805.7 339.4 L807.7 339.4 L809.7 339.4 L811.7 339.4 L813.7 339.4 L815.7 339.4 L817.7 339.4 L819.7 339.4 L821.7 339.4 L823.7 339.4 L825.7 339.4 L827.7 339.4 L829.7 339.4 L831.7 339.4 L833.7 339.4 L835.7 339.4 L837.7 339.4 L839.7 339.4 L841.7 339.4 L843.7 339.4 L845.7 339.4 L847.7 339.4 L849.7 339.4 L851.7 339.4 L853.7 339.4 L855.7 339.4 L857.7 339.4 L859.7 339.4 L861.7 339.4 L863.7 339.4 L865.7 339.4 L867.7 339.4 L869.7 339.4 L871.7 339.4 L873.7 339.4 L875.7 339.4 L877.7 339.4 L879.7 339.4 L881.7 339.4 L883.7 339.4 L885.7 339.4 L887.7 339.4 L889.7 339.4 L891.7 339.4 L893.7 339.4 L895.7 339.4 L897.7 339.4 L899.7 339.4 L901.7 339.4 L903.7 339.4 L905.7 339.4 L907.7 339.4 L909.7 339.4 L911.7 339.4 L913.7 339.4 L915.7 339.4 L917.7 339.4 L919.7 339.4 L921.7 339.4 L923.7 339.4 L925.7 339.4 L927.7 339.4 L929.7 339.4 L931.7 339.4 L933.7 339.4 L935.7 339.4 L936.7 339.4 L936.7 709.9 L96.5 709.9Z" fill="#80ff80"/>
<path d="M144.4 703 L145.4 696.9 L146.3 691 L147.3 685.1 L148.2 679.4 L149.2 673.8 L150.2 668.4 L151.1 663 L152.1 657.8 L153 652.8 L154 647.9 L155.3 641.4 L156.7 635.1 L158 629.1 L159.3 623.2 L160.6 617.5 L161.9 611.9 L163.3 606.4 L164.6 601 L166.1 594.9 L167.7 588.9 L169.2 583.2 L170.7 577.5 L172.2 571.8 L173.8 566.2 L175.3 560.5 L176.8 554.7 L178.3 548.8 L179.8 542.9 L181.4 537.1 L182.9 531.5 L184.4 526.1 L185.9 521 L187.7 515.5 L189.5 510.3 L191.2 505.3 L193 500.5 L194.8 495.8 L196.6 491 L198.5 485.9 L200.4 480.9 L202.3 476 L204.2 471 L206.1 466 L208 460.8 L210 455.5 L211.9 450.3 L213.7 445.6 L215.5 440.9 L217.3 436.5 L219.1 432.4 L220.8 428.5 L222.6 424.7 L224.4 421.1 L226.1 417.5 L227.9 414.1 L229.7 410.6 L231.5 407.2 L233.3 404 L235.1 401 L236.8 398.2 L238.6 395.4 L240.4 392.6 L242.1 389.9 L243.9 387.4 L245.7 385.1 L247.5 383 L249.3 381 L251.1 379 L252.8 377.1 L254.6 375.2 L256.4 373.3 L258.1 371.5 L259.9 369.8 L261.7 368.3 L263.5 366.8 L265.2 365.5 L267 364.2 L268.8 363 L270.6 361.8 L272.4 360.7 L274.1 359.7 L275.9 358.7 L277.7 357.7 L279.4 356.8 L281.2 356 L283 355.2 L284.8 354.4 L286.5 353.6 L288.3 352.9 L290.1 352.3 L291.9 351.7 L293.5 351.2 L295.1 350.8 L296.8 350.3 L298.4 349.9 L300 349.6 L301.9 349.2 L303.8 348.9 L305.7 348.5 L307.5 348.1 L309.4 347.8 L311.3 347.5 L313.2 347.2 L315.1 346.9 L317 346.6 L318.8 346.4 L320.7 346.2 L322.6 346 L324.5 345.8 L326.5 345.6 L328.5 345.5 L330.5 345.3 L332.5 345.2 L334.5 345 L336.5 344.9 L338.5 344.8 L340.5 344.7 L342.5 344.5 L344.5 344.4 L346.5 344.4 L348.5 344.3 L350.5 344.2 L352.5 344.2 L354.5 344.1 L356.5 344.1 L358.5 344.1 L360.5 344.1 L362.5 344.1 L364.5 344 L366.5 344 L368.5 344 L370.4 344 L372.4 344 L374.4 344 L376.4 344 L378.4 344 L380.4 344 L382.4 343.9 L384.4 343.9 L386.4 343.9 L388.4 343.9 L390.4 343.9 L392.4 343.9 L394.4 343.9 L396.4 343.9 L398.3 343.9 L400.3 343.9 L402.3 343.9 L404.3 343.8 L406.3 343.8 L408.3 343.8 L410.3 343.8 L412.3 343.8 L414.3 343.8 L416.3 343.8 L418.3 343.8 L420.3 343.8 L422.3 343.8 L424.2 343.8 L426.2 343.8 L428.2 343.8 L430.2 343.8 L432.2 343.8 L434.2 343.8 L436.2 343.8 L438.2 343.7 L440.2 343.7 L442.2 343.7 L444.2 343.7 L446.2 343.7 L448.2 343.7 L450.1 343.7 L452.1 343.7 L454.1 343.7 L456.1 343.7 L458.1 343.7 L460.1 343.7 L462.1 343.7 L464.1 343.7 L466.1 343.7 L468.1 343.7 L470.1 343.7 L472.1 343.7 L474.1 343.7 L476.1 343.7 L478 343.7 L480 343.7 L482 343.7 L484 343.7 L486 343.7 L488 343.7 L490 343.7 L492 343.7 L493.9 343.7 L495.9 343.7 L497.9 343.7 L499.8 343.7 L501.8 343.7 L503.7 343.7 L505.7 343.7 L507.7 343.7 L509.6 343.7 L511.6 343.7 L513.6 343.7 L515.5 343.7 L517.5 343.7 L519.4 343.7 L521.4 343.7 L523.4 343.7 L525.3 343.7 L527.3 343.7 L529.3 343.7 L531.2 343.7 L533.2 343.7 L535.1 343.7 L537.1 343.7 L539.1 343.7 L541 343.7 L543 343.7 L544.9 343.6 L546.8 343.5 L548.7 343.2 L550.6 342.9 L552.4 342.6 L554.3 342.3 L556.2 342 L558.1 341.9 L560 341.8 L562 341.8 L564 341.8 L566 341.8 L568 341.8 L570 341.8 L572 341.8 L574 341.8 L576 341.8 L578 341.8 L580 341.8 L582 341.8 L584 341.8 L586 341.8 L588 341.8 L590 341.8 L592 341.8 L594 341.8 L596 341.8 L598 341.8 L600 341.8 L602 341.8 L604 341.8 L606 341.8 L608 341.8 L610 341.8 L612 341.8 L614 341.8 L616 341.8 L618 341.8 L620 341.8 L622 341.8 L623.9 341.8 L625.9 341.8 L627.9 341.8 L629.9 341.8 L631.9 341.8 L633.9 341.8 L635.9 341.8 L637.9 341.8 L639.9 341.8 L641.9 341.8 L643.9 341.8 L645.9 341.8 L647.9 341.8 L649.9 341.8 L651.9 341.8 L653.9 341.8 L655.9 341.8 L657.9 341.8 L659.9 341.8 L661.9 341.8 L663.9 341.8 L665.9 341.8 L667.9 341.8 L669.9 341.8 L671.9 341.8 L673.9 341.8 L675.9 341.8 L677.9 341.8 L679.9 341.8 L681.9 341.8 L683.9 341.8 L685.9 341.8 L687.9 341.8 L689.9 341.8 L691.9 341.8 L693.9 341.8 L695.9 341.8 L697.9 341.8 L699.9 341.8 L701.9 341.8 L703.9 341.8 L705.9 341.8 L707.9 341.8 L709.9 341.8 L711.9 341.8 L713.9 341.8 L715.9 341.8 L717.9 341.8 L719.9 341.8 L721.9 341.8 L723.9 341.8 L725.9 341.8 L727.9 341.8 L729.9 341.8 L731.9 341.8 L733.9 341.8 L735.9 341.8 L737.9 341.8 L739.9 341.8 L741.9 341.8 L743.9 341.8 L745.9 341.8 L747.9 341.8 L749.8 341.8 L751.8 341.8 L753.8 341.8 L755.8 341.8 L757.8 341.8 L759.8 341.8 L761.8 341.8 L763.8 341.8 L765.8 341.8 L767.8 341.8 L769.8 341.8 L771.8 341.8 L773.8 341.8 L775.8 341.8 L777.8 341.8 L779.8 341.8 L781.8 341.8 L783.8 341.8 L785.8 341.8 L787.8 341.8 L789.8 341.8 L791.8 341.8 L793.8 341.8 L795.8 341.8 L797.8 341.8 L799.8 341.8 L801.8 341.8 L803.8 341.8 L805.8 341.8 L807.8 341.8 L809.8 341.8 L811.8 341.8 L813.8 341.8 L815.8 341.8 L817.8 341.8 L819.8 341.8 L821.8 341.8 L823.8 341.8 L825.8 341.8 L827.8 341.8 L829.8 341.8 L831.8 341.8 L833.8 341.8 L835.8 341.8 L837.8 341.8 L839.8 341.8 L841.8 341.8 L843.8 341.8 L845.8 341.8 L847.8 341.8 L849.8 341.8 L851.8 341.8 L853.8 341.8 L855.8 341.8 L857.8 341.8 L859.8 341.8 L861.8 341.8 L863.8 341.8 L865.8 341.8 L867.8 341.8 L869.8 341.8 L871.8 341.8 L873.7 341.8 L875.7 341.8 L877.7 341.8 L879.7 341.8 L881.7 341.8 L883.7 341.8 L885.7 341.8 L887.7 341.8 L889.7 341.8 L891.7 341.8 L893.7 341.8 L895.7 341.8 L897.7 341.8 L899.7 341.8 L901.7 341.8 L903.7 341.8 L905.7 341.8 L907.7 341.8 L909.7 341.8 L911.7 341.8 L913.7 341.8 L915.7 341.8 L917.7 341.8 L919.7 341.8 L921.7 341.8 L923.7 341.8 L925.7 341.8 L927.7 341.8 L929.7 341.8 L931.7 341.8 L933.7 341.8 L935.7 341.8 L936.7 341.8 L936.7 709.9 L144.4 709.9Z" fill="#00ff00"/>
<path d="M96.5 708.9 L144.4 702.3 L146.3 701.4 L148.3 700.6 L150.2 699.8 L152.1 698.9 L154.1 698.1 L156 697.4 L157.9 696.6 L159.9 695.9 L161.8 695.1 L163.7 694.4 L165.6 693.7 L167.6 693.1 L169.5 692.4 L171.4 691.8 L173.4 691.2 L175.3 690.6 L177.2 690 L179.2 689.5 L181.1 689 L183 688.5 L185 688 L186.9 687.5 L188.9 687 L190.8 686.6 L192.7 686.1 L194.7 685.7 L196.6 685.2 L198.5 684.7 L200.5 684.3 L202.4 683.8 L204.3 683.4 L206.3 682.9 L208.2 682.5 L210.2 682.1 L212.1 681.7 L214 681.3 L216 680.9 L217.9 680.5 L219.8 680.1 L221.8 679.8 L223.7 679.4 L225.7 679.1 L227.6 678.7 L229.5 678.4 L231.5 678 L233.4 677.7 L235.4 677.4 L237.3 677.1 L239.2 676.7 L241.2 676.4 L243.1 676.1 L245.1 675.8 L247 675.5 L249 675.2 L250.9 674.9 L252.8 674.6 L254.8 674.3 L256.7 674.1 L258.7 673.8 L260.6 673.5 L262.5 673.2 L264.5 673 L266.4 672.7 L268.3 672.4 L270.3 672.2 L272.2 671.9 L274.2 671.7 L276.1 671.4 L278 671.2 L280 670.9 L281.9 670.7 L283.8 670.5 L285.8 670.2 L287.7 670 L289.6 669.8 L291.6 669.5 L293.5 669.3 L295.5 669.1 L297.4 668.9 L299.3 668.6 L301.3 668.4 L303.2 668.2 L305.1 668 L307.1 667.8 L309 667.6 L311 667.4 L312.9 667.2 L314.8 667 L316.8 666.8 L318.7 666.6 L320.7 666.4 L322.6 666.2 L324.5 666 L326.5 665.8 L328.4 665.6 L330.4 665.4 L332.3 665.2 L334.3 665 L336.2 664.8 L338.1 664.7 L340.1 664.5 L342 664.3 L344 664.1 L345.9 663.9 L347.8 663.7 L349.8 663.5 L351.7 663.3 L353.6 663.2 L355.6 663 L357.5 662.8 L359.4 662.6 L361.4 662.4 L363.3 662.2 L365.2 662.1 L367.2 661.9 L369.1 661.7 L371 661.5 L372.9 661.3 L374.9 661.1 L376.8 661 L378.7 660.8 L380.7 660.6 L382.6 660.4 L384.5 660.2 L386.5 660 L388.4 659.9 L390.3 659.7 L392.3 659.5 L394.2 659.3 L396.1 659.1 L398.1 658.9 L400 658.7 L401.9 658.5 L403.9 658.3 L405.9 658.1 L407.8 657.9 L409.8 657.7 L411.7 657.5 L413.6 657.2 L415.6 657 L417.6 656.8 L419.5 656.6 L421.4 656.4 L423.4 656.2 L425.3 655.9 L427.3 655.7 L429.2 655.5 L431.2 655.3 L433.2 655.1 L435.1 654.9 L437.1 654.7 L439 654.5 L441 654.2 L443 654 L444.9 653.8 L446.9 653.6 L448.8 653.4 L450.8 653.2 L452.8 653 L454.7 652.8 L456.7 652.5 L458.6 652.3 L460.6 652.1 L462.6 651.9 L464.5 651.7 L466.5 651.5 L468.4 651.3 L470.4 651.1 L472.4 650.9 L474.3 650.6 L476.3 650.4 L478.2 650.2 L480.2 650 L482.2 649.8 L484.1 649.6 L486.1 649.4 L488 649.2 L490 649 L492 648.8 L494 648.6 L496 648.4 L497.9 648.2 L499.9 648 L501.9 647.8 L503.9 647.6 L505.9 647.4 L507.9 647.2 L509.9 647 L511.8 646.8 L513.8 646.5 L515.8 646.3 L517.8 646.1 L519.8 645.9 L521.8 645.7 L523.8 645.5 L525.7 645.3 L527.7 645.1 L529.7 644.9 L531.7 644.7 L533.7 644.5 L535.7 644.3 L537.7 644.1 L539.6 643.9 L541.6 643.7 L543.6 643.5 L545.6 643.3 L547.6 643.1 L549.6 642.9 L551.6 642.7 L553.5 642.5 L555.5 642.3 L557.5 642.1 L559.5 641.9 L561.5 641.7 L563.5 641.5 L565.5 641.3 L567.4 641.1 L569.4 640.9 L571.4 640.8 L573.4 640.6 L575.4 640.4 L577.4 640.2 L579.4 640 L581.3 639.8 L583.3 639.6 L585.3 639.4 L587.3 639.2 L589.3 639 L591.3 638.8 L593.2 638.6 L595.2 638.4 L597.2 638.2 L599.2 638 L601.2 637.8 L603.2 637.6 L605.2 637.4 L607.1 637.2 L609.1 637 L611.1 636.8 L613.1 636.7 L615.1 636.5 L617.1 636.3 L619.1 636.1 L621 635.9 L623 635.7 L625 635.5 L627 635.3 L629 635.1 L631 634.9 L633 634.7 L634.9 634.5 L636.9 634.3 L638.9 634.2 L640.9 634 L642.9 633.8 L644.9 633.6 L646.9 633.4 L648.8 633.2 L650.8 633 L652.8 632.8 L654.8 632.6 L656.8 632.4 L658.8 632.2 L660.8 632.1 L662.7 631.9 L664.7 631.7 L666.7 631.5 L668.7 631.3 L670.7 631.1 L672.7 630.9 L674.7 630.7 L676.7 630.5 L678.7 630.4 L680.7 630.2 L682.6 630 L684.6 629.8 L686.6 629.6 L688.6 629.4 L690.6 629.2 L692.6 629 L694.6 628.8 L696.6 628.7 L698.6 628.5 L700.6 628.3 L702.6 628.1 L704.6 627.9 L706.6 627.7 L708.6 627.5 L710.5 627.3 L712.5 627.1 L714.5 627 L716.5 626.8 L718.5 626.6 L720.5 626.4 L722.5 626.2 L724.5 626 L726.5 625.8 L728.5 625.6 L730.5 625.5 L732.5 625.3 L734.5 625.1 L736.4 624.9 L738.4 624.7 L740.4 624.5 L742.4 624.3 L744.4 624.2 L746.4 624 L748.4 623.8 L750.4 623.6 L752.4 623.4 L754.4 623.2 L756.4 623 L758.4 622.9 L760.4 622.7 L762.3 622.5 L764.3 622.3 L766.3 622.1 L768.3 621.9 L770.3 621.8 L772.3 621.6 L774.3 621.4 L776.3 621.2 L778.3 621 L780.3 620.8 L782.3 620.6 L784.3 620.5 L786.3 620.3 L788.3 620.1 L790.2 619.9 L792.2 619.7 L794.2 619.5 L796.2 619.4 L798.2 619.2 L800.2 619 L802.2 618.8 L804.2 618.6 L806.2 618.5 L808.2 618.3 L810.2 618.1 L812.2 617.9 L814.2 617.7 L816.1 617.5 L818.1 617.4 L820.1 617.2 L822.1 617 L824.1 616.8 L826.1 616.6 L828.1 616.5 L830.1 616.3 L832.1 616.1 L834.1 615.9 L836.1 615.7 L838.1 615.6 L840.1 615.4 L842.1 615.2 L844 615 L846 614.8 L848 614.7 L850 614.5 L852 614.3 L854 614.1 L856 613.9 L858 613.8 L860 613.6 L862 613.4 L864 613.2 L866 613 L868 612.9 L869.9 612.7 L871.9 612.5 L873.9 612.3 L875.9 612.2 L877.9 612 L879.9 611.8 L881.9 611.6 L883.9 611.4 L885.9 611.3 L887.9 611.1 L889.9 610.9 L891.9 610.7 L893.9 610.6 L895.8 610.4 L897.8 610.2 L899.8 610 L901.8 609.9 L903.8 609.7 L905.8 609.5 L907.8 609.3 L909.8 609.2 L911.8 609 L913.8 608.8 L915.8 608.6 L917.8 608.5 L919.8 608.3 L921.8 608.1 L923.7 607.9 L925.7 607.8 L927.7 607.6 L929.7 607.4 L931.7 607.2 L933.7 607.1 L935.7 606.9 L936.7 606.9 L936.7 709.9 L96.5 709.9Z" fill="#008000"/>
<path d="M96.5 708.9 L143.9 50" fill="none" stroke="#000" stroke-width="1.2" stroke-linejoin="round"/>
<path d="M174.5 52.3 L936.7 52.3" fill="none" stroke="#000" stroke-width="1.5" stroke-linejoin="round"/>
<path d="M96.5 708.9 L143.9 52.4 L174.8 52.2 L191.9 78.9 L193.7 83.8 L195.5 88.8 L197.2 94.1 L199 99.5 L200.8 105.1 L202.6 110.9 L204.1 116 L205.6 121.4 L207.1 127 L208.7 132.6 L210.2 138.3 L211.7 143.9 L213.2 149.3 L214.7 154.6 L216.3 159.9 L217.8 165.1 L219.3 170.2 L220.8 175.4 L222.4 180.4 L223.9 185.5 L225.7 191.3 L227.4 197.2 L229.2 203 L231 208.7 L232.7 214.2 L234.5 219.6 L236.3 224.9 L238.1 230.3 L239.8 235.4 L241.6 240.4 L243.4 245.1 L245.2 249.5 L247 253.5 L248.8 257.1 L250.6 260.6 L252.3 264 L254.1 267.4 L255.9 270.8 L257.8 274.6 L259.6 278.6 L261.5 282.6 L263.4 286.6 L265.2 290.4 L267.1 294 L268.9 297.2 L270.8 300 L272.6 302.4 L274.5 304.5 L276.4 306.4 L278.2 308.2 L280 309.9 L281.9 311.7 L283.7 313.4 L285.5 315.2 L287.2 316.8 L289 318.4 L290.8 319.9 L292.6 321.3 L294.4 322.6 L296.1 323.8 L297.9 324.9 L299.7 326 L301.4 326.9 L303.2 327.7 L305 328.4 L306.8 329 L308.5 329.5 L310.3 330 L312.1 330.5 L313.9 330.9 L315.7 331.3 L317.4 331.7 L319.2 332.1 L321 332.4 L322.7 332.7 L324.5 333 L326.4 333.3 L328.4 333.6 L330.3 333.9 L332.3 334.2 L334.2 334.4 L336.2 334.7 L338.1 334.9 L340.1 335.2 L342 335.4 L344 335.6 L345.9 335.8 L347.8 336 L349.8 336.2 L351.7 336.3 L353.6 336.5 L355.6 336.6 L357.5 336.8 L359.5 336.9 L361.4 337.1 L363.3 337.2 L365.3 337.4 L367.2 337.5 L369 337.6 L370.7 337.8 L372.5 337.9 L374.3 338.1 L376 338.2 L377.8 338.2 L379.8 338.2 L381.8 338.2 L383.8 338.2 L385.8 338.2 L387.8 338.2 L389.8 338.2 L391.8 338.2 L393.8 338.2 L395.8 338.2 L397.8 338.2 L399.8 338.2 L401.8 338.2 L403.8 338.2 L405.8 338.2 L407.8 338.2 L409.8 338.2 L411.8 338.2 L413.8 338.2 L415.8 338.2 L417.8 338.2 L419.8 338.2 L421.8 338.2 L423.8 338.2 L425.8 338.2 L427.8 338.2 L429.8 338.2 L431.8 338.3 L433.8 338.3 L435.8 338.3 L437.8 338.3 L439.8 338.3 L441.8 338.3 L443.8 338.3 L445.8 338.3 L447.8 338.3 L449.8 338.3 L451.8 338.3 L453.8 338.3 L455.8 338.3 L457.8 338.3 L459.8 338.3 L461.8 338.3 L463.8 338.3 L465.8 338.3 L467.8 338.3 L469.8 338.3 L471.8 338.3 L473.8 338.3 L475.8 338.3 L477.8 338.3 L479.8 338.3 L481.8 338.3 L483.8 338.3 L485.8 338.3 L487.8 338.3 L489.8 338.3 L491.8 338.3 L493.8 338.3 L495.8 338.3 L497.8 338.3 L499.8 338.3 L501.8 338.3 L503.8 338.3 L505.8 338.3 L507.8 338.3 L509.8 338.3 L511.8 338.3 L513.8 338.3 L515.8 338.3 L517.8 338.3 L519.8 338.3 L521.8 338.3 L523.8 338.3 L525.8 338.3 L527.8 338.3 L529.8 338.3 L531.8 338.3 L533.8 338.3 L535.8 338.3 L537.8 338.3 L539.8 338.3 L541.8 338.3 L543.8 338.3 L545.8 338.3 L547.8 338.3 L549.8 338.3 L551.8 338.3 L553.8 338.3 L555.8 338.3 L557.8 338.3 L559.8 338.3 L561.8 338.3 L563.8 338.3 L565.8 338.3 L567.8 338.3 L569.8 338.3 L571.8 338.3 L573.8 338.3 L575.8 338.3 L577.8 338.3 L579.8 338.3 L581.8 338.3 L583.8 338.3 L585.8 338.3 L587.8 338.3 L589.8 338.3 L591.8 338.4 L593.8 338.4 L595.8 338.4 L597.8 338.4 L599.8 338.4 L601.8 338.4 L603.8 338.4 L605.8 338.4 L607.8 338.4 L609.8 338.4 L611.8 338.4 L613.8 338.4 L615.8 338.4 L617.8 338.4 L619.8 338.4 L621.8 338.4 L623.8 338.4 L625.8 338.4 L627.8 338.4 L629.8 338.4 L631.8 338.4 L633.8 338.4 L635.8 338.4 L637.8 338.4 L639.8 338.4 L641.8 338.4 L643.8 338.4 L645.8 338.4 L647.8 338.4 L649.8 338.4 L651.8 338.4 L653.8 338.4 L655.8 338.4 L657.7 338.4 L659.7 338.4 L661.7 338.4 L663.7 338.4 L665.7 338.4 L667.7 338.4 L669.7 338.4 L671.7 338.4 L673.7 338.4 L675.7 338.4 L677.7 338.4 L679.7 338.4 L681.7 338.4 L683.7 338.4 L685.7 338.4 L687.7 338.4 L689.7 338.4 L691.7 338.4 L693.7 338.4 L695.7 338.4 L697.7 338.4 L699.7 338.4 L701.7 338.4 L703.7 338.4 L705.7 338.4 L707.7 338.4 L709.7 338.4 L711.7 338.4 L713.7 338.4 L715.7 338.4 L717.7 338.4 L719.7 338.4 L721.7 338.4 L723.7 338.4 L725.7 338.4 L727.7 338.4 L729.7 338.4 L731.7 338.4 L733.7 338.4 L735.7 338.4 L737.7 338.4 L739.7 338.4 L741.7 338.4 L743.7 338.4 L745.7 338.4 L747.7 338.4 L749.7 338.4 L751.7 338.4 L753.7 338.4 L755.7 338.4 L757.7 338.4 L759.7 338.4 L761.7 338.4 L763.7 338.4 L765.7 338.4 L767.7 338.4 L769.7 338.4 L771.7 338.4 L773.7 338.4 L775.7 338.4 L777.7 338.4 L779.7 338.4 L781.7 338.4 L783.7 338.4 L785.7 338.4 L787.7 338.4 L789.7 338.4 L791.7 338.4 L793.7 338.4 L795.7 338.4 L797.7 338.4 L799.7 338.4 L801.7 338.4 L803.7 338.4 L805.7 338.4 L807.7 338.4 L809.7 338.4 L811.7 338.4 L813.7 338.4 L815.7 338.4 L817.7 338.4 L819.7 338.4 L821.7 338.4 L823.7 338.4 L825.7 338.4 L827.7 338.4 L829.7 338.4 L831.7 338.4 L833.7 338.4 L835.7 338.4 L837.7 338.4 L839.7 338.4 L841.7 338.4 L843.7 338.4 L845.7 338.4 L847.7 338.4 L849.7 338.4 L851.7 338.4 L853.7 338.4 L855.7 338.4 L857.7 338.4 L859.7 338.4 L861.7 338.4 L863.7 338.4 L865.7 338.4 L867.7 338.4 L869.7 338.4 L871.7 338.4 L873.7 338.4 L875.7 338.4 L877.7 338.4 L879.7 338.4 L881.7 338.4 L883.7 338.4 L885.7 338.4 L887.7 338.4 L889.7 338.4 L891.7 338.4 L893.7 338.4 L895.7 338.4 L897.7 338.4 L899.7 338.4 L901.7 338.4 L903.7 338.4 L905.7 338.4 L907.7 338.4 L909.7 338.4 L911.7 338.4 L913.7 338.4 L915.7 338.4 L917.7 338.4 L919.7 338.4 L921.7 338.4 L923.7 338.4 L925.7 338.4 L927.7 338.4 L929.7 338.4 L931.7 338.4 L933.7 338.4 L935.7 338.4" fill="none" stroke="#000" stroke-width="1.1" stroke-linejoin="round"/>
<path d="M144.4 703 L145.4 696.9 L146.3 691 L147.3 685.1 L148.2 679.4 L149.2 673.8 L150.2 668.4 L151.1 663 L152.1 657.8 L153 652.8 L154 647.9 L155.3 641.4 L156.7 635.1 L158 629.1 L159.3 623.2 L160.6 617.5 L161.9 611.9 L163.3 606.4 L164.6 601 L166.1 594.9 L167.7 588.9 L169.2 583.2 L170.7 577.5 L172.2 571.8 L173.8 566.2 L175.3 560.5 L176.8 554.7 L178.3 548.8 L179.8 542.9 L181.4 537.1 L182.9 531.5 L184.4 526.1 L185.9 521 L187.7 515.5 L189.5 510.3 L191.2 505.3 L193 500.5 L194.8 495.8 L196.6 491 L198.5 485.9 L200.4 480.9 L202.3 476 L204.2 471 L206.1 466 L208 460.8 L210 455.5 L211.9 450.3 L213.7 445.6 L215.5 440.9 L217.3 436.5 L219.1 432.4 L220.8 428.5 L222.6 424.7 L224.4 421.1 L226.1 417.5 L227.9 414.1 L229.7 410.6 L231.5 407.2 L233.3 404 L235.1 401 L236.8 398.2 L238.6 395.4 L240.4 392.6 L242.1 389.9 L243.9 387.4 L245.7 385.1 L247.5 383 L249.3 381 L251.1 379 L252.8 377.1 L254.6 375.2 L256.4 373.3 L258.1 371.5 L259.9 369.8 L261.7 368.3 L263.5 366.8 L265.2 365.5 L267 364.2 L268.8 363 L270.6 361.8 L272.4 360.7 L274.1 359.7 L275.9 358.7 L277.7 357.7 L279.4 356.8 L281.2 356 L283 355.2 L284.8 354.4 L286.5 353.6 L288.3 352.9 L290.1 352.3 L291.9 351.7 L293.5 351.2 L295.1 350.8 L296.8 350.3 L298.4 349.9 L300 349.6 L301.9 349.2 L303.8 348.9 L305.7 348.5 L307.5 348.1 L309.4 347.8 L311.3 347.5 L313.2 347.2 L315.1 346.9 L317 346.6 L318.8 346.4 L320.7 346.2 L322.6 346 L324.5 345.8 L326.5 345.6 L328.5 345.5 L330.5 345.3 L332.5 345.2 L334.5 345 L336.5 344.9 L338.5 344.8 L340.5 344.7 L342.5 344.5 L344.5 344.4 L346.5 344.4 L348.5 344.3 L350.5 344.2 L352.5 344.2 L354.5 344.1 L356.5 344.1 L358.5 344.1 L360.5 344.1 L362.5 344.1 L364.5 344 L366.5 344 L368.5 344 L370.4 344 L372.4 344 L374.4 344 L376.4 344 L378.4 344 L380.4 344 L382.4 343.9 L384.4 343.9 L386.4 343.9 L388.4 343.9 L390.4 343.9 L392.4 343.9 L394.4 343.9 L396.4 343.9 L398.3 343.9 L400.3 343.9 L402.3 343.9 L404.3 343.8 L406.3 343.8 L408.3 343.8 L410.3 343.8 L412.3 343.8 L414.3 343.8 L416.3 343.8 L418.3 343.8 L420.3 343.8 L422.3 343.8 L424.2 343.8 L426.2 343.8 L428.2 343.8 L430.2 343.8 L432.2 343.8 L434.2 343.8 L436.2 343.8 L438.2 343.7 L440.2 343.7 L442.2 343.7 L444.2 343.7 L446.2 343.7 L448.2 343.7 L450.1 343.7 L452.1 343.7 L454.1 343.7 L456.1 343.7 L458.1 343.7 L460.1 343.7 L462.1 343.7 L464.1 343.7 L466.1 343.7 L468.1 343.7 L470.1 343.7 L472.1 343.7 L474.1 343.7 L476.1 343.7 L478 343.7 L480 343.7 L482 343.7 L484 343.7 L486 343.7 L488 343.7 L490 343.7 L492 343.7 L493.9 343.7 L495.9 343.7 L497.9 343.7 L499.8 343.7 L501.8 343.7 L503.7 343.7 L505.7 343.7 L507.7 343.7 L509.6 343.7 L511.6 343.7 L513.6 343.7 L515.5 343.7 L517.5 343.7 L519.4 343.7 L521.4 343.7 L523.4 343.7 L525.3 343.7 L527.3 343.7 L529.3 343.7 L531.2 343.7 L533.2 343.7 L535.1 343.7 L537.1 343.7 L539.1 343.7 L541 343.7 L543 343.7 L544.9 343.6 L546.8 343.5 L548.7 343.2 L550.6 342.9 L552.4 342.6 L554.3 342.3 L556.2 342 L558.1 341.9 L560 341.8 L562 341.8 L564 341.8 L566 341.8 L568 341.8 L570 341.8 L572 341.8 L574 341.8 L576 341.8 L578 341.8 L580 341.8 L582 341.8 L584 341.8 L586 341.8 L588 341.8 L590 341.8 L592 341.8 L594 341.8 L596 341.8 L598 341.8 L600 341.8 L602 341.8 L604 341.8 L606 341.8 L608 341.8 L610 341.8 L612 341.8 L614 341.8 L616 341.8 L618 341.8 L620 341.8 L622 341.8 L623.9 341.8 L625.9 341.8 L627.9 341.8 L629.9 341.8 L631.9 341.8 L633.9 341.8 L635.9 341.8 L637.9 341.8 L639.9 341.8 L641.9 341.8 L643.9 341.8 L645.9 341.8 L647.9 341.8 L649.9 341.8 L651.9 341.8 L653.9 341.8 L655.9 341.8 L657.9 341.8 L659.9 341.8 L661.9 341.8 L663.9 341.8 L665.9 341.8 L667.9 341.8 L669.9 341.8 L671.9 341.8 L673.9 341.8 L675.9 341.8 L677.9 341.8 L679.9 341.8 L681.9 341.8 L683.9 341.8 L685.9 341.8 L687.9 341.8 L689.9 341.8 L691.9 341.8 L693.9 341.8 L695.9 341.8 L697.9 341.8 L699.9 341.8 L701.9 341.8 L703.9 341.8 L705.9 341.8 L707.9 341.8 L709.9 341.8 L711.9 341.8 L713.9 341.8 L715.9 341.8 L717.9 341.8 L719.9 341.8 L721.9 341.8 L723.9 341.8 L725.9 341.8 L727.9 341.8 L729.9 341.8 L731.9 341.8 L733.9 341.8 L735.9 341.8 L737.9 341.8 L739.9 341.8 L741.9 341.8 L743.9 341.8 L745.9 341.8 L747.9 341.8 L749.8 341.8 L751.8 341.8 L753.8 341.8 L755.8 341.8 L757.8 341.8 L759.8 341.8 L761.8 341.8 L763.8 341.8 L765.8 341.8 L767.8 341.8 L769.8 341.8 L771.8 341.8 L773.8 341.8 L775.8 341.8 L777.8 341.8 L779.8 341.8 L781.8 341.8 L783.8 341.8 L785.8 341.8 L787.8 341.8 L789.8 341.8 L791.8 341.8 L793.8 341.8 L795.8 341.8 L797.8 341.8 L799.8 341.8 L801.8 341.8 L803.8 341.8 L805.8 341.8 L807.8 341.8 L809.8 341.8 L811.8 341.8 L813.8 341.8 L815.8 341.8 L817.8 341.8 L819.8 341.8 L821.8 341.8 L823.8 341.8 L825.8 341.8 L827.8 341.8 L829.8 341.8 L831.8 341.8 L833.8 341.8 L835.8 341.8 L837.8 341.8 L839.8 341.8 L841.8 341.8 L843.8 341.8 L845.8 341.8 L847.8 341.8 L849.8 341.8 L851.8 341.8 L853.8 341.8 L855.8 341.8 L857.8 341.8 L859.8 341.8 L861.8 341.8 L863.8 341.8 L865.8 341.8 L867.8 341.8 L869.8 341.8 L871.8 341.8 L873.7 341.8 L875.7 341.8 L877.7 341.8 L879.7 341.8 L881.7 341.8 L883.7 341.8 L885.7 341.8 L887.7 341.8 L889.7 341.8 L891.7 341.8 L893.7 341.8 L895.7 341.8 L897.7 341.8 L899.7 341.8 L901.7 341.8 L903.7 341.8 L905.7 341.8 L907.7 341.8 L909.7 341.8 L911.7 341.8 L913.7 341.8 L915.7 341.8 L917.7 341.8 L919.7 341.8 L921.7 341.8 L923.7 341.8 L925.7 341.8 L927.7 341.8 L929.7 341.8 L931.7 341.8 L933.7 341.8 L935.7 341.8" fill="none" stroke="#000" stroke-width="1.1" stroke-linejoin="round"/>
<path d="M96.5 708.9 L143.9 489.5 L145.8 484 L147.8 478.2 L149.8 472.2 L151.7 466 L153.1 461.3 L154.5 456.4 L155.8 451.3 L157.2 446.4 L158.6 441.8 L160.4 436.3 L162.2 431.1 L164 425.8 L165.8 420.4 L167.5 415 L169.3 409.8 L171.1 405 L172.8 400.3 L174.6 396 L176.4 391.8 L178.2 387.8 L180 384.2 L181.8 381 L183.5 378 L185.3 375.2 L187.1 372.4 L188.8 369.7 L190.6 367.2 L192.4 364.9 L194.2 362.8 L196 360.8 L197.8 358.9 L199.5 357.1 L201.3 355.4 L203.1 353.7 L204.8 352 L206.6 350.6 L208.4 349.6 L210.1 348.7 L211.9 348 L213.7 347.3 L215.5 346.6 L217.3 346.1 L219.1 345.8 L220.8 345.5 L222.6 345.2 L224.4 345 L226.1 344.8 L227.9 344.6 L229.8 344.4 L231.8 344.3 L233.7 344.1 L235.7 344 L237.6 343.9 L239.6 343.7 L241.5 343.6 L243.5 343.5 L245.4 343.4 L247.4 343.3 L249.3 343.2 L251.2 343.1 L253.2 343 L255.1 342.9 L257 342.7 L259 342.6 L260.9 342.5 L262.9 342.4 L264.8 342.3 L266.7 342.2 L268.7 342.2 L270.6 342.1 L272.6 342 L274.5 342 L276.5 341.9 L278.4 341.9 L280.4 341.8 L282.4 341.8 L284.3 341.7 L286.3 341.7 L288.2 341.7 L290.2 341.6 L292.2 341.6 L294.1 341.5 L296.1 341.5 L298 341.4 L300 341.4 L302 341.4 L304 341.3 L306 341.3 L308 341.2 L310 341.1 L312 341.1 L314 341 L316 341 L318 340.9 L319.9 340.8 L321.9 340.8 L323.9 340.7 L325.9 340.7 L327.9 340.6 L329.9 340.5 L331.9 340.5 L333.9 340.4 L335.9 340.4 L337.9 340.3 L339.9 340.3 L341.9 340.2 L343.9 340.1 L345.9 340.1 L347.9 340 L349.9 340 L351.9 339.9 L353.9 339.9 L355.9 339.9 L357.9 339.8 L359.8 339.8 L361.8 339.7 L363.8 339.7 L365.8 339.7 L367.8 339.7 L369.8 339.6 L371.8 339.6 L373.8 339.6 L375.8 339.6 L377.8 339.6 L379.8 339.6 L381.8 339.6 L383.8 339.6 L385.8 339.6 L387.8 339.6 L389.8 339.6 L391.8 339.6 L393.8 339.6 L395.8 339.6 L397.8 339.6 L399.8 339.6 L401.8 339.6 L403.8 339.6 L405.8 339.6 L407.8 339.6 L409.8 339.6 L411.8 339.6 L413.8 339.6 L415.8 339.6 L417.8 339.6 L419.8 339.6 L421.8 339.6 L423.8 339.6 L425.8 339.6 L427.8 339.6 L429.8 339.6 L431.8 339.6 L433.8 339.6 L435.8 339.6 L437.8 339.5 L439.8 339.5 L441.8 339.5 L443.8 339.5 L445.8 339.5 L447.8 339.5 L449.8 339.5 L451.8 339.5 L453.8 339.5 L455.8 339.5 L457.8 339.5 L459.8 339.5 L461.8 339.5 L463.8 339.5 L465.8 339.5 L467.8 339.5 L469.8 339.5 L471.8 339.5 L473.8 339.5 L475.8 339.5 L477.8 339.5 L479.8 339.5 L481.8 339.5 L483.8 339.5 L485.8 339.5 L487.8 339.5 L489.8 339.5 L491.8 339.5 L493.8 339.5 L495.8 339.5 L497.8 339.5 L499.8 339.5 L501.8 339.5 L503.8 339.5 L505.8 339.5 L507.8 339.5 L509.8 339.5 L511.8 339.5 L513.8 339.5 L515.8 339.5 L517.8 339.5 L519.8 339.5 L521.8 339.5 L523.8 339.5 L525.8 339.5 L527.8 339.5 L529.8 339.5 L531.8 339.5 L533.8 339.5 L535.8 339.5 L537.8 339.5 L539.8 339.5 L541.8 339.5 L543.8 339.5 L545.8 339.5 L547.8 339.5 L549.8 339.5 L551.8 339.5 L553.8 339.5 L555.8 339.5 L557.8 339.5 L559.8 339.5 L561.8 339.5 L563.8 339.5 L565.8 339.5 L567.8 339.5 L569.8 339.5 L571.8 339.5 L573.8 339.5 L575.8 339.5 L577.8 339.5 L579.8 339.5 L581.8 339.5 L583.8 339.5 L585.8 339.5 L587.8 339.5 L589.8 339.5 L591.8 339.5 L593.8 339.5 L595.8 339.5 L597.8 339.5 L599.8 339.5 L601.8 339.5 L603.8 339.5 L605.8 339.5 L607.8 339.5 L609.8 339.5 L611.8 339.5 L613.8 339.4 L615.8 339.4 L617.8 339.4 L619.8 339.4 L621.8 339.4 L623.8 339.4 L625.8 339.4 L627.8 339.4 L629.8 339.4 L631.8 339.4 L633.8 339.4 L635.8 339.4 L637.8 339.4 L639.8 339.4 L641.8 339.4 L643.8 339.4 L645.8 339.4 L647.8 339.4 L649.8 339.4 L651.8 339.4 L653.8 339.4 L655.8 339.4 L657.7 339.4 L659.7 339.4 L661.7 339.4 L663.7 339.4 L665.7 339.4 L667.7 339.4 L669.7 339.4 L671.7 339.4 L673.7 339.4 L675.7 339.4 L677.7 339.4 L679.7 339.4 L681.7 339.4 L683.7 339.4 L685.7 339.4 L687.7 339.4 L689.7 339.4 L691.7 339.4 L693.7 339.4 L695.7 339.4 L697.7 339.4 L699.7 339.4 L701.7 339.4 L703.7 339.4 L705.7 339.4 L707.7 339.4 L709.7 339.4 L711.7 339.4 L713.7 339.4 L715.7 339.4 L717.7 339.4 L719.7 339.4 L721.7 339.4 L723.7 339.4 L725.7 339.4 L727.7 339.4 L729.7 339.4 L731.7 339.4 L733.7 339.4 L735.7 339.4 L737.7 339.4 L739.7 339.4 L741.7 339.4 L743.7 339.4 L745.7 339.4 L747.7 339.4 L749.7 339.4 L751.7 339.4 L753.7 339.4 L755.7 339.4 L757.7 339.4 L759.7 339.4 L761.7 339.4 L763.7 339.4 L765.7 339.4 L767.7 339.4 L769.7 339.4 L771.7 339.4 L773.7 339.4 L775.7 339.4 L777.7 339.4 L779.7 339.4 L781.7 339.4 L783.7 339.4 L785.7 339.4 L787.7 339.4 L789.7 339.4 L791.7 339.4 L793.7 339.4 L795.7 339.4 L797.7 339.4 L799.7 339.4 L801.7 339.4 L803.7 339.4 L805.7 339.4 L807.7 339.4 L809.7 339.4 L811.7 339.4 L813.7 339.4 L815.7 339.4 L817.7 339.4 L819.7 339.4 L821.7 339.4 L823.7 339.4 L825.7 339.4 L827.7 339.4 L829.7 339.4 L831.7 339.4 L833.7 339.4 L835.7 339.4 L837.7 339.4 L839.7 339.4 L841.7 339.4 L843.7 339.4 L845.7 339.4 L847.7 339.4 L849.7 339.4 L851.7 339.4 L853.7 339.4 L855.7 339.4 L857.7 339.4 L859.7 339.4 L861.7 339.4 L863.7 339.4 L865.7 339.4 L867.7 339.4 L869.7 339.4 L871.7 339.4 L873.7 339.4 L875.7 339.4 L877.7 339.4 L879.7 339.4 L881.7 339.4 L883.7 339.4 L885.7 339.4 L887.7 339.4 L889.7 339.4 L891.7 339.4 L893.7 339.4 L895.7 339.4 L897.7 339.4 L899.7 339.4 L901.7 339.4 L903.7 339.4 L905.7 339.4 L907.7 339.4 L909.7 339.4 L911.7 339.4 L913.7 339.4 L915.7 339.4 L917.7 339.4 L919.7 339.4 L921.7 339.4 L923.7 339.4 L925.7 339.4 L927.7 339.4 L929.7 339.4 L931.7 339.4 L933.7 339.4 L935.7 339.4" fill="none" stroke="#000" stroke-width="2.0" stroke-linejoin="round"/>
<path d="M96.5 708.9 L144.4 702.3 L146.3 701.4 L148.3 700.6 L150.2 699.8 L152.1 698.9 L154.1 698.1 L156 697.4 L157.9 696.6 L159.9 695.9 L161.8 695.1 L163.7 694.4 L165.6 693.7 L167.6 693.1 L169.5 692.4 L171.4 691.8 L173.4 691.2 L175.3 690.6 L177.2 690 L179.2 689.5 L181.1 689 L183 688.5 L185 688 L186.9 687.5 L188.9 687 L190.8 686.6 L192.7 686.1 L194.7 685.7 L196.6 685.2 L198.5 684.7 L200.5 684.3 L202.4 683.8 L204.3 683.4 L206.3 682.9 L208.2 682.5 L210.2 682.1 L212.1 681.7 L214 681.3 L216 680.9 L217.9 680.5 L219.8 680.1 L221.8 679.8 L223.7 679.4 L225.7 679.1 L227.6 678.7 L229.5 678.4 L231.5 678 L233.4 677.7 L235.4 677.4 L237.3 677.1 L239.2 676.7 L241.2 676.4 L243.1 676.1 L245.1 675.8 L247 675.5 L249 675.2 L250.9 674.9 L252.8 674.6 L254.8 674.3 L256.7 674.1 L258.7 673.8 L260.6 673.5 L262.5 673.2 L264.5 673 L266.4 672.7 L268.3 672.4 L270.3 672.2 L272.2 671.9 L274.2 671.7 L276.1 671.4 L278 671.2 L280 670.9 L281.9 670.7 L283.8 670.5 L285.8 670.2 L287.7 670 L289.6 669.8 L291.6 669.5 L293.5 669.3 L295.5 669.1 L297.4 668.9 L299.3 668.6 L301.3 668.4 L303.2 668.2 L305.1 668 L307.1 667.8 L309 667.6 L311 667.4 L312.9 667.2 L314.8 667 L316.8 666.8 L318.7 666.6 L320.7 666.4 L322.6 666.2 L324.5 666 L326.5 665.8 L328.4 665.6 L330.4 665.4 L332.3 665.2 L334.3 665 L336.2 664.8 L338.1 664.7 L340.1 664.5 L342 664.3 L344 664.1 L345.9 663.9 L347.8 663.7 L349.8 663.5 L351.7 663.3 L353.6 663.2 L355.6 663 L357.5 662.8 L359.4 662.6 L361.4 662.4 L363.3 662.2 L365.2 662.1 L367.2 661.9 L369.1 661.7 L371 661.5 L372.9 661.3 L374.9 661.1 L376.8 661 L378.7 660.8 L380.7 660.6 L382.6 660.4 L384.5 660.2 L386.5 660 L388.4 659.9 L390.3 659.7 L392.3 659.5 L394.2 659.3 L396.1 659.1 L398.1 658.9 L400 658.7 L401.9 658.5 L403.9 658.3 L405.9 658.1 L407.8 657.9 L409.8 657.7 L411.7 657.5 L413.6 657.2 L415.6 657 L417.6 656.8 L419.5 656.6 L421.4 656.4 L423.4 656.2 L425.3 655.9 L427.3 655.7 L429.2 655.5 L431.2 655.3 L433.2 655.1 L435.1 654.9 L437.1 654.7 L439 654.5 L441 654.2 L443 654 L444.9 653.8 L446.9 653.6 L448.8 653.4 L450.8 653.2 L452.8 653 L454.7 652.8 L456.7 652.5 L458.6 652.3 L460.6 652.1 L462.6 651.9 L464.5 651.7 L466.5 651.5 L468.4 651.3 L470.4 651.1 L472.4 650.9 L474.3 650.6 L476.3 650.4 L478.2 650.2 L480.2 650 L482.2 649.8 L484.1 649.6 L486.1 649.4 L488 649.2 L490 649 L492 648.8 L494 648.6 L496 648.4 L497.9 648.2 L499.9 648 L501.9 647.8 L503.9 647.6 L505.9 647.4 L507.9 647.2 L509.9 647 L511.8 646.8 L513.8 646.5 L515.8 646.3 L517.8 646.1 L519.8 645.9 L521.8 645.7 L523.8 645.5 L525.7 645.3 L527.7 645.1 L529.7 644.9 L531.7 644.7 L533.7 644.5 L535.7 644.3 L537.7 644.1 L539.6 643.9 L541.6 643.7 L543.6 643.5 L545.6 643.3 L547.6 643.1 L549.6 642.9 L551.6 642.7 L553.5 642.5 L555.5 642.3 L557.5 642.1 L559.5 641.9 L561.5 641.7 L563.5 641.5 L565.5 641.3 L567.4 641.1 L569.4 640.9 L571.4 640.8 L573.4 640.6 L575.4 640.4 L577.4 640.2 L579.4 640 L581.3 639.8 L583.3 639.6 L585.3 639.4 L587.3 639.2 L589.3 639 L591.3 638.8 L593.2 638.6 L595.2 638.4 L597.2 638.2 L599.2 638 L601.2 637.8 L603.2 637.6 L605.2 637.4 L607.1 637.2 L609.1 637 L611.1 636.8 L613.1 636.7 L615.1 636.5 L617.1 636.3 L619.1 636.1 L621 635.9 L623 635.7 L625 635.5 L627 635.3 L629 635.1 L631 634.9 L633 634.7 L634.9 634.5 L636.9 634.3 L638.9 634.2 L640.9 634 L642.9 633.8 L644.9 633.6 L646.9 633.4 L648.8 633.2 L650.8 633 L652.8 632.8 L654.8 632.6 L656.8 632.4 L658.8 632.2 L660.8 632.1 L662.7 631.9 L664.7 631.7 L666.7 631.5 L668.7 631.3 L670.7 631.1 L672.7 630.9 L674.7 630.7 L676.7 630.5 L678.7 630.4 L680.7 630.2 L682.6 630 L684.6 629.8 L686.6 629.6 L688.6 629.4 L690.6 629.2 L692.6 629 L694.6 628.8 L696.6 628.7 L698.6 628.5 L700.6 628.3 L702.6 628.1 L704.6 627.9 L706.6 627.7 L708.6 627.5 L710.5 627.3 L712.5 627.1 L714.5 627 L716.5 626.8 L718.5 626.6 L720.5 626.4 L722.5 626.2 L724.5 626 L726.5 625.8 L728.5 625.6 L730.5 625.5 L732.5 625.3 L734.5 625.1 L736.4 624.9 L738.4 624.7 L740.4 624.5 L742.4 624.3 L744.4 624.2 L746.4 624 L748.4 623.8 L750.4 623.6 L752.4 623.4 L754.4 623.2 L756.4 623 L758.4 622.9 L760.4 622.7 L762.3 622.5 L764.3 622.3 L766.3 622.1 L768.3 621.9 L770.3 621.8 L772.3 621.6 L774.3 621.4 L776.3 621.2 L778.3 621 L780.3 620.8 L782.3 620.6 L784.3 620.5 L786.3 620.3 L788.3 620.1 L790.2 619.9 L792.2 619.7 L794.2 619.5 L796.2 619.4 L798.2 619.2 L800.2 619 L802.2 618.8 L804.2 618.6 L806.2 618.5 L808.2 618.3 L810.2 618.1 L812.2 617.9 L814.2 617.7 L816.1 617.5 L818.1 617.4 L820.1 617.2 L822.1 617 L824.1 616.8 L826.1 616.6 L828.1 616.5 L830.1 616.3 L832.1 616.1 L834.1 615.9 L836.1 615.7 L838.1 615.6 L840.1 615.4 L842.1 615.2 L844 615 L846 614.8 L848 614.7 L850 614.5 L852 614.3 L854 614.1 L856 613.9 L858 613.8 L860 613.6 L862 613.4 L864 613.2 L866 613 L868 612.9 L869.9 612.7 L871.9 612.5 L873.9 612.3 L875.9 612.2 L877.9 612 L879.9 611.8 L881.9 611.6 L883.9 611.4 L885.9 611.3 L887.9 611.1 L889.9 610.9 L891.9 610.7 L893.9 610.6 L895.8 610.4 L897.8 610.2 L899.8 610 L901.8 609.9 L903.8 609.7 L905.8 609.5 L907.8 609.3 L909.8 609.2 L911.8 609 L913.8 608.8 L915.8 608.6 L917.8 608.5 L919.8 608.3 L921.8 608.1 L923.7 607.9 L925.7 607.8 L927.7 607.6 L929.7 607.4 L931.7 607.2 L933.7 607.1 L935.7 606.9" fill="none" stroke="#000" stroke-width="1.9" stroke-linejoin="round"/>
<rect x="300" y="340.8" width="62" height="2.8" fill="#000"/>
<rect x="362" y="340.6" width="15" height="3.3" fill="#000"/>
<rect x="377" y="337.8" width="85" height="6.2" fill="#000"/>
<rect x="462" y="339" width="81" height="5" fill="#000"/>
<rect x="543" y="339" width="393.7" height="3.2" fill="#000"/>
</g>
<path d="M96.5 708.9 v-6.8 M96.5 49.1 v6.8 M175.7 708.9 v-6.8 M175.7 49.1 v6.8 M254.8 708.9 v-6.8 M254.8 49.1 v6.8 M334 708.9 v-6.8 M334 49.1 v6.8 M413.2 708.9 v-6.8 M413.2 49.1 v6.8 M492.3 708.9 v-6.8 M492.3 49.1 v6.8 M571.5 708.9 v-6.8 M571.5 49.1 v6.8 M650.7 708.9 v-6.8 M650.7 49.1 v6.8 M729.9 708.9 v-6.8 M729.9 49.1 v6.8 M809 708.9 v-6.8 M809 49.1 v6.8 M888.2 708.9 v-6.8 M888.2 49.1 v6.8 M96.5 708.9 h6.8 M935.7 708.9 h-6.8 M96.5 635.9 h6.8 M935.7 635.9 h-6.8 M96.5 563 h6.8 M935.7 563 h-6.8 M96.5 490 h6.8 M935.7 490 h-6.8 M96.5 417 h6.8 M935.7 417 h-6.8 M96.5 344 h6.8 M935.7 344 h-6.8 M96.5 271.1 h6.8 M935.7 271.1 h-6.8 M96.5 198.1 h6.8 M935.7 198.1 h-6.8 M96.5 125.1 h6.8 M935.7 125.1 h-6.8 M96.5 52.2 h6.8 M935.7 52.2 h-6.8" stroke="#262626" stroke-width="1.6" fill="none"/>
<rect x="96.5" y="49.1" width="839.2" height="659.8" fill="none" stroke="#262626" stroke-width="1.9"/>
<g class="tk">
<text x="95.3" y="744.9" text-anchor="middle">0</text>
<text x="174.5" y="744.9" text-anchor="middle">50</text>
<text x="253.6" y="744.9" text-anchor="middle">100</text>
<text x="332.8" y="744.9" text-anchor="middle">150</text>
<text x="412" y="744.9" text-anchor="middle">200</text>
<text x="491.1" y="744.9" text-anchor="middle">250</text>
<text x="570.3" y="744.9" text-anchor="middle">300</text>
<text x="649.5" y="744.9" text-anchor="middle">350</text>
<text x="728.7" y="744.9" text-anchor="middle">400</text>
<text x="807.8" y="744.9" text-anchor="middle">450</text>
<text x="887" y="744.9" text-anchor="middle">500</text>
<text x="83.2" y="718.3" text-anchor="end">0</text>
<text x="83.2" y="645.3" text-anchor="end">5</text>
<text x="83.2" y="572.4" text-anchor="end">10</text>
<text x="83.2" y="499.4" text-anchor="end">15</text>
<text x="83.2" y="426.4" text-anchor="end">20</text>
<text x="83.2" y="353.4" text-anchor="end">25</text>
<text x="83.2" y="280.5" text-anchor="end">30</text>
<text x="83.2" y="207.5" text-anchor="end">35</text>
<text x="83.2" y="134.5" text-anchor="end">40</text>
<text x="83.2" y="61.6" text-anchor="end">45</text>
</g>
<text class="lb" x="343.6" y="782" textLength="336.8" lengthAdjust="spacingAndGlyphs">Years since simulation start</text>
<text class="lb" transform="translate(40,445.6) rotate(-90)" textLength="134.6" lengthAdjust="spacingAndGlyphs">Mass (MT)</text>
<text class="tt" x="315.3" y="35.3" textLength="394.5" lengthAdjust="spacingAndGlyphs">Residual Gas Saturation = 0.3</text>
<g transform="translate(645,54)">
<rect x="0" y="0" width="286" height="229.6" fill="#fff" stroke="#262626" stroke-width="1.6"/>
<rect x="7.6" y="7.4" width="77.6" height="23.4" fill="#008000" stroke="#000" stroke-width="1.5"/>
<text class="lg" x="90.2" y="28">Dissolved</text>
<rect x="7.6" y="39.4" width="77.6" height="23.4" fill="#00bf00" stroke="#000" stroke-width="1.5"/>
<text class="lg" x="90.2" y="60">Structural residual</text>
<rect x="7.6" y="71.3" width="77.6" height="23.4" fill="#00ff00" stroke="#000" stroke-width="1.5"/>
<text class="lg" x="90.2" y="91.9">Residual</text>
<rect x="7.6" y="103.2" width="77.6" height="23.4" fill="#80ff80" stroke="#000" stroke-width="1.5"/>
<text class="lg" x="90.2" y="123.8">Residual in plume</text>
<rect x="7.6" y="135.2" width="77.6" height="23.4" fill="#ffff33" stroke="#000" stroke-width="1.5"/>
<text class="lg" x="90.2" y="155.8">Structural plume</text>
<rect x="7.6" y="167.2" width="77.6" height="23.4" fill="#ffb833" stroke="#000" stroke-width="1.5"/>
<text class="lg" x="90.2" y="187.8">Free plume</text>
<rect x="7.6" y="199.1" width="77.6" height="23.4" fill="#ff3300" stroke="#000" stroke-width="1.5"/>
<text class="lg" x="90.2" y="219.7">Exited</text>
</g>
</g>
<text class="cp" y="2103.5"><tspan x="104.8" textLength="81.5" lengthAdjust="spacingAndGlyphs">(<tspan class='b'>c</tspan>)</tspan> <tspan x="202.7" textLength="251.5" lengthAdjust="spacingAndGlyphs">Storage</tspan> <tspan x="473" textLength="410.4" lengthAdjust="spacingAndGlyphs">mechanisms</tspan></text>
<text class="cp" y="2211.6"><tspan x="26.3" textLength="374.4" lengthAdjust="spacingAndGlyphs">breakdown</tspan> <tspan x="419.4" textLength="94.7" lengthAdjust="spacingAndGlyphs">for</tspan> <tspan x="533.8" textLength="287.7" lengthAdjust="spacingAndGlyphs">Residual</tspan> <tspan x="837.9" textLength="128.8" lengthAdjust="spacingAndGlyphs">Gas</tspan></text>
<text class="cp" y="2318.6"><tspan x="231.2" textLength="347.5" lengthAdjust="spacingAndGlyphs">Saturation</tspan> <tspan x="596.2" textLength="45" lengthAdjust="spacingAndGlyphs">=</tspan> <tspan x="659" textLength="92.4" lengthAdjust="spacingAndGlyphs">0.3</tspan></text>
<g transform="translate(1240,1184)">
<clipPath id="cpd"><rect x="96.5" y="49.1" width="839.2" height="659.8"/></clipPath>
<g clip-path="url(#cpd)">
<path d="M96.5 708.9 L145 48.1 L936.7 48.1 L937.7 48.1 L937.7 709.9 L96.5 709.9Z" fill="#ff3300"/>
<path d="M96.5 708.9 L145 49.1 L185.5 49.6 L196.2 55.4 L197.9 56.9 L199.6 58.4 L201.3 59.9 L203 61.4 L204.7 62.9 L206.4 64.4 L208.1 65.9 L209.8 67.5 L211.5 68.9 L213.2 70.4 L215 71.9 L216.8 73.4 L218.6 74.9 L220.3 76.4 L222.1 77.7 L223.9 78.9 L225.7 79.9 L227.4 80.9 L229.2 81.8 L231 82.6 L232.7 83.4 L234.5 84.2 L236.3 84.9 L238.1 85.6 L239.8 86.3 L241.6 86.9 L243.4 87.5 L245.2 88.1 L247 88.6 L248.8 89.2 L250.6 89.7 L252.3 90.1 L254.1 90.6 L255.9 91 L257.8 91.4 L259.8 91.8 L261.7 92.3 L263.6 92.6 L265.6 93 L267.5 93.4 L269.5 93.7 L271.4 94.1 L273.3 94.4 L275.3 94.6 L277.2 94.9 L279.1 95.1 L281.1 95.4 L283 95.6 L284.9 95.8 L286.9 96 L288.8 96.2 L290.8 96.3 L292.7 96.5 L294.6 96.7 L296.6 96.8 L298.5 97 L300.4 97.2 L302.4 97.3 L304.3 97.5 L306.2 97.7 L308.2 97.9 L310.1 98 L312.1 98.2 L314 98.3 L315.9 98.4 L317.9 98.5 L319.8 98.5 L321.8 98.5 L323.7 98.5 L325.7 98.6 L327.6 98.6 L329.6 98.6 L331.5 98.6 L333.5 98.6 L335.4 98.7 L337.4 98.7 L339.4 98.7 L341.3 98.7 L343.3 98.7 L345.2 98.7 L347.2 98.7 L349.1 98.8 L351.1 98.8 L353.1 98.8 L355 98.8 L357 98.8 L358.9 98.8 L360.9 98.8 L362.8 98.8 L364.8 98.8 L366.7 98.8 L368.7 98.8 L370.7 98.9 L372.6 98.9 L374.6 98.9 L376.5 98.9 L378.5 98.9 L380.4 98.9 L382.4 98.9 L384.4 98.9 L386.3 98.9 L388.3 98.9 L390.2 98.9 L392.2 98.9 L394.1 98.9 L396.1 98.9 L398 98.9 L400 98.9 L402 98.9 L404 98.9 L406 98.9 L408 98.9 L410 98.9 L412 98.9 L414 98.9 L416 98.9 L418 98.9 L420 98.9 L422 98.9 L424 98.9 L426 98.9 L428 98.9 L430 98.9 L432 98.9 L434 98.9 L436 98.9 L438 98.9 L440 98.9 L442 98.9 L444 98.9 L446 98.9 L448 98.9 L450 98.9 L452 98.9 L454 98.9 L456 98.9 L458 98.9 L460 98.9 L462 98.9 L464 98.9 L466 98.9 L468 98.9 L470 98.9 L472 98.9 L474 98.9 L476 98.9 L478 98.9 L480 98.9 L482 98.9 L484 98.9 L486 98.9 L488 98.9 L489.9 98.9 L491.9 98.9 L493.9 98.9 L495.9 98.9 L497.9 98.9 L499.9 98.9 L501.9 98.9 L503.9 98.9 L505.9 98.9 L507.9 98.9 L509.9 98.9 L511.9 98.9 L513.9 98.9 L515.9 98.9 L517.9 98.9 L519.9 98.9 L521.9 98.9 L523.9 98.9 L525.9 98.9 L527.9 98.9 L529.9 98.9 L531.9 98.9 L533.9 98.9 L535.9 98.9 L537.9 98.9 L539.9 98.9 L541.9 98.9 L543.9 98.9 L545.9 98.9 L547.9 98.9 L549.9 98.9 L551.9 98.9 L553.9 98.9 L555.9 98.9 L557.9 98.9 L559.9 98.9 L561.9 98.9 L563.9 98.9 L565.9 98.9 L567.9 98.9 L569.9 98.9 L571.9 98.9 L573.9 98.9 L575.9 98.9 L577.9 98.9 L579.9 98.9 L581.9 98.9 L583.9 98.9 L585.9 98.9 L587.9 98.9 L589.9 98.9 L591.9 98.9 L593.9 98.9 L595.9 98.9 L597.9 98.9 L599.9 98.9 L601.9 98.9 L603.9 98.9 L605.9 98.9 L607.9 98.9 L609.9 98.9 L611.9 98.9 L613.9 98.9 L615.9 98.9 L617.9 98.9 L619.9 98.9 L621.9 98.9 L623.9 98.9 L625.9 98.9 L627.9 98.9 L629.9 98.9 L631.9 98.9 L633.9 98.9 L635.9 98.9 L637.9 98.9 L639.9 98.9 L641.9 98.9 L643.9 98.9 L645.9 98.9 L647.9 98.9 L649.9 98.9 L651.9 98.9 L653.9 98.9 L655.9 98.9 L657.9 98.9 L659.9 98.9 L661.9 98.9 L663.9 98.9 L665.9 98.9 L667.9 98.9 L669.8 98.9 L671.8 98.9 L673.8 98.9 L675.8 98.9 L677.8 98.9 L679.8 98.9 L681.8 98.9 L683.8 98.9 L685.8 98.9 L687.8 98.9 L689.8 98.9 L691.8 98.9 L693.8 98.9 L695.8 98.9 L697.8 98.9 L699.8 98.9 L701.8 98.9 L703.8 98.9 L705.8 98.9 L707.8 98.9 L709.8 98.9 L711.8 98.9 L713.8 98.9 L715.8 98.9 L717.8 98.9 L719.8 98.9 L721.8 98.9 L723.8 98.9 L725.8 98.9 L727.8 98.9 L729.8 98.9 L731.8 98.9 L733.8 98.9 L735.8 98.9 L737.8 98.8 L739.8 98.8 L741.8 98.8 L743.8 98.8 L745.8 98.8 L747.8 98.8 L749.8 98.8 L751.8 98.8 L753.8 98.8 L755.8 98.8 L757.8 98.8 L759.8 98.8 L761.8 98.8 L763.8 98.8 L765.8 98.8 L767.8 98.8 L769.8 98.8 L771.8 98.8 L773.8 98.8 L775.8 98.8 L777.8 98.8 L779.8 98.8 L781.8 98.8 L783.8 98.8 L785.8 98.8 L787.8 98.8 L789.8 98.8 L791.8 98.8 L793.8 98.8 L795.8 98.8 L797.8 98.8 L799.8 98.8 L801.8 98.8 L803.8 98.8 L805.8 98.8 L807.8 98.8 L809.8 98.8 L811.8 98.8 L813.8 98.8 L815.8 98.8 L817.8 98.8 L819.8 98.8 L821.8 98.8 L823.8 98.8 L825.8 98.8 L827.8 98.8 L829.8 98.8 L831.8 98.8 L833.8 98.8 L835.8 98.8 L837.8 98.8 L839.8 98.8 L841.8 98.8 L843.8 98.8 L845.8 98.8 L847.7 98.8 L849.7 98.8 L851.7 98.8 L853.7 98.8 L855.7 98.8 L857.7 98.8 L859.7 98.8 L861.7 98.8 L863.7 98.8 L865.7 98.8 L867.7 98.8 L869.7 98.8 L871.7 98.8 L873.7 98.8 L875.7 98.8 L877.7 98.8 L879.7 98.8 L881.7 98.8 L883.7 98.8 L885.7 98.8 L887.7 98.7 L889.7 98.7 L891.7 98.7 L893.7 98.7 L895.7 98.7 L897.7 98.7 L899.7 98.7 L901.7 98.7 L903.7 98.7 L905.7 98.7 L907.7 98.7 L909.7 98.7 L911.7 98.7 L913.7 98.7 L915.7 98.7 L917.7 98.7 L919.7 98.7 L921.7 98.7 L923.7 98.7 L925.7 98.7 L927.7 98.7 L929.7 98.7 L931.7 98.7 L933.7 98.7 L935.7 98.7 L936.7 98.7 L936.7 709.9 L96.5 709.9Z" fill="#ffb833"/>
<path d="M96.5 708.9 L144.5 276.6 L145.4 270.9 L146.4 265.3 L147.3 259.8 L148.2 254.4 L149.2 249.1 L150.1 244 L151.1 238.9 L152 234 L153.1 228.3 L154.3 223 L155.4 217.9 L156.6 212.8 L157.7 207.6 L158.9 202.1 L160 196 L160.8 190.9 L161.6 186 L162.7 181.5 L163.7 177.7 L164.8 173.9 L166.1 168.5 L167.4 163 L168.8 157.5 L170.1 152.6 L171.9 146.8 L173.6 141.5 L175.4 136.6 L177.2 132 L179 127.7 L180.8 123.8 L182.6 120.2 L184.3 116.9 L186.1 114.2 L187.9 112.1 L189.6 110.4 L191.4 108.9 L193.2 107.5 L195 106.3 L196.8 105.2 L198.6 104.2 L200.3 103.2 L202.1 102.5 L203.9 101.9 L205.6 101.4 L207.4 101.2 L209.3 101.1 L211.2 101.1 L213.2 101 L215.1 101 L217 101 L218.9 101 L220.8 100.9 L222.8 100.9 L224.7 100.9 L226.6 100.9 L228.6 100.9 L230.6 100.9 L232.6 100.9 L234.5 100.9 L236.5 100.8 L238.5 100.8 L240.5 100.8 L242.5 100.8 L244.5 100.8 L246.5 100.8 L248.5 100.8 L250.4 100.8 L252.4 100.8 L254.4 100.8 L256.4 100.7 L258.4 100.7 L260.4 100.7 L262.4 100.7 L264.4 100.7 L266.3 100.7 L268.3 100.7 L270.3 100.7 L272.3 100.7 L274.3 100.7 L276.3 100.7 L278.3 100.7 L280.3 100.7 L282.2 100.7 L284.2 100.7 L286.2 100.6 L288.2 100.6 L290.2 100.6 L292.2 100.6 L294.2 100.6 L296.2 100.6 L298.1 100.6 L300.1 100.6 L302.1 100.6 L304.1 100.6 L306.1 100.6 L308.1 100.6 L310.1 100.6 L312.1 100.6 L314 100.6 L316 100.6 L318 100.6 L320 100.6 L322 100.6 L324 100.6 L326 100.6 L328 100.6 L330 100.6 L332 100.6 L334 100.6 L336 100.6 L338 100.6 L340 100.6 L342 100.6 L344 100.6 L346 100.6 L348 100.6 L350 100.6 L352 100.6 L354 100.6 L356 100.6 L358 100.6 L360 100.6 L362 100.6 L364 100.6 L366 100.6 L368 100.6 L370 100.6 L372 100.6 L374 100.6 L376 100.6 L378 100.6 L380 100.6 L382 100.6 L384 100.6 L386 100.6 L388 100.6 L390 100.6 L392 100.6 L394 100.6 L396 100.6 L398 100.6 L400 100.6 L402 100.6 L404 100.6 L406 100.6 L408 100.6 L410 100.6 L412 100.6 L414 100.6 L416 100.6 L418 100.6 L420 100.6 L422 100.6 L423.9 100.6 L425.9 100.6 L427.9 100.6 L429.9 100.6 L431.9 100.6 L433.9 100.6 L435.9 100.6 L437.9 100.6 L439.9 100.6 L441.9 100.6 L443.9 100.6 L445.9 100.6 L447.9 100.6 L449.9 100.6 L451.9 100.6 L453.9 100.6 L455.9 100.6 L457.9 100.6 L459.9 100.6 L461.9 100.6 L463.9 100.6 L465.9 100.6 L467.9 100.6 L469.9 100.6 L471.9 100.6 L473.9 100.5 L475.9 100.5 L477.9 100.5 L479.9 100.5 L481.9 100.5 L483.9 100.5 L485.9 100.5 L487.9 100.5 L489.9 100.5 L491.9 100.5 L493.9 100.5 L495.9 100.5 L497.9 100.5 L499.9 100.5 L501.9 100.5 L503.9 100.5 L505.9 100.5 L507.9 100.5 L509.9 100.5 L511.9 100.5 L513.9 100.5 L515.9 100.5 L517.9 100.5 L519.9 100.5 L521.9 100.5 L523.9 100.5 L525.9 100.5 L527.9 100.5 L529.9 100.5 L531.9 100.5 L533.9 100.5 L535.9 100.5 L537.9 100.5 L539.9 100.5 L541.9 100.5 L543.9 100.5 L545.9 100.5 L547.9 100.5 L549.9 100.5 L551.9 100.5 L553.9 100.5 L555.9 100.5 L557.9 100.5 L559.9 100.5 L561.9 100.5 L563.9 100.5 L565.9 100.5 L567.9 100.5 L569.9 100.5 L571.9 100.5 L573.9 100.5 L575.9 100.5 L577.9 100.5 L579.9 100.5 L581.9 100.5 L583.9 100.5 L585.9 100.5 L587.9 100.5 L589.9 100.5 L591.9 100.5 L593.9 100.5 L595.9 100.5 L597.9 100.5 L599.9 100.5 L601.9 100.5 L603.9 100.5 L605.9 100.5 L607.9 100.5 L609.9 100.5 L611.9 100.5 L613.9 100.5 L615.9 100.5 L617.9 100.5 L619.9 100.5 L621.9 100.5 L623.9 100.5 L625.9 100.5 L627.9 100.5 L629.8 100.5 L631.8 100.5 L633.8 100.5 L635.8 100.5 L637.8 100.5 L639.8 100.5 L641.8 100.5 L643.8 100.5 L645.8 100.5 L647.8 100.5 L649.8 100.5 L651.8 100.5 L653.8 100.5 L655.8 100.5 L657.8 100.5 L659.8 100.5 L661.8 100.5 L663.8 100.5 L665.8 100.5 L667.8 100.5 L669.8 100.5 L671.8 100.5 L673.8 100.5 L675.8 100.5 L677.8 100.5 L679.8 100.5 L681.8 100.5 L683.8 100.5 L685.8 100.5 L687.8 100.5 L689.8 100.5 L691.8 100.5 L693.8 100.5 L695.8 100.5 L697.8 100.5 L699.8 100.5 L701.8 100.5 L703.8 100.5 L705.8 100.5 L707.8 100.5 L709.8 100.5 L711.8 100.5 L713.8 100.5 L715.8 100.5 L717.8 100.5 L719.8 100.5 L721.8 100.5 L723.8 100.5 L725.8 100.5 L727.8 100.5 L729.8 100.5 L731.8 100.5 L733.8 100.5 L735.8 100.5 L737.8 100.5 L739.8 100.5 L741.8 100.5 L743.8 100.5 L745.8 100.5 L747.8 100.5 L749.8 100.5 L751.8 100.5 L753.8 100.5 L755.8 100.5 L757.8 100.5 L759.8 100.5 L761.8 100.5 L763.8 100.5 L765.8 100.5 L767.8 100.5 L769.8 100.5 L771.8 100.5 L773.8 100.5 L775.8 100.5 L777.8 100.5 L779.8 100.5 L781.8 100.5 L783.8 100.5 L785.8 100.5 L787.8 100.5 L789.8 100.5 L791.8 100.5 L793.8 100.5 L795.8 100.5 L797.8 100.5 L799.8 100.5 L801.8 100.5 L803.8 100.5 L805.8 100.5 L807.8 100.5 L809.8 100.5 L811.8 100.5 L813.8 100.5 L815.8 100.5 L817.8 100.5 L819.8 100.5 L821.8 100.5 L823.8 100.5 L825.8 100.5 L827.8 100.5 L829.8 100.5 L831.8 100.5 L833.7 100.5 L835.7 100.5 L837.7 100.5 L839.7 100.5 L841.7 100.5 L843.7 100.5 L845.7 100.5 L847.7 100.5 L849.7 100.5 L851.7 100.5 L853.7 100.5 L855.7 100.5 L857.7 100.5 L859.7 100.5 L861.7 100.5 L863.7 100.5 L865.7 100.5 L867.7 100.5 L869.7 100.5 L871.7 100.5 L873.7 100.5 L875.7 100.5 L877.7 100.5 L879.7 100.5 L881.7 100.5 L883.7 100.5 L885.7 100.5 L887.7 100.5 L889.7 100.5 L891.7 100.5 L893.7 100.5 L895.7 100.5 L897.7 100.5 L899.7 100.5 L901.7 100.5 L903.7 100.5 L905.7 100.5 L907.7 100.5 L909.7 100.5 L911.7 100.5 L913.7 100.5 L915.7 100.5 L917.7 100.5 L919.7 100.5 L921.7 100.5 L923.7 100.5 L925.7 100.5 L927.7 100.5 L929.7 100.5 L931.7 100.5 L933.7 100.5 L935.7 100.5 L936.7 100.5 L936.7 709.9 L96.5 709.9Z" fill="#80ff80"/>
<path d="M144 703 L144.3 697 L144.6 691.2 L144.9 685.5 L145.2 680 L145.6 674.7 L145.9 669.6 L146.2 664.7 L146.5 660 L146.9 653.9 L147.4 648.6 L147.8 643.5 L148.3 638.3 L148.8 632.6 L149.2 626 L149.5 621.5 L149.7 616.4 L150 610.7 L150.2 604.8 L150.5 598.7 L150.7 592.6 L151 586.8 L151.2 581.3 L151.5 576.4 L151.9 569.9 L152.2 563.9 L152.6 558.1 L153 552.6 L153.4 547.2 L153.8 541.9 L154.1 536.5 L154.5 530.9 L154.9 525.1 L155.2 519.3 L155.6 513.4 L156 507.5 L156.4 501.7 L156.8 496 L157.1 490.5 L157.5 485.3 L157.9 479.4 L158.4 473.6 L158.8 468 L159.3 462.6 L159.7 457.3 L160.2 452.3 L160.6 447.4 L161.1 441.7 L161.7 436.4 L162.2 431.3 L162.8 426.3 L163.3 421.4 L163.9 416.3 L164.4 411 L165 405.3 L165.5 399.4 L166.1 393.4 L166.7 387.4 L167.2 381.4 L167.8 375.4 L168.3 369.6 L168.9 363.9 L169.5 358 L170.1 352.1 L170.7 346.4 L171.3 340.8 L171.9 335.3 L172.5 330 L173.2 324.3 L173.8 318.6 L174.5 313.1 L175.2 307.8 L175.8 302.7 L176.5 297.9 L177.4 292.1 L178.2 286.7 L179.1 281.6 L179.9 276.5 L180.8 271.3 L181.6 266.2 L182.5 261.1 L183.3 255.9 L184.2 250.8 L185 245.7 L185.9 239.5 L186.9 233 L187.9 227 L188.8 222.2 L190.7 215.5 L192.7 210.3 L194.6 205.2 L196.5 200.2 L198.4 195 L199.6 191 L200.9 186.7 L202.1 182.5 L203.9 176.8 L205.6 171.4 L207.4 166.5 L209.2 162.2 L211 158.3 L212.8 154.7 L214.6 151.4 L216.3 148.3 L218.1 145.7 L219.8 143.6 L221.5 141.7 L223.2 139.9 L224.9 138.2 L226.6 136.6 L228.4 134.9 L230.2 133.2 L231.9 131.5 L233.7 129.9 L235.5 128.4 L237.3 127 L239.1 125.7 L240.8 124.4 L242.6 123.3 L244.4 122.1 L246.1 121.1 L247.9 120.1 L249.7 119.2 L251.5 118.3 L253.2 117.5 L255 116.7 L256.8 116 L258.6 115.3 L260.4 114.6 L262.2 114 L264 113.3 L265.7 112.7 L267.5 112.1 L269.3 111.6 L271.1 111.1 L272.8 110.6 L274.6 110.1 L276.4 109.7 L278.1 109.3 L279.9 108.9 L281.7 108.5 L283.5 108.2 L285.2 107.9 L287 107.6 L288.8 107.3 L290.6 107 L292.4 106.8 L294.1 106.5 L295.9 106.3 L297.7 106.1 L299.4 105.9 L301.2 105.7 L303.1 105.5 L305 105.3 L306.8 105.2 L308.7 105 L310.6 104.8 L312.5 104.7 L314.4 104.5 L316.2 104.4 L318.1 104.2 L320 104.1 L321.9 104 L323.9 103.8 L325.8 103.7 L327.7 103.5 L329.6 103.4 L331.6 103.3 L333.5 103.1 L335.4 103 L337.3 102.9 L339.3 102.9 L341.2 102.8 L343.2 102.7 L345.1 102.7 L347.1 102.6 L349 102.6 L351 102.5 L353 102.5 L354.9 102.5 L356.9 102.4 L358.8 102.4 L360.8 102.3 L362.8 102.3 L364.7 102.3 L366.7 102.2 L368.6 102.2 L370.6 102.2 L372.6 102.1 L374.5 102.1 L376.5 102.1 L378.4 102 L380.4 102 L382.4 102 L384.3 102 L386.3 102 L388.2 101.9 L390.2 101.9 L392.2 101.9 L394.1 101.9 L396.1 101.9 L398 101.9 L400 101.9 L402 101.9 L404 101.9 L406 101.9 L408 101.9 L410 101.9 L412 101.9 L414 101.9 L416 101.9 L418 101.9 L420 101.9 L422 101.9 L424 101.9 L426 101.9 L428 101.9 L430 101.9 L432 101.9 L434 101.9 L436 101.9 L438 101.9 L440 101.9 L442 101.9 L444 101.9 L446 101.9 L448 101.9 L450 101.9 L452 101.9 L454 101.9 L456 101.9 L458 101.9 L460 101.9 L462 101.9 L464 101.9 L466 101.9 L468 101.9 L470 101.9 L472 101.9 L474 101.9 L476 101.9 L478 101.9 L480 101.9 L482 101.9 L484 101.9 L486 101.9 L488 101.9 L489.9 101.9 L491.9 101.9 L493.9 101.9 L495.9 101.9 L497.9 101.9 L499.9 101.9 L501.9 101.9 L503.9 101.9 L505.9 101.9 L507.9 101.9 L509.9 101.9 L511.9 101.9 L513.9 101.9 L515.9 101.9 L517.9 101.9 L519.9 101.9 L521.9 101.9 L523.9 101.9 L525.9 101.9 L527.9 101.9 L529.9 101.9 L531.9 101.9 L533.9 101.9 L535.9 101.9 L537.9 101.9 L539.9 101.9 L541.9 101.9 L543.9 101.9 L545.9 101.9 L547.9 101.9 L549.9 101.9 L551.9 101.9 L553.9 101.9 L555.9 101.9 L557.9 101.9 L559.9 101.9 L561.9 101.9 L563.9 101.9 L565.9 101.9 L567.9 101.9 L569.9 101.9 L571.9 101.9 L573.9 101.9 L575.9 101.9 L577.9 101.9 L579.9 101.9 L581.9 101.9 L583.9 101.9 L585.9 101.9 L587.9 101.9 L589.9 101.9 L591.9 101.9 L593.9 101.9 L595.9 101.9 L597.9 101.9 L599.9 101.9 L601.9 101.9 L603.9 101.9 L605.9 101.9 L607.9 101.9 L609.9 101.9 L611.9 101.9 L613.9 101.9 L615.9 101.9 L617.9 101.9 L619.9 101.9 L621.9 101.9 L623.9 101.9 L625.9 101.9 L627.9 101.9 L629.9 101.9 L631.9 101.9 L633.9 101.9 L635.9 101.9 L637.9 101.9 L639.9 101.9 L641.9 101.9 L643.9 101.9 L645.9 101.9 L647.9 101.9 L649.9 101.9 L651.9 101.9 L653.9 101.9 L655.9 101.9 L657.9 101.9 L659.9 101.9 L661.9 101.9 L663.9 101.9 L665.9 101.9 L667.9 102 L669.8 102 L671.8 102 L673.8 102 L675.8 102 L677.8 102 L679.8 102 L681.8 102 L683.8 102 L685.8 102 L687.8 102 L689.8 102 L691.8 102 L693.8 102 L695.8 102 L697.8 102 L699.8 102 L701.8 102 L703.8 102 L705.8 102 L707.8 102 L709.8 102 L711.8 102 L713.8 102 L715.8 102 L717.8 102 L719.8 102 L721.8 102 L723.8 102 L725.8 102 L727.8 102 L729.8 102 L731.8 102 L733.8 102 L735.8 102 L737.8 102 L739.8 102 L741.8 102 L743.8 102 L745.8 102 L747.8 102 L749.8 102 L751.8 102 L753.8 102 L755.8 102 L757.8 102 L759.8 102 L761.8 102 L763.8 102 L765.8 102 L767.8 102 L769.8 102 L771.8 102 L773.8 102 L775.8 102 L777.8 102 L779.8 102 L781.8 102 L783.8 102 L785.8 102 L787.8 102.1 L789.8 102.1 L791.8 102.1 L793.8 102.1 L795.8 102.1 L797.8 102.1 L799.8 102.1 L801.8 102.1 L803.8 102.1 L805.8 102.1 L807.8 102.1 L809.8 102.1 L811.8 102.1 L813.8 102.1 L815.8 102.1 L817.8 102.1 L819.8 102.1 L821.8 102.1 L823.8 102.1 L825.8 102.1 L827.8 102.1 L829.8 102.1 L831.8 102.1 L833.8 102.1 L835.8 102.1 L837.8 102.1 L839.8 102.1 L841.8 102.1 L843.8 102.1 L845.8 102.1 L847.7 102.1 L849.7 102.1 L851.7 102.1 L853.7 102.1 L855.7 102.1 L857.7 102.1 L859.7 102.2 L861.7 102.2 L863.7 102.2 L865.7 102.2 L867.7 102.2 L869.7 102.2 L871.7 102.2 L873.7 102.2 L875.7 102.2 L877.7 102.2 L879.7 102.2 L881.7 102.2 L883.7 102.2 L885.7 102.2 L887.7 102.2 L889.7 102.2 L891.7 102.2 L893.7 102.2 L895.7 102.2 L897.7 102.2 L899.7 102.2 L901.7 102.2 L903.7 102.2 L905.7 102.2 L907.7 102.2 L909.7 102.2 L911.7 102.2 L913.7 102.3 L915.7 102.3 L917.7 102.3 L919.7 102.3 L921.7 102.3 L923.7 102.3 L925.7 102.3 L927.7 102.3 L929.7 102.3 L931.7 102.3 L933.7 102.3 L935.7 102.3 L936.7 102.3 L936.7 709.9 L144 709.9Z" fill="#00ff00"/>
<path d="M96.5 708.9 L144.4 703 L146.3 702.1 L148.3 701.3 L150.2 700.4 L152.1 699.6 L154.1 698.8 L156 698 L157.9 697.2 L159.9 696.5 L161.8 695.8 L163.7 695.1 L165.6 694.5 L167.6 693.9 L169.5 693.3 L171.4 692.8 L173.4 692.3 L175.3 691.9 L177.2 691.5 L179.2 691.1 L181.1 690.8 L183 690.4 L185 690.1 L186.9 689.8 L188.9 689.5 L190.8 689.2 L192.7 688.9 L194.7 688.7 L196.6 688.4 L198.5 688.2 L200.5 687.9 L202.4 687.7 L204.3 687.5 L206.3 687.2 L208.2 687 L210.2 686.8 L212.1 686.6 L214 686.4 L216 686.1 L217.9 685.9 L219.9 685.7 L221.9 685.4 L223.9 685.2 L225.8 685 L227.8 684.8 L229.8 684.5 L231.8 684.3 L233.8 684.1 L235.8 683.9 L237.7 683.7 L239.7 683.5 L241.7 683.3 L243.7 683.1 L245.7 682.9 L247.7 682.7 L249.6 682.5 L251.6 682.3 L253.6 682.1 L255.6 681.9 L257.6 681.7 L259.6 681.5 L261.5 681.3 L263.5 681.1 L265.5 681 L267.5 680.8 L269.5 680.6 L271.5 680.4 L273.4 680.2 L275.4 680 L277.4 679.8 L279.4 679.7 L281.4 679.5 L283.4 679.3 L285.3 679.1 L287.3 678.9 L289.3 678.7 L291.3 678.5 L293.3 678.4 L295.3 678.2 L297.2 678 L299.2 677.8 L301.2 677.6 L303.2 677.4 L305.2 677.2 L307.2 677 L309.1 676.8 L311.1 676.6 L313.1 676.4 L315.1 676.2 L317 676 L319 675.9 L321 675.7 L323 675.5 L324.9 675.3 L326.9 675.1 L328.9 674.9 L330.9 674.7 L332.8 674.5 L334.8 674.3 L336.8 674.1 L338.8 673.9 L340.7 673.8 L342.7 673.6 L344.7 673.4 L346.7 673.2 L348.6 673 L350.6 672.8 L352.6 672.6 L354.6 672.4 L356.5 672.2 L358.5 672 L360.5 671.9 L362.5 671.7 L364.4 671.5 L366.4 671.3 L368.4 671.1 L370.4 670.9 L372.3 670.7 L374.3 670.5 L376.3 670.3 L378.3 670.1 L380.2 669.9 L382.2 669.7 L384.2 669.6 L386.2 669.4 L388.1 669.2 L390.1 669 L392.1 668.8 L394.1 668.6 L396 668.4 L398 668.2 L400 668 L402 667.8 L404 667.6 L406 667.4 L408 667.2 L410 667 L412 666.8 L414 666.6 L416 666.4 L418 666.2 L420 666 L422 665.8 L424 665.6 L426 665.4 L428 665.2 L430 665 L432 664.8 L434 664.6 L436 664.4 L438 664.2 L440 664 L442 663.7 L444 663.5 L446 663.3 L448 663.1 L450 662.9 L452 662.7 L454 662.5 L456 662.3 L458 662.1 L460 661.9 L462 661.7 L464 661.5 L466 661.3 L468 661.1 L470 660.9 L472 660.7 L474 660.5 L476 660.3 L478 660.1 L480 659.9 L482 659.7 L484 659.5 L486 659.3 L488 659.1 L490 658.9 L492 658.7 L494 658.5 L496 658.3 L497.9 658.1 L499.9 657.9 L501.9 657.7 L503.9 657.5 L505.9 657.4 L507.9 657.2 L509.9 657 L511.8 656.8 L513.8 656.6 L515.8 656.4 L517.8 656.2 L519.8 656 L521.8 655.8 L523.8 655.6 L525.7 655.5 L527.7 655.3 L529.7 655.1 L531.7 654.9 L533.7 654.7 L535.7 654.5 L537.7 654.3 L539.6 654.2 L541.6 654 L543.6 653.8 L545.6 653.6 L547.6 653.4 L549.6 653.2 L551.6 653 L553.5 652.9 L555.5 652.7 L557.5 652.5 L559.5 652.3 L561.5 652.1 L563.5 651.9 L565.5 651.7 L567.4 651.6 L569.4 651.4 L571.4 651.2 L573.4 651 L575.4 650.8 L577.4 650.6 L579.4 650.5 L581.3 650.3 L583.3 650.1 L585.3 649.9 L587.3 649.7 L589.3 649.5 L591.3 649.3 L593.2 649.2 L595.2 649 L597.2 648.8 L599.2 648.6 L601.2 648.4 L603.2 648.2 L605.2 648.1 L607.1 647.9 L609.1 647.7 L611.1 647.5 L613.1 647.3 L615.1 647.1 L617.1 646.9 L619.1 646.8 L621 646.6 L623 646.4 L625 646.2 L627 646 L629 645.8 L631 645.6 L633 645.4 L634.9 645.3 L636.9 645.1 L638.9 644.9 L640.9 644.7 L642.9 644.5 L644.9 644.3 L646.9 644.1 L648.8 643.9 L650.8 643.7 L652.8 643.5 L654.8 643.4 L656.8 643.2 L658.8 643 L660.8 642.8 L662.7 642.6 L664.7 642.4 L666.7 642.2 L668.7 642 L670.7 641.8 L672.7 641.6 L674.7 641.4 L676.7 641.2 L678.7 641 L680.7 640.8 L682.6 640.6 L684.6 640.4 L686.6 640.2 L688.6 640 L690.6 639.8 L692.6 639.6 L694.6 639.4 L696.6 639.2 L698.6 639 L700.6 638.8 L702.6 638.7 L704.6 638.5 L706.6 638.3 L708.6 638.1 L710.5 637.9 L712.5 637.7 L714.5 637.5 L716.5 637.3 L718.5 637.1 L720.5 636.9 L722.5 636.7 L724.5 636.5 L726.5 636.3 L728.5 636.1 L730.5 635.9 L732.5 635.7 L734.5 635.5 L736.4 635.3 L738.4 635.1 L740.4 634.9 L742.4 634.7 L744.4 634.5 L746.4 634.3 L748.4 634.1 L750.4 633.9 L752.4 633.7 L754.4 633.5 L756.4 633.3 L758.4 633.1 L760.4 632.8 L762.3 632.6 L764.3 632.4 L766.3 632.2 L768.3 632 L770.3 631.8 L772.3 631.6 L774.3 631.4 L776.3 631.2 L778.3 631 L780.3 630.8 L782.3 630.6 L784.3 630.4 L786.3 630.2 L788.3 630 L790.2 629.8 L792.2 629.6 L794.2 629.4 L796.2 629.2 L798.2 629 L800.2 628.8 L802.2 628.6 L804.2 628.4 L806.2 628.2 L808.2 628 L810.2 627.8 L812.2 627.5 L814.2 627.3 L816.1 627.1 L818.1 626.9 L820.1 626.7 L822.1 626.5 L824.1 626.3 L826.1 626.1 L828.1 625.9 L830.1 625.7 L832.1 625.5 L834.1 625.3 L836.1 625.1 L838.1 624.9 L840.1 624.7 L842.1 624.4 L844 624.2 L846 624 L848 623.8 L850 623.6 L852 623.4 L854 623.2 L856 623 L858 622.8 L860 622.6 L862 622.4 L864 622.1 L866 621.9 L868 621.7 L869.9 621.5 L871.9 621.3 L873.9 621.1 L875.9 620.9 L877.9 620.7 L879.9 620.5 L881.9 620.3 L883.9 620 L885.9 619.8 L887.9 619.6 L889.9 619.4 L891.9 619.2 L893.9 619 L895.8 618.8 L897.8 618.6 L899.8 618.3 L901.8 618.1 L903.8 617.9 L905.8 617.7 L907.8 617.5 L909.8 617.3 L911.8 617.1 L913.8 616.9 L915.8 616.6 L917.8 616.4 L919.8 616.2 L921.8 616 L923.7 615.8 L925.7 615.6 L927.7 615.4 L929.7 615.1 L931.7 614.9 L933.7 614.7 L935.7 614.5 L936.7 614.5 L936.7 709.9 L96.5 709.9Z" fill="#008000"/>
<path d="M96.5 708.9 L145 48.1" fill="none" stroke="#000" stroke-width="1.2" stroke-linejoin="round"/>
<path d="M96.5 708.9 L145 49.1 L185.5 49.6 L196.2 55.4 L197.9 56.9 L199.6 58.4 L201.3 59.9 L203 61.4 L204.7 62.9 L206.4 64.4 L208.1 65.9 L209.8 67.5 L211.5 68.9 L213.2 70.4 L215 71.9 L216.8 73.4 L218.6 74.9 L220.3 76.4 L222.1 77.7 L223.9 78.9 L225.7 79.9 L227.4 80.9 L229.2 81.8 L231 82.6 L232.7 83.4 L234.5 84.2 L236.3 84.9 L238.1 85.6 L239.8 86.3 L241.6 86.9 L243.4 87.5 L245.2 88.1 L247 88.6 L248.8 89.2 L250.6 89.7 L252.3 90.1 L254.1 90.6 L255.9 91 L257.8 91.4 L259.8 91.8 L261.7 92.3 L263.6 92.6 L265.6 93 L267.5 93.4 L269.5 93.7 L271.4 94.1 L273.3 94.4 L275.3 94.6 L277.2 94.9 L279.1 95.1 L281.1 95.4 L283 95.6 L284.9 95.8 L286.9 96 L288.8 96.2 L290.8 96.3 L292.7 96.5 L294.6 96.7 L296.6 96.8 L298.5 97 L300.4 97.2 L302.4 97.3 L304.3 97.5 L306.2 97.7 L308.2 97.9 L310.1 98 L312.1 98.2 L314 98.3 L315.9 98.4 L317.9 98.5 L319.8 98.5 L321.8 98.5 L323.7 98.5 L325.7 98.6 L327.6 98.6 L329.6 98.6 L331.5 98.6 L333.5 98.6 L335.4 98.7 L337.4 98.7 L339.4 98.7 L341.3 98.7 L343.3 98.7 L345.2 98.7 L347.2 98.7 L349.1 98.8 L351.1 98.8 L353.1 98.8 L355 98.8 L357 98.8 L358.9 98.8 L360.9 98.8 L362.8 98.8 L364.8 98.8 L366.7 98.8 L368.7 98.8 L370.7 98.9 L372.6 98.9 L374.6 98.9 L376.5 98.9 L378.5 98.9 L380.4 98.9 L382.4 98.9 L384.4 98.9 L386.3 98.9 L388.3 98.9 L390.2 98.9 L392.2 98.9 L394.1 98.9 L396.1 98.9 L398 98.9 L400 98.9 L402 98.9 L404 98.9 L406 98.9 L408 98.9 L410 98.9 L412 98.9 L414 98.9 L416 98.9 L418 98.9 L420 98.9 L422 98.9 L424 98.9 L426 98.9 L428 98.9 L430 98.9 L432 98.9 L434 98.9 L436 98.9 L438 98.9 L440 98.9 L442 98.9 L444 98.9 L446 98.9 L448 98.9 L450 98.9 L452 98.9 L454 98.9 L456 98.9 L458 98.9 L460 98.9 L462 98.9 L464 98.9 L466 98.9 L468 98.9 L470 98.9 L472 98.9 L474 98.9 L476 98.9 L478 98.9 L480 98.9 L482 98.9 L484 98.9 L486 98.9 L488 98.9 L489.9 98.9 L491.9 98.9 L493.9 98.9 L495.9 98.9 L497.9 98.9 L499.9 98.9 L501.9 98.9 L503.9 98.9 L505.9 98.9 L507.9 98.9 L509.9 98.9 L511.9 98.9 L513.9 98.9 L515.9 98.9 L517.9 98.9 L519.9 98.9 L521.9 98.9 L523.9 98.9 L525.9 98.9 L527.9 98.9 L529.9 98.9 L531.9 98.9 L533.9 98.9 L535.9 98.9 L537.9 98.9 L539.9 98.9 L541.9 98.9 L543.9 98.9 L545.9 98.9 L547.9 98.9 L549.9 98.9 L551.9 98.9 L553.9 98.9 L555.9 98.9 L557.9 98.9 L559.9 98.9 L561.9 98.9 L563.9 98.9 L565.9 98.9 L567.9 98.9 L569.9 98.9 L571.9 98.9 L573.9 98.9 L575.9 98.9 L577.9 98.9 L579.9 98.9 L581.9 98.9 L583.9 98.9 L585.9 98.9 L587.9 98.9 L589.9 98.9 L591.9 98.9 L593.9 98.9 L595.9 98.9 L597.9 98.9 L599.9 98.9 L601.9 98.9 L603.9 98.9 L605.9 98.9 L607.9 98.9 L609.9 98.9 L611.9 98.9 L613.9 98.9 L615.9 98.9 L617.9 98.9 L619.9 98.9 L621.9 98.9 L623.9 98.9 L625.9 98.9 L627.9 98.9 L629.9 98.9 L631.9 98.9 L633.9 98.9 L635.9 98.9 L637.9 98.9 L639.9 98.9 L641.9 98.9 L643.9 98.9 L645.9 98.9 L647.9 98.9 L649.9 98.9 L651.9 98.9 L653.9 98.9 L655.9 98.9 L657.9 98.9 L659.9 98.9 L661.9 98.9 L663.9 98.9 L665.9 98.9 L667.9 98.9 L669.8 98.9 L671.8 98.9 L673.8 98.9 L675.8 98.9 L677.8 98.9 L679.8 98.9 L681.8 98.9 L683.8 98.9 L685.8 98.9 L687.8 98.9 L689.8 98.9 L691.8 98.9 L693.8 98.9 L695.8 98.9 L697.8 98.9 L699.8 98.9 L701.8 98.9 L703.8 98.9 L705.8 98.9 L707.8 98.9 L709.8 98.9 L711.8 98.9 L713.8 98.9 L715.8 98.9 L717.8 98.9 L719.8 98.9 L721.8 98.9 L723.8 98.9 L725.8 98.9 L727.8 98.9 L729.8 98.9 L731.8 98.9 L733.8 98.9 L735.8 98.9 L737.8 98.8 L739.8 98.8 L741.8 98.8 L743.8 98.8 L745.8 98.8 L747.8 98.8 L749.8 98.8 L751.8 98.8 L753.8 98.8 L755.8 98.8 L757.8 98.8 L759.8 98.8 L761.8 98.8 L763.8 98.8 L765.8 98.8 L767.8 98.8 L769.8 98.8 L771.8 98.8 L773.8 98.8 L775.8 98.8 L777.8 98.8 L779.8 98.8 L781.8 98.8 L783.8 98.8 L785.8 98.8 L787.8 98.8 L789.8 98.8 L791.8 98.8 L793.8 98.8 L795.8 98.8 L797.8 98.8 L799.8 98.8 L801.8 98.8 L803.8 98.8 L805.8 98.8 L807.8 98.8 L809.8 98.8 L811.8 98.8 L813.8 98.8 L815.8 98.8 L817.8 98.8 L819.8 98.8 L821.8 98.8 L823.8 98.8 L825.8 98.8 L827.8 98.8 L829.8 98.8 L831.8 98.8 L833.8 98.8 L835.8 98.8 L837.8 98.8 L839.8 98.8 L841.8 98.8 L843.8 98.8 L845.8 98.8 L847.7 98.8 L849.7 98.8 L851.7 98.8 L853.7 98.8 L855.7 98.8 L857.7 98.8 L859.7 98.8 L861.7 98.8 L863.7 98.8 L865.7 98.8 L867.7 98.8 L869.7 98.8 L871.7 98.8 L873.7 98.8 L875.7 98.8 L877.7 98.8 L879.7 98.8 L881.7 98.8 L883.7 98.8 L885.7 98.8 L887.7 98.7 L889.7 98.7 L891.7 98.7 L893.7 98.7 L895.7 98.7 L897.7 98.7 L899.7 98.7 L901.7 98.7 L903.7 98.7 L905.7 98.7 L907.7 98.7 L909.7 98.7 L911.7 98.7 L913.7 98.7 L915.7 98.7 L917.7 98.7 L919.7 98.7 L921.7 98.7 L923.7 98.7 L925.7 98.7 L927.7 98.7 L929.7 98.7 L931.7 98.7 L933.7 98.7 L935.7 98.7" fill="none" stroke="#000" stroke-width="1.1" stroke-linejoin="round"/>
<path d="M144 703 L144.3 697 L144.6 691.2 L144.9 685.5 L145.2 680 L145.6 674.7 L145.9 669.6 L146.2 664.7 L146.5 660 L146.9 653.9 L147.4 648.6 L147.8 643.5 L148.3 638.3 L148.8 632.6 L149.2 626 L149.5 621.5 L149.7 616.4 L150 610.7 L150.2 604.8 L150.5 598.7 L150.7 592.6 L151 586.8 L151.2 581.3 L151.5 576.4 L151.9 569.9 L152.2 563.9 L152.6 558.1 L153 552.6 L153.4 547.2 L153.8 541.9 L154.1 536.5 L154.5 530.9 L154.9 525.1 L155.2 519.3 L155.6 513.4 L156 507.5 L156.4 501.7 L156.8 496 L157.1 490.5 L157.5 485.3 L157.9 479.4 L158.4 473.6 L158.8 468 L159.3 462.6 L159.7 457.3 L160.2 452.3 L160.6 447.4 L161.1 441.7 L161.7 436.4 L162.2 431.3 L162.8 426.3 L163.3 421.4 L163.9 416.3 L164.4 411 L165 405.3 L165.5 399.4 L166.1 393.4 L166.7 387.4 L167.2 381.4 L167.8 375.4 L168.3 369.6 L168.9 363.9 L169.5 358 L170.1 352.1 L170.7 346.4 L171.3 340.8 L171.9 335.3 L172.5 330 L173.2 324.3 L173.8 318.6 L174.5 313.1 L175.2 307.8 L175.8 302.7 L176.5 297.9 L177.4 292.1 L178.2 286.7 L179.1 281.6 L179.9 276.5 L180.8 271.3 L181.6 266.2 L182.5 261.1 L183.3 255.9 L184.2 250.8 L185 245.7 L185.9 239.5 L186.9 233 L187.9 227 L188.8 222.2 L190.7 215.5 L192.7 210.3 L194.6 205.2 L196.5 200.2 L198.4 195 L199.6 191 L200.9 186.7 L202.1 182.5 L203.9 176.8 L205.6 171.4 L207.4 166.5 L209.2 162.2 L211 158.3 L212.8 154.7 L214.6 151.4 L216.3 148.3 L218.1 145.7 L219.8 143.6 L221.5 141.7 L223.2 139.9 L224.9 138.2 L226.6 136.6 L228.4 134.9 L230.2 133.2 L231.9 131.5 L233.7 129.9 L235.5 128.4 L237.3 127 L239.1 125.7 L240.8 124.4 L242.6 123.3 L244.4 122.1 L246.1 121.1 L247.9 120.1 L249.7 119.2 L251.5 118.3 L253.2 117.5 L255 116.7 L256.8 116 L258.6 115.3 L260.4 114.6 L262.2 114 L264 113.3 L265.7 112.7 L267.5 112.1 L269.3 111.6 L271.1 111.1 L272.8 110.6 L274.6 110.1 L276.4 109.7 L278.1 109.3 L279.9 108.9 L281.7 108.5 L283.5 108.2 L285.2 107.9 L287 107.6 L288.8 107.3 L290.6 107 L292.4 106.8 L294.1 106.5 L295.9 106.3 L297.7 106.1 L299.4 105.9 L301.2 105.7 L303.1 105.5 L305 105.3 L306.8 105.2 L308.7 105 L310.6 104.8 L312.5 104.7 L314.4 104.5 L316.2 104.4 L318.1 104.2 L320 104.1 L321.9 104 L323.9 103.8 L325.8 103.7 L327.7 103.5 L329.6 103.4 L331.6 103.3 L333.5 103.1 L335.4 103 L337.3 102.9 L339.3 102.9 L341.2 102.8 L343.2 102.7 L345.1 102.7 L347.1 102.6 L349 102.6 L351 102.5 L353 102.5 L354.9 102.5 L356.9 102.4 L358.8 102.4 L360.8 102.3 L362.8 102.3 L364.7 102.3 L366.7 102.2 L368.6 102.2 L370.6 102.2 L372.6 102.1 L374.5 102.1 L376.5 102.1 L378.4 102 L380.4 102 L382.4 102 L384.3 102 L386.3 102 L388.2 101.9 L390.2 101.9 L392.2 101.9 L394.1 101.9 L396.1 101.9 L398 101.9 L400 101.9 L402 101.9 L404 101.9 L406 101.9 L408 101.9 L410 101.9 L412 101.9 L414 101.9 L416 101.9 L418 101.9 L420 101.9 L422 101.9 L424 101.9 L426 101.9 L428 101.9 L430 101.9 L432 101.9 L434 101.9 L436 101.9 L438 101.9 L440 101.9 L442 101.9 L444 101.9 L446 101.9 L448 101.9 L450 101.9 L452 101.9 L454 101.9 L456 101.9 L458 101.9 L460 101.9 L462 101.9 L464 101.9 L466 101.9 L468 101.9 L470 101.9 L472 101.9 L474 101.9 L476 101.9 L478 101.9 L480 101.9 L482 101.9 L484 101.9 L486 101.9 L488 101.9 L489.9 101.9 L491.9 101.9 L493.9 101.9 L495.9 101.9 L497.9 101.9 L499.9 101.9 L501.9 101.9 L503.9 101.9 L505.9 101.9 L507.9 101.9 L509.9 101.9 L511.9 101.9 L513.9 101.9 L515.9 101.9 L517.9 101.9 L519.9 101.9 L521.9 101.9 L523.9 101.9 L525.9 101.9 L527.9 101.9 L529.9 101.9 L531.9 101.9 L533.9 101.9 L535.9 101.9 L537.9 101.9 L539.9 101.9 L541.9 101.9 L543.9 101.9 L545.9 101.9 L547.9 101.9 L549.9 101.9 L551.9 101.9 L553.9 101.9 L555.9 101.9 L557.9 101.9 L559.9 101.9 L561.9 101.9 L563.9 101.9 L565.9 101.9 L567.9 101.9 L569.9 101.9 L571.9 101.9 L573.9 101.9 L575.9 101.9 L577.9 101.9 L579.9 101.9 L581.9 101.9 L583.9 101.9 L585.9 101.9 L587.9 101.9 L589.9 101.9 L591.9 101.9 L593.9 101.9 L595.9 101.9 L597.9 101.9 L599.9 101.9 L601.9 101.9 L603.9 101.9 L605.9 101.9 L607.9 101.9 L609.9 101.9 L611.9 101.9 L613.9 101.9 L615.9 101.9 L617.9 101.9 L619.9 101.9 L621.9 101.9 L623.9 101.9 L625.9 101.9 L627.9 101.9 L629.9 101.9 L631.9 101.9 L633.9 101.9 L635.9 101.9 L637.9 101.9 L639.9 101.9 L641.9 101.9 L643.9 101.9 L645.9 101.9 L647.9 101.9 L649.9 101.9 L651.9 101.9 L653.9 101.9 L655.9 101.9 L657.9 101.9 L659.9 101.9 L661.9 101.9 L663.9 101.9 L665.9 101.9 L667.9 102 L669.8 102 L671.8 102 L673.8 102 L675.8 102 L677.8 102 L679.8 102 L681.8 102 L683.8 102 L685.8 102 L687.8 102 L689.8 102 L691.8 102 L693.8 102 L695.8 102 L697.8 102 L699.8 102 L701.8 102 L703.8 102 L705.8 102 L707.8 102 L709.8 102 L711.8 102 L713.8 102 L715.8 102 L717.8 102 L719.8 102 L721.8 102 L723.8 102 L725.8 102 L727.8 102 L729.8 102 L731.8 102 L733.8 102 L735.8 102 L737.8 102 L739.8 102 L741.8 102 L743.8 102 L745.8 102 L747.8 102 L749.8 102 L751.8 102 L753.8 102 L755.8 102 L757.8 102 L759.8 102 L761.8 102 L763.8 102 L765.8 102 L767.8 102 L769.8 102 L771.8 102 L773.8 102 L775.8 102 L777.8 102 L779.8 102 L781.8 102 L783.8 102 L785.8 102 L787.8 102.1 L789.8 102.1 L791.8 102.1 L793.8 102.1 L795.8 102.1 L797.8 102.1 L799.8 102.1 L801.8 102.1 L803.8 102.1 L805.8 102.1 L807.8 102.1 L809.8 102.1 L811.8 102.1 L813.8 102.1 L815.8 102.1 L817.8 102.1 L819.8 102.1 L821.8 102.1 L823.8 102.1 L825.8 102.1 L827.8 102.1 L829.8 102.1 L831.8 102.1 L833.8 102.1 L835.8 102.1 L837.8 102.1 L839.8 102.1 L841.8 102.1 L843.8 102.1 L845.8 102.1 L847.7 102.1 L849.7 102.1 L851.7 102.1 L853.7 102.1 L855.7 102.1 L857.7 102.1 L859.7 102.2 L861.7 102.2 L863.7 102.2 L865.7 102.2 L867.7 102.2 L869.7 102.2 L871.7 102.2 L873.7 102.2 L875.7 102.2 L877.7 102.2 L879.7 102.2 L881.7 102.2 L883.7 102.2 L885.7 102.2 L887.7 102.2 L889.7 102.2 L891.7 102.2 L893.7 102.2 L895.7 102.2 L897.7 102.2 L899.7 102.2 L901.7 102.2 L903.7 102.2 L905.7 102.2 L907.7 102.2 L909.7 102.2 L911.7 102.2 L913.7 102.3 L915.7 102.3 L917.7 102.3 L919.7 102.3 L921.7 102.3 L923.7 102.3 L925.7 102.3 L927.7 102.3 L929.7 102.3 L931.7 102.3 L933.7 102.3 L935.7 102.3" fill="none" stroke="#000" stroke-width="1.1" stroke-linejoin="round"/>
<path d="M96.5 708.9 L144.5 276.6 L145.4 270.9 L146.4 265.3 L147.3 259.8 L148.2 254.4 L149.2 249.1 L150.1 244 L151.1 238.9 L152 234 L153.1 228.3 L154.3 223 L155.4 217.9 L156.6 212.8 L157.7 207.6 L158.9 202.1 L160 196 L160.8 190.9 L161.6 186 L162.7 181.5 L163.7 177.7 L164.8 173.9 L166.1 168.5 L167.4 163 L168.8 157.5 L170.1 152.6 L171.9 146.8 L173.6 141.5 L175.4 136.6 L177.2 132 L179 127.7 L180.8 123.8 L182.6 120.2 L184.3 116.9 L186.1 114.2 L187.9 112.1 L189.6 110.4 L191.4 108.9 L193.2 107.5 L195 106.3 L196.8 105.2 L198.6 104.2 L200.3 103.2 L202.1 102.5 L203.9 101.9 L205.6 101.4 L207.4 101.2 L209.3 101.1 L211.2 101.1 L213.2 101 L215.1 101 L217 101 L218.9 101 L220.8 100.9 L222.8 100.9 L224.7 100.9 L226.6 100.9 L228.6 100.9 L230.6 100.9 L232.6 100.9 L234.5 100.9 L236.5 100.8 L238.5 100.8 L240.5 100.8 L242.5 100.8 L244.5 100.8 L246.5 100.8 L248.5 100.8 L250.4 100.8 L252.4 100.8 L254.4 100.8 L256.4 100.7 L258.4 100.7 L260.4 100.7 L262.4 100.7 L264.4 100.7 L266.3 100.7 L268.3 100.7 L270.3 100.7 L272.3 100.7 L274.3 100.7 L276.3 100.7 L278.3 100.7 L280.3 100.7 L282.2 100.7 L284.2 100.7 L286.2 100.6 L288.2 100.6 L290.2 100.6 L292.2 100.6 L294.2 100.6 L296.2 100.6 L298.1 100.6 L300.1 100.6 L302.1 100.6 L304.1 100.6 L306.1 100.6 L308.1 100.6 L310.1 100.6 L312.1 100.6 L314 100.6 L316 100.6 L318 100.6 L320 100.6 L322 100.6 L324 100.6 L326 100.6 L328 100.6 L330 100.6 L332 100.6 L334 100.6 L336 100.6 L338 100.6 L340 100.6 L342 100.6 L344 100.6 L346 100.6 L348 100.6 L350 100.6 L352 100.6 L354 100.6 L356 100.6 L358 100.6 L360 100.6 L362 100.6 L364 100.6 L366 100.6 L368 100.6 L370 100.6 L372 100.6 L374 100.6 L376 100.6 L378 100.6 L380 100.6 L382 100.6 L384 100.6 L386 100.6 L388 100.6 L390 100.6 L392 100.6 L394 100.6 L396 100.6 L398 100.6 L400 100.6 L402 100.6 L404 100.6 L406 100.6 L408 100.6 L410 100.6 L412 100.6 L414 100.6 L416 100.6 L418 100.6 L420 100.6 L422 100.6 L423.9 100.6 L425.9 100.6 L427.9 100.6 L429.9 100.6 L431.9 100.6 L433.9 100.6 L435.9 100.6 L437.9 100.6 L439.9 100.6 L441.9 100.6 L443.9 100.6 L445.9 100.6 L447.9 100.6 L449.9 100.6 L451.9 100.6 L453.9 100.6 L455.9 100.6 L457.9 100.6 L459.9 100.6 L461.9 100.6 L463.9 100.6 L465.9 100.6 L467.9 100.6 L469.9 100.6 L471.9 100.6 L473.9 100.5 L475.9 100.5 L477.9 100.5 L479.9 100.5 L481.9 100.5 L483.9 100.5 L485.9 100.5 L487.9 100.5 L489.9 100.5 L491.9 100.5 L493.9 100.5 L495.9 100.5 L497.9 100.5 L499.9 100.5 L501.9 100.5 L503.9 100.5 L505.9 100.5 L507.9 100.5 L509.9 100.5 L511.9 100.5 L513.9 100.5 L515.9 100.5 L517.9 100.5 L519.9 100.5 L521.9 100.5 L523.9 100.5 L525.9 100.5 L527.9 100.5 L529.9 100.5 L531.9 100.5 L533.9 100.5 L535.9 100.5 L537.9 100.5 L539.9 100.5 L541.9 100.5 L543.9 100.5 L545.9 100.5 L547.9 100.5 L549.9 100.5 L551.9 100.5 L553.9 100.5 L555.9 100.5 L557.9 100.5 L559.9 100.5 L561.9 100.5 L563.9 100.5 L565.9 100.5 L567.9 100.5 L569.9 100.5 L571.9 100.5 L573.9 100.5 L575.9 100.5 L577.9 100.5 L579.9 100.5 L581.9 100.5 L583.9 100.5 L585.9 100.5 L587.9 100.5 L589.9 100.5 L591.9 100.5 L593.9 100.5 L595.9 100.5 L597.9 100.5 L599.9 100.5 L601.9 100.5 L603.9 100.5 L605.9 100.5 L607.9 100.5 L609.9 100.5 L611.9 100.5 L613.9 100.5 L615.9 100.5 L617.9 100.5 L619.9 100.5 L621.9 100.5 L623.9 100.5 L625.9 100.5 L627.9 100.5 L629.8 100.5 L631.8 100.5 L633.8 100.5 L635.8 100.5 L637.8 100.5 L639.8 100.5 L641.8 100.5 L643.8 100.5 L645.8 100.5 L647.8 100.5 L649.8 100.5 L651.8 100.5 L653.8 100.5 L655.8 100.5 L657.8 100.5 L659.8 100.5 L661.8 100.5 L663.8 100.5 L665.8 100.5 L667.8 100.5 L669.8 100.5 L671.8 100.5 L673.8 100.5 L675.8 100.5 L677.8 100.5 L679.8 100.5 L681.8 100.5 L683.8 100.5 L685.8 100.5 L687.8 100.5 L689.8 100.5 L691.8 100.5 L693.8 100.5 L695.8 100.5 L697.8 100.5 L699.8 100.5 L701.8 100.5 L703.8 100.5 L705.8 100.5 L707.8 100.5 L709.8 100.5 L711.8 100.5 L713.8 100.5 L715.8 100.5 L717.8 100.5 L719.8 100.5 L721.8 100.5 L723.8 100.5 L725.8 100.5 L727.8 100.5 L729.8 100.5 L731.8 100.5 L733.8 100.5 L735.8 100.5 L737.8 100.5 L739.8 100.5 L741.8 100.5 L743.8 100.5 L745.8 100.5 L747.8 100.5 L749.8 100.5 L751.8 100.5 L753.8 100.5 L755.8 100.5 L757.8 100.5 L759.8 100.5 L761.8 100.5 L763.8 100.5 L765.8 100.5 L767.8 100.5 L769.8 100.5 L771.8 100.5 L773.8 100.5 L775.8 100.5 L777.8 100.5 L779.8 100.5 L781.8 100.5 L783.8 100.5 L785.8 100.5 L787.8 100.5 L789.8 100.5 L791.8 100.5 L793.8 100.5 L795.8 100.5 L797.8 100.5 L799.8 100.5 L801.8 100.5 L803.8 100.5 L805.8 100.5 L807.8 100.5 L809.8 100.5 L811.8 100.5 L813.8 100.5 L815.8 100.5 L817.8 100.5 L819.8 100.5 L821.8 100.5 L823.8 100.5 L825.8 100.5 L827.8 100.5 L829.8 100.5 L831.8 100.5 L833.7 100.5 L835.7 100.5 L837.7 100.5 L839.7 100.5 L841.7 100.5 L843.7 100.5 L845.7 100.5 L847.7 100.5 L849.7 100.5 L851.7 100.5 L853.7 100.5 L855.7 100.5 L857.7 100.5 L859.7 100.5 L861.7 100.5 L863.7 100.5 L865.7 100.5 L867.7 100.5 L869.7 100.5 L871.7 100.5 L873.7 100.5 L875.7 100.5 L877.7 100.5 L879.7 100.5 L881.7 100.5 L883.7 100.5 L885.7 100.5 L887.7 100.5 L889.7 100.5 L891.7 100.5 L893.7 100.5 L895.7 100.5 L897.7 100.5 L899.7 100.5 L901.7 100.5 L903.7 100.5 L905.7 100.5 L907.7 100.5 L909.7 100.5 L911.7 100.5 L913.7 100.5 L915.7 100.5 L917.7 100.5 L919.7 100.5 L921.7 100.5 L923.7 100.5 L925.7 100.5 L927.7 100.5 L929.7 100.5 L931.7 100.5 L933.7 100.5 L935.7 100.5" fill="none" stroke="#000" stroke-width="2.0" stroke-linejoin="round"/>
<path d="M96.5 708.9 L144.4 703 L146.3 702.1 L148.3 701.3 L150.2 700.4 L152.1 699.6 L154.1 698.8 L156 698 L157.9 697.2 L159.9 696.5 L161.8 695.8 L163.7 695.1 L165.6 694.5 L167.6 693.9 L169.5 693.3 L171.4 692.8 L173.4 692.3 L175.3 691.9 L177.2 691.5 L179.2 691.1 L181.1 690.8 L183 690.4 L185 690.1 L186.9 689.8 L188.9 689.5 L190.8 689.2 L192.7 688.9 L194.7 688.7 L196.6 688.4 L198.5 688.2 L200.5 687.9 L202.4 687.7 L204.3 687.5 L206.3 687.2 L208.2 687 L210.2 686.8 L212.1 686.6 L214 686.4 L216 686.1 L217.9 685.9 L219.9 685.7 L221.9 685.4 L223.9 685.2 L225.8 685 L227.8 684.8 L229.8 684.5 L231.8 684.3 L233.8 684.1 L235.8 683.9 L237.7 683.7 L239.7 683.5 L241.7 683.3 L243.7 683.1 L245.7 682.9 L247.7 682.7 L249.6 682.5 L251.6 682.3 L253.6 682.1 L255.6 681.9 L257.6 681.7 L259.6 681.5 L261.5 681.3 L263.5 681.1 L265.5 681 L267.5 680.8 L269.5 680.6 L271.5 680.4 L273.4 680.2 L275.4 680 L277.4 679.8 L279.4 679.7 L281.4 679.5 L283.4 679.3 L285.3 679.1 L287.3 678.9 L289.3 678.7 L291.3 678.5 L293.3 678.4 L295.3 678.2 L297.2 678 L299.2 677.8 L301.2 677.6 L303.2 677.4 L305.2 677.2 L307.2 677 L309.1 676.8 L311.1 676.6 L313.1 676.4 L315.1 676.2 L317 676 L319 675.9 L321 675.7 L323 675.5 L324.9 675.3 L326.9 675.1 L328.9 674.9 L330.9 674.7 L332.8 674.5 L334.8 674.3 L336.8 674.1 L338.8 673.9 L340.7 673.8 L342.7 673.6 L344.7 673.4 L346.7 673.2 L348.6 673 L350.6 672.8 L352.6 672.6 L354.6 672.4 L356.5 672.2 L358.5 672 L360.5 671.9 L362.5 671.7 L364.4 671.5 L366.4 671.3 L368.4 671.1 L370.4 670.9 L372.3 670.7 L374.3 670.5 L376.3 670.3 L378.3 670.1 L380.2 669.9 L382.2 669.7 L384.2 669.6 L386.2 669.4 L388.1 669.2 L390.1 669 L392.1 668.8 L394.1 668.6 L396 668.4 L398 668.2 L400 668 L402 667.8 L404 667.6 L406 667.4 L408 667.2 L410 667 L412 666.8 L414 666.6 L416 666.4 L418 666.2 L420 666 L422 665.8 L424 665.6 L426 665.4 L428 665.2 L430 665 L432 664.8 L434 664.6 L436 664.4 L438 664.2 L440 664 L442 663.7 L444 663.5 L446 663.3 L448 663.1 L450 662.9 L452 662.7 L454 662.5 L456 662.3 L458 662.1 L460 661.9 L462 661.7 L464 661.5 L466 661.3 L468 661.1 L470 660.9 L472 660.7 L474 660.5 L476 660.3 L478 660.1 L480 659.9 L482 659.7 L484 659.5 L486 659.3 L488 659.1 L490 658.9 L492 658.7 L494 658.5 L496 658.3 L497.9 658.1 L499.9 657.9 L501.9 657.7 L503.9 657.5 L505.9 657.4 L507.9 657.2 L509.9 657 L511.8 656.8 L513.8 656.6 L515.8 656.4 L517.8 656.2 L519.8 656 L521.8 655.8 L523.8 655.6 L525.7 655.5 L527.7 655.3 L529.7 655.1 L531.7 654.9 L533.7 654.7 L535.7 654.5 L537.7 654.3 L539.6 654.2 L541.6 654 L543.6 653.8 L545.6 653.6 L547.6 653.4 L549.6 653.2 L551.6 653 L553.5 652.9 L555.5 652.7 L557.5 652.5 L559.5 652.3 L561.5 652.1 L563.5 651.9 L565.5 651.7 L567.4 651.6 L569.4 651.4 L571.4 651.2 L573.4 651 L575.4 650.8 L577.4 650.6 L579.4 650.5 L581.3 650.3 L583.3 650.1 L585.3 649.9 L587.3 649.7 L589.3 649.5 L591.3 649.3 L593.2 649.2 L595.2 649 L597.2 648.8 L599.2 648.6 L601.2 648.4 L603.2 648.2 L605.2 648.1 L607.1 647.9 L609.1 647.7 L611.1 647.5 L613.1 647.3 L615.1 647.1 L617.1 646.9 L619.1 646.8 L621 646.6 L623 646.4 L625 646.2 L627 646 L629 645.8 L631 645.6 L633 645.4 L634.9 645.3 L636.9 645.1 L638.9 644.9 L640.9 644.7 L642.9 644.5 L644.9 644.3 L646.9 644.1 L648.8 643.9 L650.8 643.7 L652.8 643.5 L654.8 643.4 L656.8 643.2 L658.8 643 L660.8 642.8 L662.7 642.6 L664.7 642.4 L666.7 642.2 L668.7 642 L670.7 641.8 L672.7 641.6 L674.7 641.4 L676.7 641.2 L678.7 641 L680.7 640.8 L682.6 640.6 L684.6 640.4 L686.6 640.2 L688.6 640 L690.6 639.8 L692.6 639.6 L694.6 639.4 L696.6 639.2 L698.6 639 L700.6 638.8 L702.6 638.7 L704.6 638.5 L706.6 638.3 L708.6 638.1 L710.5 637.9 L712.5 637.7 L714.5 637.5 L716.5 637.3 L718.5 637.1 L720.5 636.9 L722.5 636.7 L724.5 636.5 L726.5 636.3 L728.5 636.1 L730.5 635.9 L732.5 635.7 L734.5 635.5 L736.4 635.3 L738.4 635.1 L740.4 634.9 L742.4 634.7 L744.4 634.5 L746.4 634.3 L748.4 634.1 L750.4 633.9 L752.4 633.7 L754.4 633.5 L756.4 633.3 L758.4 633.1 L760.4 632.8 L762.3 632.6 L764.3 632.4 L766.3 632.2 L768.3 632 L770.3 631.8 L772.3 631.6 L774.3 631.4 L776.3 631.2 L778.3 631 L780.3 630.8 L782.3 630.6 L784.3 630.4 L786.3 630.2 L788.3 630 L790.2 629.8 L792.2 629.6 L794.2 629.4 L796.2 629.2 L798.2 629 L800.2 628.8 L802.2 628.6 L804.2 628.4 L806.2 628.2 L808.2 628 L810.2 627.8 L812.2 627.5 L814.2 627.3 L816.1 627.1 L818.1 626.9 L820.1 626.7 L822.1 626.5 L824.1 626.3 L826.1 626.1 L828.1 625.9 L830.1 625.7 L832.1 625.5 L834.1 625.3 L836.1 625.1 L838.1 624.9 L840.1 624.7 L842.1 624.4 L844 624.2 L846 624 L848 623.8 L850 623.6 L852 623.4 L854 623.2 L856 623 L858 622.8 L860 622.6 L862 622.4 L864 622.1 L866 621.9 L868 621.7 L869.9 621.5 L871.9 621.3 L873.9 621.1 L875.9 620.9 L877.9 620.7 L879.9 620.5 L881.9 620.3 L883.9 620 L885.9 619.8 L887.9 619.6 L889.9 619.4 L891.9 619.2 L893.9 619 L895.8 618.8 L897.8 618.6 L899.8 618.3 L901.8 618.1 L903.8 617.9 L905.8 617.7 L907.8 617.5 L909.8 617.3 L911.8 617.1 L913.8 616.9 L915.8 616.6 L917.8 616.4 L919.8 616.2 L921.8 616 L923.7 615.8 L925.7 615.6 L927.7 615.4 L929.7 615.1 L931.7 614.9 L933.7 614.7 L935.7 614.5" fill="none" stroke="#000" stroke-width="1.9" stroke-linejoin="round"/>
<rect x="206" y="99.6" width="114" height="2.3" fill="#000"/>
<rect x="320" y="98.7" width="105" height="3.6" fill="#000"/>
<rect x="425" y="99.2" width="511.7" height="2.8" fill="#000"/>
</g>
<path d="M96.5 708.9 v-6.8 M96.5 49.1 v6.8 M175.7 708.9 v-6.8 M175.7 49.1 v6.8 M254.8 708.9 v-6.8 M254.8 49.1 v6.8 M334 708.9 v-6.8 M334 49.1 v6.8 M413.2 708.9 v-6.8 M413.2 49.1 v6.8 M492.3 708.9 v-6.8 M492.3 49.1 v6.8 M571.5 708.9 v-6.8 M571.5 49.1 v6.8 M650.7 708.9 v-6.8 M650.7 49.1 v6.8 M729.9 708.9 v-6.8 M729.9 49.1 v6.8 M809 708.9 v-6.8 M809 49.1 v6.8 M888.2 708.9 v-6.8 M888.2 49.1 v6.8 M96.5 708.9 h6.8 M935.7 708.9 h-6.8 M96.5 635.7 h6.8 M935.7 635.7 h-6.8 M96.5 562.5 h6.8 M935.7 562.5 h-6.8 M96.5 489.4 h6.8 M935.7 489.4 h-6.8 M96.5 416.2 h6.8 M935.7 416.2 h-6.8 M96.5 343 h6.8 M935.7 343 h-6.8 M96.5 269.9 h6.8 M935.7 269.9 h-6.8 M96.5 196.7 h6.8 M935.7 196.7 h-6.8 M96.5 123.5 h6.8 M935.7 123.5 h-6.8 M96.5 50.3 h6.8 M935.7 50.3 h-6.8" stroke="#262626" stroke-width="1.6" fill="none"/>
<rect x="96.5" y="49.1" width="839.2" height="659.8" fill="none" stroke="#262626" stroke-width="1.9"/>
<g class="tk">
<text x="95.3" y="744.9" text-anchor="middle">0</text>
<text x="174.5" y="744.9" text-anchor="middle">50</text>
<text x="253.6" y="744.9" text-anchor="middle">100</text>
<text x="332.8" y="744.9" text-anchor="middle">150</text>
<text x="412" y="744.9" text-anchor="middle">200</text>
<text x="491.1" y="744.9" text-anchor="middle">250</text>
<text x="570.3" y="744.9" text-anchor="middle">300</text>
<text x="649.5" y="744.9" text-anchor="middle">350</text>
<text x="728.7" y="744.9" text-anchor="middle">400</text>
<text x="807.8" y="744.9" text-anchor="middle">450</text>
<text x="887" y="744.9" text-anchor="middle">500</text>
<text x="83.2" y="718.3" text-anchor="end">0</text>
<text x="83.2" y="645.1" text-anchor="end">5</text>
<text x="83.2" y="571.9" text-anchor="end">10</text>
<text x="83.2" y="498.8" text-anchor="end">15</text>
<text x="83.2" y="425.6" text-anchor="end">20</text>
<text x="83.2" y="352.4" text-anchor="end">25</text>
<text x="83.2" y="279.2" text-anchor="end">30</text>
<text x="83.2" y="206.1" text-anchor="end">35</text>
<text x="83.2" y="132.9" text-anchor="end">40</text>
<text x="83.2" y="59.7" text-anchor="end">45</text>
</g>
<text class="lb" x="343.6" y="782" textLength="336.8" lengthAdjust="spacingAndGlyphs">Years since simulation start</text>
<text class="lb" transform="translate(40,445.6) rotate(-90)" textLength="134.6" lengthAdjust="spacingAndGlyphs">Mass (MT)</text>
<text class="tt" x="317.2" y="35.3" textLength="390.4" lengthAdjust="spacingAndGlyphs">Residual Gas saturation = 0.6</text>
<g transform="translate(647.9,207)">
<rect x="0" y="0" width="286" height="229.6" fill="#fff" stroke="#262626" stroke-width="1.6"/>
<rect x="7.6" y="7.4" width="77.6" height="23.4" fill="#008000" stroke="#000" stroke-width="1.5"/>
<text class="lg" x="90.2" y="28">Dissolved</text>
<rect x="7.6" y="39.4" width="77.6" height="23.4" fill="#00bf00" stroke="#000" stroke-width="1.5"/>
<text class="lg" x="90.2" y="60">Structural residual</text>
<rect x="7.6" y="71.3" width="77.6" height="23.4" fill="#00ff00" stroke="#000" stroke-width="1.5"/>
<text class="lg" x="90.2" y="91.9">Residual</text>
<rect x="7.6" y="103.2" width="77.6" height="23.4" fill="#80ff80" stroke="#000" stroke-width="1.5"/>
<text class="lg" x="90.2" y="123.8">Residual in plume</text>
<rect x="7.6" y="135.2" width="77.6" height="23.4" fill="#ffff33" stroke="#000" stroke-width="1.5"/>
<text class="lg" x="90.2" y="155.8">Structural plume</text>
<rect x="7.6" y="167.2" width="77.6" height="23.4" fill="#ffb833" stroke="#000" stroke-width="1.5"/>
<text class="lg" x="90.2" y="187.8">Free plume</text>
<rect x="7.6" y="199.1" width="77.6" height="23.4" fill="#ff3300" stroke="#000" stroke-width="1.5"/>
<text class="lg" x="90.2" y="219.7">Exited</text>
</g>
</g>
<text class="cp" y="2103.5"><tspan x="1338.7" textLength="95.2" lengthAdjust="spacingAndGlyphs">(<tspan class='b'>d</tspan>)</tspan> <tspan x="1448.7" textLength="251.5" lengthAdjust="spacingAndGlyphs">Storage</tspan> <tspan x="1718.3" textLength="411.4" lengthAdjust="spacingAndGlyphs">mechanisms</tspan></text>
<text class="cp" y="2211.6"><tspan x="1266.3" textLength="374.4" lengthAdjust="spacingAndGlyphs">breakdown</tspan> <tspan x="1659.4" textLength="94.7" lengthAdjust="spacingAndGlyphs">for</tspan> <tspan x="1773.8" textLength="287.7" lengthAdjust="spacingAndGlyphs">Residual</tspan> <tspan x="2077.9" textLength="128.8" lengthAdjust="spacingAndGlyphs">Gas</tspan></text>
<text class="cp" y="2318.6"><tspan x="1471.2" textLength="347.5" lengthAdjust="spacingAndGlyphs">Saturation</tspan> <tspan x="1836.2" textLength="45" lengthAdjust="spacingAndGlyphs">=</tspan> <tspan x="1899" textLength="91.3" lengthAdjust="spacingAndGlyphs">0.6</tspan></text>
</svg></body></html>
